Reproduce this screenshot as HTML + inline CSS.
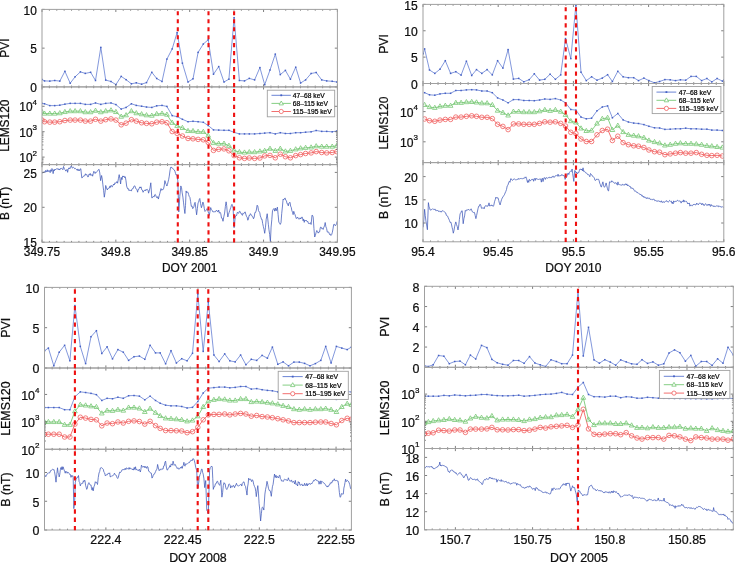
<!DOCTYPE html>
<html><head><meta charset="utf-8"><title>PVI LEMS B</title>
<style>
html,body{margin:0;padding:0;background:#fff;}
body{width:735px;height:562px;overflow:hidden;}
text{stroke:#000;stroke-width:0.22px;}
svg{display:block;will-change:transform;font-family:"Liberation Sans", sans-serif;}
</style></head>
<body>
<svg width="735" height="562" viewBox="0 0 735 562">
<rect width="735" height="562" fill="#fff"/>
<defs>
<clipPath id="tl0"><rect x="42" y="9.4" width="295.4" height="77.5"/></clipPath>
<clipPath id="tl1"><rect x="42" y="86.9" width="295.4" height="77.7"/></clipPath>
<clipPath id="tl2"><rect x="42" y="164.6" width="295.4" height="77.6"/></clipPath>
</defs>
<g clip-path="url(#tl0)">
<polyline points="42,79.5 44.5,80.9 49.8,81.1 54.7,80.5 59.8,81.1 64.9,71.3 70.2,83.2 75.1,76.8 80.4,71.9 85.3,73.4 90.6,72.3 95.5,80.5 100.8,47.4 105.7,80.1 111,81.5 115.9,84.6 121.2,76.4 126.1,79.7 131.4,83.8 136.3,82.8 141.6,84.2 146.5,82.6 151.8,72.3 156.7,78.5 162,81.5 166.9,59.1 172.2,48.9 177.1,32.6 182.4,63.2 188,82 193,78.8 198.1,52.4 203.3,44 208.2,39.8 213.5,74.2 218.7,66.6 224,82 228.9,79.2 234.1,17.7 239.4,80.5 244.5,80.9 249.3,78.4 254.6,79.9 259.9,67.6 264.7,84.7 270,70 275.3,54.1 280.3,74.6 285.4,70.4 290.4,79.2 295.7,67.2 300.6,83 305.6,79.9 311.1,73.5 316.2,72.5 321.7,79.9 326.7,80.9 332.2,81.3 336.8,82" fill="none" stroke="#5a76d0" stroke-width="0.75"/>
<rect x="41.25" y="78.75" width="1.5" height="1.5" fill="#4560c4"/>
<rect x="43.75" y="80.15" width="1.5" height="1.5" fill="#4560c4"/>
<rect x="49.05" y="80.35" width="1.5" height="1.5" fill="#4560c4"/>
<rect x="53.95" y="79.75" width="1.5" height="1.5" fill="#4560c4"/>
<rect x="59.05" y="80.35" width="1.5" height="1.5" fill="#4560c4"/>
<rect x="64.15" y="70.55" width="1.5" height="1.5" fill="#4560c4"/>
<rect x="69.45" y="82.45" width="1.5" height="1.5" fill="#4560c4"/>
<rect x="74.35" y="76.05" width="1.5" height="1.5" fill="#4560c4"/>
<rect x="79.65" y="71.15" width="1.5" height="1.5" fill="#4560c4"/>
<rect x="84.55" y="72.65" width="1.5" height="1.5" fill="#4560c4"/>
<rect x="89.85" y="71.55" width="1.5" height="1.5" fill="#4560c4"/>
<rect x="94.75" y="79.75" width="1.5" height="1.5" fill="#4560c4"/>
<rect x="100.05" y="46.65" width="1.5" height="1.5" fill="#4560c4"/>
<rect x="104.95" y="79.35" width="1.5" height="1.5" fill="#4560c4"/>
<rect x="110.25" y="80.75" width="1.5" height="1.5" fill="#4560c4"/>
<rect x="115.15" y="83.85" width="1.5" height="1.5" fill="#4560c4"/>
<rect x="120.45" y="75.65" width="1.5" height="1.5" fill="#4560c4"/>
<rect x="125.35" y="78.95" width="1.5" height="1.5" fill="#4560c4"/>
<rect x="130.65" y="83.05" width="1.5" height="1.5" fill="#4560c4"/>
<rect x="135.55" y="82.05" width="1.5" height="1.5" fill="#4560c4"/>
<rect x="140.85" y="83.45" width="1.5" height="1.5" fill="#4560c4"/>
<rect x="145.75" y="81.85" width="1.5" height="1.5" fill="#4560c4"/>
<rect x="151.05" y="71.55" width="1.5" height="1.5" fill="#4560c4"/>
<rect x="155.95" y="77.75" width="1.5" height="1.5" fill="#4560c4"/>
<rect x="161.25" y="80.75" width="1.5" height="1.5" fill="#4560c4"/>
<rect x="166.15" y="58.35" width="1.5" height="1.5" fill="#4560c4"/>
<rect x="171.45" y="48.15" width="1.5" height="1.5" fill="#4560c4"/>
<rect x="176.35" y="31.85" width="1.5" height="1.5" fill="#4560c4"/>
<rect x="181.65" y="62.45" width="1.5" height="1.5" fill="#4560c4"/>
<rect x="187.25" y="81.25" width="1.5" height="1.5" fill="#4560c4"/>
<rect x="192.25" y="78.05" width="1.5" height="1.5" fill="#4560c4"/>
<rect x="197.35" y="51.65" width="1.5" height="1.5" fill="#4560c4"/>
<rect x="202.55" y="43.25" width="1.5" height="1.5" fill="#4560c4"/>
<rect x="207.45" y="39.05" width="1.5" height="1.5" fill="#4560c4"/>
<rect x="212.75" y="73.45" width="1.5" height="1.5" fill="#4560c4"/>
<rect x="217.95" y="65.85" width="1.5" height="1.5" fill="#4560c4"/>
<rect x="223.25" y="81.25" width="1.5" height="1.5" fill="#4560c4"/>
<rect x="228.15" y="78.45" width="1.5" height="1.5" fill="#4560c4"/>
<rect x="233.35" y="16.95" width="1.5" height="1.5" fill="#4560c4"/>
<rect x="238.65" y="79.75" width="1.5" height="1.5" fill="#4560c4"/>
<rect x="243.75" y="80.15" width="1.5" height="1.5" fill="#4560c4"/>
<rect x="248.55" y="77.65" width="1.5" height="1.5" fill="#4560c4"/>
<rect x="253.85" y="79.15" width="1.5" height="1.5" fill="#4560c4"/>
<rect x="259.15" y="66.85" width="1.5" height="1.5" fill="#4560c4"/>
<rect x="263.95" y="83.95" width="1.5" height="1.5" fill="#4560c4"/>
<rect x="269.25" y="69.25" width="1.5" height="1.5" fill="#4560c4"/>
<rect x="274.55" y="53.35" width="1.5" height="1.5" fill="#4560c4"/>
<rect x="279.55" y="73.85" width="1.5" height="1.5" fill="#4560c4"/>
<rect x="284.65" y="69.65" width="1.5" height="1.5" fill="#4560c4"/>
<rect x="289.65" y="78.45" width="1.5" height="1.5" fill="#4560c4"/>
<rect x="294.95" y="66.45" width="1.5" height="1.5" fill="#4560c4"/>
<rect x="299.85" y="82.25" width="1.5" height="1.5" fill="#4560c4"/>
<rect x="304.85" y="79.15" width="1.5" height="1.5" fill="#4560c4"/>
<rect x="310.35" y="72.75" width="1.5" height="1.5" fill="#4560c4"/>
<rect x="315.45" y="71.75" width="1.5" height="1.5" fill="#4560c4"/>
<rect x="320.95" y="79.15" width="1.5" height="1.5" fill="#4560c4"/>
<rect x="325.95" y="80.15" width="1.5" height="1.5" fill="#4560c4"/>
<rect x="331.45" y="80.55" width="1.5" height="1.5" fill="#4560c4"/>
<rect x="336.05" y="81.25" width="1.5" height="1.5" fill="#4560c4"/>
</g>
<g clip-path="url(#tl1)">
<polyline points="42,120.1 44.5,121.73 49.8,122.14 54.7,122.14 59.8,121.73 64.9,120.51 70.2,120.1 75.1,120.1 80.4,120.1 85.3,121.12 90.6,121.12 95.5,119.29 100.8,121.12 105.7,119.69 111,118.88 115.9,120.1 121.2,124.8 126.1,123.16 131.4,119.69 136.3,121.12 141.6,122.76 146.5,123.37 151.8,123.78 156.7,122.14 162,121.73 166.9,122.76 172.2,131.53 177.1,133.37 182.4,136.02 188,138.47 193,138.8 198.1,139.4 203.3,139.8 208.2,142.4 213.5,150.4 218.7,149.3 224,148.9 228.9,150.8 234.1,155.6 239.4,157.8 244.5,158.4 249.3,158 254.6,158.4 259.9,158 264.7,155.9 270,155.4 275.3,157.8 280.3,154.2 285.4,156.7 290.4,157.8 295.7,155.6 300.6,154.6 305.6,153.5 311.1,152.9 316.2,151.6 321.7,152.5 326.7,152.9 332.2,152.5 336.8,151.6" fill="none" stroke="#f06060" stroke-width="0.9"/>
<circle cx="42" cy="120.1" r="2.3" fill="none" stroke="#f06060" stroke-width="0.8"/>
<circle cx="44.5" cy="121.73" r="2.3" fill="none" stroke="#f06060" stroke-width="0.8"/>
<circle cx="49.8" cy="122.14" r="2.3" fill="none" stroke="#f06060" stroke-width="0.8"/>
<circle cx="54.7" cy="122.14" r="2.3" fill="none" stroke="#f06060" stroke-width="0.8"/>
<circle cx="59.8" cy="121.73" r="2.3" fill="none" stroke="#f06060" stroke-width="0.8"/>
<circle cx="64.9" cy="120.51" r="2.3" fill="none" stroke="#f06060" stroke-width="0.8"/>
<circle cx="70.2" cy="120.1" r="2.3" fill="none" stroke="#f06060" stroke-width="0.8"/>
<circle cx="75.1" cy="120.1" r="2.3" fill="none" stroke="#f06060" stroke-width="0.8"/>
<circle cx="80.4" cy="120.1" r="2.3" fill="none" stroke="#f06060" stroke-width="0.8"/>
<circle cx="85.3" cy="121.12" r="2.3" fill="none" stroke="#f06060" stroke-width="0.8"/>
<circle cx="90.6" cy="121.12" r="2.3" fill="none" stroke="#f06060" stroke-width="0.8"/>
<circle cx="95.5" cy="119.29" r="2.3" fill="none" stroke="#f06060" stroke-width="0.8"/>
<circle cx="100.8" cy="121.12" r="2.3" fill="none" stroke="#f06060" stroke-width="0.8"/>
<circle cx="105.7" cy="119.69" r="2.3" fill="none" stroke="#f06060" stroke-width="0.8"/>
<circle cx="111" cy="118.88" r="2.3" fill="none" stroke="#f06060" stroke-width="0.8"/>
<circle cx="115.9" cy="120.1" r="2.3" fill="none" stroke="#f06060" stroke-width="0.8"/>
<circle cx="121.2" cy="124.8" r="2.3" fill="none" stroke="#f06060" stroke-width="0.8"/>
<circle cx="126.1" cy="123.16" r="2.3" fill="none" stroke="#f06060" stroke-width="0.8"/>
<circle cx="131.4" cy="119.69" r="2.3" fill="none" stroke="#f06060" stroke-width="0.8"/>
<circle cx="136.3" cy="121.12" r="2.3" fill="none" stroke="#f06060" stroke-width="0.8"/>
<circle cx="141.6" cy="122.76" r="2.3" fill="none" stroke="#f06060" stroke-width="0.8"/>
<circle cx="146.5" cy="123.37" r="2.3" fill="none" stroke="#f06060" stroke-width="0.8"/>
<circle cx="151.8" cy="123.78" r="2.3" fill="none" stroke="#f06060" stroke-width="0.8"/>
<circle cx="156.7" cy="122.14" r="2.3" fill="none" stroke="#f06060" stroke-width="0.8"/>
<circle cx="162" cy="121.73" r="2.3" fill="none" stroke="#f06060" stroke-width="0.8"/>
<circle cx="166.9" cy="122.76" r="2.3" fill="none" stroke="#f06060" stroke-width="0.8"/>
<circle cx="172.2" cy="131.53" r="2.3" fill="none" stroke="#f06060" stroke-width="0.8"/>
<circle cx="177.1" cy="133.37" r="2.3" fill="none" stroke="#f06060" stroke-width="0.8"/>
<circle cx="182.4" cy="136.02" r="2.3" fill="none" stroke="#f06060" stroke-width="0.8"/>
<circle cx="188" cy="138.47" r="2.3" fill="none" stroke="#f06060" stroke-width="0.8"/>
<circle cx="193" cy="138.8" r="2.3" fill="none" stroke="#f06060" stroke-width="0.8"/>
<circle cx="198.1" cy="139.4" r="2.3" fill="none" stroke="#f06060" stroke-width="0.8"/>
<circle cx="203.3" cy="139.8" r="2.3" fill="none" stroke="#f06060" stroke-width="0.8"/>
<circle cx="208.2" cy="142.4" r="2.3" fill="none" stroke="#f06060" stroke-width="0.8"/>
<circle cx="213.5" cy="150.4" r="2.3" fill="none" stroke="#f06060" stroke-width="0.8"/>
<circle cx="218.7" cy="149.3" r="2.3" fill="none" stroke="#f06060" stroke-width="0.8"/>
<circle cx="224" cy="148.9" r="2.3" fill="none" stroke="#f06060" stroke-width="0.8"/>
<circle cx="228.9" cy="150.8" r="2.3" fill="none" stroke="#f06060" stroke-width="0.8"/>
<circle cx="234.1" cy="155.6" r="2.3" fill="none" stroke="#f06060" stroke-width="0.8"/>
<circle cx="239.4" cy="157.8" r="2.3" fill="none" stroke="#f06060" stroke-width="0.8"/>
<circle cx="244.5" cy="158.4" r="2.3" fill="none" stroke="#f06060" stroke-width="0.8"/>
<circle cx="249.3" cy="158" r="2.3" fill="none" stroke="#f06060" stroke-width="0.8"/>
<circle cx="254.6" cy="158.4" r="2.3" fill="none" stroke="#f06060" stroke-width="0.8"/>
<circle cx="259.9" cy="158" r="2.3" fill="none" stroke="#f06060" stroke-width="0.8"/>
<circle cx="264.7" cy="155.9" r="2.3" fill="none" stroke="#f06060" stroke-width="0.8"/>
<circle cx="270" cy="155.4" r="2.3" fill="none" stroke="#f06060" stroke-width="0.8"/>
<circle cx="275.3" cy="157.8" r="2.3" fill="none" stroke="#f06060" stroke-width="0.8"/>
<circle cx="280.3" cy="154.2" r="2.3" fill="none" stroke="#f06060" stroke-width="0.8"/>
<circle cx="285.4" cy="156.7" r="2.3" fill="none" stroke="#f06060" stroke-width="0.8"/>
<circle cx="290.4" cy="157.8" r="2.3" fill="none" stroke="#f06060" stroke-width="0.8"/>
<circle cx="295.7" cy="155.6" r="2.3" fill="none" stroke="#f06060" stroke-width="0.8"/>
<circle cx="300.6" cy="154.6" r="2.3" fill="none" stroke="#f06060" stroke-width="0.8"/>
<circle cx="305.6" cy="153.5" r="2.3" fill="none" stroke="#f06060" stroke-width="0.8"/>
<circle cx="311.1" cy="152.9" r="2.3" fill="none" stroke="#f06060" stroke-width="0.8"/>
<circle cx="316.2" cy="151.6" r="2.3" fill="none" stroke="#f06060" stroke-width="0.8"/>
<circle cx="321.7" cy="152.5" r="2.3" fill="none" stroke="#f06060" stroke-width="0.8"/>
<circle cx="326.7" cy="152.9" r="2.3" fill="none" stroke="#f06060" stroke-width="0.8"/>
<circle cx="332.2" cy="152.5" r="2.3" fill="none" stroke="#f06060" stroke-width="0.8"/>
<circle cx="336.8" cy="151.6" r="2.3" fill="none" stroke="#f06060" stroke-width="0.8"/>
<polyline points="42,111.94 44.5,113.57 49.8,113.57 54.7,113.57 59.8,113.16 64.9,111.94 70.2,111.12 75.1,111.12 80.4,111.12 85.3,112.14 90.6,112.14 95.5,110.71 100.8,112.14 105.7,111.12 111,110.31 115.9,111.94 121.2,116.63 126.1,115.2 131.4,111.12 136.3,113.16 141.6,114.18 146.5,115.2 151.8,115.61 156.7,113.98 162,113.57 166.9,114.59 172.2,122.76 177.1,125.82 182.4,127.86 188,130.92 193,131 198.1,131.8 203.3,131.8 208.2,135.6 213.5,143 218.7,143.6 224,143.6 228.9,145.7 234.1,150.4 239.4,152.1 244.5,152.5 249.3,152.1 254.6,152.1 259.9,151.4 264.7,150.8 270,148.7 275.3,150.8 280.3,148.7 285.4,151.4 290.4,150.8 295.7,149.3 300.6,148.3 305.6,147.8 311.1,147.4 316.2,146.2 321.7,146.6 326.7,146.6 332.2,146.6 336.8,145.7" fill="none" stroke="#78c876" stroke-width="0.9"/>
<path d="M42,109.34 L44.35,113.54 L39.65,113.54 Z" fill="none" stroke="#78c876" stroke-width="0.8"/>
<path d="M44.5,110.97 L46.85,115.17 L42.15,115.17 Z" fill="none" stroke="#78c876" stroke-width="0.8"/>
<path d="M49.8,110.97 L52.15,115.17 L47.45,115.17 Z" fill="none" stroke="#78c876" stroke-width="0.8"/>
<path d="M54.7,110.97 L57.05,115.17 L52.35,115.17 Z" fill="none" stroke="#78c876" stroke-width="0.8"/>
<path d="M59.8,110.56 L62.15,114.76 L57.45,114.76 Z" fill="none" stroke="#78c876" stroke-width="0.8"/>
<path d="M64.9,109.34 L67.25,113.54 L62.55,113.54 Z" fill="none" stroke="#78c876" stroke-width="0.8"/>
<path d="M70.2,108.52 L72.55,112.72 L67.85,112.72 Z" fill="none" stroke="#78c876" stroke-width="0.8"/>
<path d="M75.1,108.52 L77.45,112.72 L72.75,112.72 Z" fill="none" stroke="#78c876" stroke-width="0.8"/>
<path d="M80.4,108.52 L82.75,112.72 L78.05,112.72 Z" fill="none" stroke="#78c876" stroke-width="0.8"/>
<path d="M85.3,109.54 L87.65,113.74 L82.95,113.74 Z" fill="none" stroke="#78c876" stroke-width="0.8"/>
<path d="M90.6,109.54 L92.95,113.74 L88.25,113.74 Z" fill="none" stroke="#78c876" stroke-width="0.8"/>
<path d="M95.5,108.11 L97.85,112.31 L93.15,112.31 Z" fill="none" stroke="#78c876" stroke-width="0.8"/>
<path d="M100.8,109.54 L103.15,113.74 L98.45,113.74 Z" fill="none" stroke="#78c876" stroke-width="0.8"/>
<path d="M105.7,108.52 L108.05,112.72 L103.35,112.72 Z" fill="none" stroke="#78c876" stroke-width="0.8"/>
<path d="M111,107.71 L113.35,111.91 L108.65,111.91 Z" fill="none" stroke="#78c876" stroke-width="0.8"/>
<path d="M115.9,109.34 L118.25,113.54 L113.55,113.54 Z" fill="none" stroke="#78c876" stroke-width="0.8"/>
<path d="M121.2,114.03 L123.55,118.23 L118.85,118.23 Z" fill="none" stroke="#78c876" stroke-width="0.8"/>
<path d="M126.1,112.6 L128.45,116.8 L123.75,116.8 Z" fill="none" stroke="#78c876" stroke-width="0.8"/>
<path d="M131.4,108.52 L133.75,112.72 L129.05,112.72 Z" fill="none" stroke="#78c876" stroke-width="0.8"/>
<path d="M136.3,110.56 L138.65,114.76 L133.95,114.76 Z" fill="none" stroke="#78c876" stroke-width="0.8"/>
<path d="M141.6,111.58 L143.95,115.78 L139.25,115.78 Z" fill="none" stroke="#78c876" stroke-width="0.8"/>
<path d="M146.5,112.6 L148.85,116.8 L144.15,116.8 Z" fill="none" stroke="#78c876" stroke-width="0.8"/>
<path d="M151.8,113.01 L154.15,117.21 L149.45,117.21 Z" fill="none" stroke="#78c876" stroke-width="0.8"/>
<path d="M156.7,111.38 L159.05,115.58 L154.35,115.58 Z" fill="none" stroke="#78c876" stroke-width="0.8"/>
<path d="M162,110.97 L164.35,115.17 L159.65,115.17 Z" fill="none" stroke="#78c876" stroke-width="0.8"/>
<path d="M166.9,111.99 L169.25,116.19 L164.55,116.19 Z" fill="none" stroke="#78c876" stroke-width="0.8"/>
<path d="M172.2,120.16 L174.55,124.36 L169.85,124.36 Z" fill="none" stroke="#78c876" stroke-width="0.8"/>
<path d="M177.1,123.22 L179.45,127.42 L174.75,127.42 Z" fill="none" stroke="#78c876" stroke-width="0.8"/>
<path d="M182.4,125.26 L184.75,129.46 L180.05,129.46 Z" fill="none" stroke="#78c876" stroke-width="0.8"/>
<path d="M188,128.32 L190.35,132.52 L185.65,132.52 Z" fill="none" stroke="#78c876" stroke-width="0.8"/>
<path d="M193,128.4 L195.35,132.6 L190.65,132.6 Z" fill="none" stroke="#78c876" stroke-width="0.8"/>
<path d="M198.1,129.2 L200.45,133.4 L195.75,133.4 Z" fill="none" stroke="#78c876" stroke-width="0.8"/>
<path d="M203.3,129.2 L205.65,133.4 L200.95,133.4 Z" fill="none" stroke="#78c876" stroke-width="0.8"/>
<path d="M208.2,133 L210.55,137.2 L205.85,137.2 Z" fill="none" stroke="#78c876" stroke-width="0.8"/>
<path d="M213.5,140.4 L215.85,144.6 L211.15,144.6 Z" fill="none" stroke="#78c876" stroke-width="0.8"/>
<path d="M218.7,141 L221.05,145.2 L216.35,145.2 Z" fill="none" stroke="#78c876" stroke-width="0.8"/>
<path d="M224,141 L226.35,145.2 L221.65,145.2 Z" fill="none" stroke="#78c876" stroke-width="0.8"/>
<path d="M228.9,143.1 L231.25,147.3 L226.55,147.3 Z" fill="none" stroke="#78c876" stroke-width="0.8"/>
<path d="M234.1,147.8 L236.45,152 L231.75,152 Z" fill="none" stroke="#78c876" stroke-width="0.8"/>
<path d="M239.4,149.5 L241.75,153.7 L237.05,153.7 Z" fill="none" stroke="#78c876" stroke-width="0.8"/>
<path d="M244.5,149.9 L246.85,154.1 L242.15,154.1 Z" fill="none" stroke="#78c876" stroke-width="0.8"/>
<path d="M249.3,149.5 L251.65,153.7 L246.95,153.7 Z" fill="none" stroke="#78c876" stroke-width="0.8"/>
<path d="M254.6,149.5 L256.95,153.7 L252.25,153.7 Z" fill="none" stroke="#78c876" stroke-width="0.8"/>
<path d="M259.9,148.8 L262.25,153 L257.55,153 Z" fill="none" stroke="#78c876" stroke-width="0.8"/>
<path d="M264.7,148.2 L267.05,152.4 L262.35,152.4 Z" fill="none" stroke="#78c876" stroke-width="0.8"/>
<path d="M270,146.1 L272.35,150.3 L267.65,150.3 Z" fill="none" stroke="#78c876" stroke-width="0.8"/>
<path d="M275.3,148.2 L277.65,152.4 L272.95,152.4 Z" fill="none" stroke="#78c876" stroke-width="0.8"/>
<path d="M280.3,146.1 L282.65,150.3 L277.95,150.3 Z" fill="none" stroke="#78c876" stroke-width="0.8"/>
<path d="M285.4,148.8 L287.75,153 L283.05,153 Z" fill="none" stroke="#78c876" stroke-width="0.8"/>
<path d="M290.4,148.2 L292.75,152.4 L288.05,152.4 Z" fill="none" stroke="#78c876" stroke-width="0.8"/>
<path d="M295.7,146.7 L298.05,150.9 L293.35,150.9 Z" fill="none" stroke="#78c876" stroke-width="0.8"/>
<path d="M300.6,145.7 L302.95,149.9 L298.25,149.9 Z" fill="none" stroke="#78c876" stroke-width="0.8"/>
<path d="M305.6,145.2 L307.95,149.4 L303.25,149.4 Z" fill="none" stroke="#78c876" stroke-width="0.8"/>
<path d="M311.1,144.8 L313.45,149 L308.75,149 Z" fill="none" stroke="#78c876" stroke-width="0.8"/>
<path d="M316.2,143.6 L318.55,147.8 L313.85,147.8 Z" fill="none" stroke="#78c876" stroke-width="0.8"/>
<path d="M321.7,144 L324.05,148.2 L319.35,148.2 Z" fill="none" stroke="#78c876" stroke-width="0.8"/>
<path d="M326.7,144 L329.05,148.2 L324.35,148.2 Z" fill="none" stroke="#78c876" stroke-width="0.8"/>
<path d="M332.2,144 L334.55,148.2 L329.85,148.2 Z" fill="none" stroke="#78c876" stroke-width="0.8"/>
<path d="M336.8,143.1 L339.15,147.3 L334.45,147.3 Z" fill="none" stroke="#78c876" stroke-width="0.8"/>
<polyline points="42,103.37 44.5,103.78 49.8,105.61 54.7,105.61 59.8,105.2 64.9,104.18 70.2,103.37 75.1,103.37 80.4,103.37 85.3,104.39 90.6,104.39 95.5,102.96 100.8,104.39 105.7,103.37 111,102.96 115.9,104.59 121.2,109.08 126.1,107.45 131.4,103.78 136.3,105.41 141.6,106.22 146.5,107.04 151.8,107.45 156.7,105.82 162,105.41 166.9,106.43 172.2,115.61 177.1,116.63 182.4,119.29 188,121.73 193,121.3 198.1,121.7 203.3,122.3 208.2,125.5 213.5,129.9 218.7,130.1 224,130.3 228.9,130.3 234.1,132.4 239.4,133.9 244.5,133.9 249.3,133.9 254.6,133.9 259.9,133.5 264.7,133.1 270,132.7 275.3,133.9 280.3,132.7 285.4,133.5 290.4,133.5 295.7,132.7 300.6,132.7 305.6,132.2 311.1,131.8 316.2,130.5 321.7,131.4 326.7,131.4 332.2,131.8 336.8,131" fill="none" stroke="#5a76d0" stroke-width="0.75"/>
<rect x="41.25" y="102.62" width="1.5" height="1.5" fill="#4560c4"/>
<rect x="43.75" y="103.03" width="1.5" height="1.5" fill="#4560c4"/>
<rect x="49.05" y="104.86" width="1.5" height="1.5" fill="#4560c4"/>
<rect x="53.95" y="104.86" width="1.5" height="1.5" fill="#4560c4"/>
<rect x="59.05" y="104.45" width="1.5" height="1.5" fill="#4560c4"/>
<rect x="64.15" y="103.43" width="1.5" height="1.5" fill="#4560c4"/>
<rect x="69.45" y="102.62" width="1.5" height="1.5" fill="#4560c4"/>
<rect x="74.35" y="102.62" width="1.5" height="1.5" fill="#4560c4"/>
<rect x="79.65" y="102.62" width="1.5" height="1.5" fill="#4560c4"/>
<rect x="84.55" y="103.64" width="1.5" height="1.5" fill="#4560c4"/>
<rect x="89.85" y="103.64" width="1.5" height="1.5" fill="#4560c4"/>
<rect x="94.75" y="102.21" width="1.5" height="1.5" fill="#4560c4"/>
<rect x="100.05" y="103.64" width="1.5" height="1.5" fill="#4560c4"/>
<rect x="104.95" y="102.62" width="1.5" height="1.5" fill="#4560c4"/>
<rect x="110.25" y="102.21" width="1.5" height="1.5" fill="#4560c4"/>
<rect x="115.15" y="103.84" width="1.5" height="1.5" fill="#4560c4"/>
<rect x="120.45" y="108.33" width="1.5" height="1.5" fill="#4560c4"/>
<rect x="125.35" y="106.7" width="1.5" height="1.5" fill="#4560c4"/>
<rect x="130.65" y="103.03" width="1.5" height="1.5" fill="#4560c4"/>
<rect x="135.55" y="104.66" width="1.5" height="1.5" fill="#4560c4"/>
<rect x="140.85" y="105.47" width="1.5" height="1.5" fill="#4560c4"/>
<rect x="145.75" y="106.29" width="1.5" height="1.5" fill="#4560c4"/>
<rect x="151.05" y="106.7" width="1.5" height="1.5" fill="#4560c4"/>
<rect x="155.95" y="105.07" width="1.5" height="1.5" fill="#4560c4"/>
<rect x="161.25" y="104.66" width="1.5" height="1.5" fill="#4560c4"/>
<rect x="166.15" y="105.68" width="1.5" height="1.5" fill="#4560c4"/>
<rect x="171.45" y="114.86" width="1.5" height="1.5" fill="#4560c4"/>
<rect x="176.35" y="115.88" width="1.5" height="1.5" fill="#4560c4"/>
<rect x="181.65" y="118.54" width="1.5" height="1.5" fill="#4560c4"/>
<rect x="187.25" y="120.98" width="1.5" height="1.5" fill="#4560c4"/>
<rect x="192.25" y="120.55" width="1.5" height="1.5" fill="#4560c4"/>
<rect x="197.35" y="120.95" width="1.5" height="1.5" fill="#4560c4"/>
<rect x="202.55" y="121.55" width="1.5" height="1.5" fill="#4560c4"/>
<rect x="207.45" y="124.75" width="1.5" height="1.5" fill="#4560c4"/>
<rect x="212.75" y="129.15" width="1.5" height="1.5" fill="#4560c4"/>
<rect x="217.95" y="129.35" width="1.5" height="1.5" fill="#4560c4"/>
<rect x="223.25" y="129.55" width="1.5" height="1.5" fill="#4560c4"/>
<rect x="228.15" y="129.55" width="1.5" height="1.5" fill="#4560c4"/>
<rect x="233.35" y="131.65" width="1.5" height="1.5" fill="#4560c4"/>
<rect x="238.65" y="133.15" width="1.5" height="1.5" fill="#4560c4"/>
<rect x="243.75" y="133.15" width="1.5" height="1.5" fill="#4560c4"/>
<rect x="248.55" y="133.15" width="1.5" height="1.5" fill="#4560c4"/>
<rect x="253.85" y="133.15" width="1.5" height="1.5" fill="#4560c4"/>
<rect x="259.15" y="132.75" width="1.5" height="1.5" fill="#4560c4"/>
<rect x="263.95" y="132.35" width="1.5" height="1.5" fill="#4560c4"/>
<rect x="269.25" y="131.95" width="1.5" height="1.5" fill="#4560c4"/>
<rect x="274.55" y="133.15" width="1.5" height="1.5" fill="#4560c4"/>
<rect x="279.55" y="131.95" width="1.5" height="1.5" fill="#4560c4"/>
<rect x="284.65" y="132.75" width="1.5" height="1.5" fill="#4560c4"/>
<rect x="289.65" y="132.75" width="1.5" height="1.5" fill="#4560c4"/>
<rect x="294.95" y="131.95" width="1.5" height="1.5" fill="#4560c4"/>
<rect x="299.85" y="131.95" width="1.5" height="1.5" fill="#4560c4"/>
<rect x="304.85" y="131.45" width="1.5" height="1.5" fill="#4560c4"/>
<rect x="310.35" y="131.05" width="1.5" height="1.5" fill="#4560c4"/>
<rect x="315.45" y="129.75" width="1.5" height="1.5" fill="#4560c4"/>
<rect x="320.95" y="130.65" width="1.5" height="1.5" fill="#4560c4"/>
<rect x="325.95" y="130.65" width="1.5" height="1.5" fill="#4560c4"/>
<rect x="331.45" y="131.05" width="1.5" height="1.5" fill="#4560c4"/>
<rect x="336.05" y="130.25" width="1.5" height="1.5" fill="#4560c4"/>
</g>
<g clip-path="url(#tl2)">
<polyline points="42,173.63 42.59,172.39 43.17,172.32 43.76,172.32 44.34,171.75 44.93,172.53 45.51,170.53 46.1,172.07 46.69,171.12 47.27,169.81 47.86,171.98 48.44,171.18 49.03,170.28 49.61,171.82 50.2,172.65 50.79,169.72 51.37,171.37 51.96,168.52 52.54,169.21 53.13,173.63 53.71,169.82 54.3,170.87 54.9,169.02 55.5,169.87 56.1,169.21 56.7,168.6 57.3,169.29 57.92,168.48 58.54,169.66 59.16,168.96 59.78,170.05 60.4,168.48 61.02,168.73 61.64,168.29 62.26,168.94 62.88,169.79 63.5,166.53 64.1,168.19 64.7,169.4 65.3,169.95 65.9,171.15 66.5,169.98 67.07,169.33 67.63,172.34 68.2,169.43 68.77,167.96 69.33,168.03 69.9,168.91 70.47,166.77 71.03,166.97 71.6,166.2 72.22,168.11 72.84,167.68 73.46,167.33 74.08,167.74 74.7,168.78 75.37,168.38 76.03,169.26 76.7,169.59 77.29,170.45 77.87,168.88 78.46,170.62 79.04,169.76 79.63,170.7 80.21,168.93 80.8,168.73 81.8,177.91 82.42,177.65 83.04,176.4 83.66,176.15 84.28,176.12 84.9,175.17 85.49,173.78 86.07,175.2 86.66,174.5 87.24,175.48 87.83,176.96 88.41,176.7 89,174.29 89.6,175.05 90.2,173.42 90.8,175.35 91.4,175.25 92,174.53 92.62,176.2 93.24,173.5 93.86,171.27 94.48,172.26 95.1,173.52 95.72,172.15 96.34,172.45 96.96,171.67 97.58,170.68 98.2,170.01 99,169.21 99.8,172.96 100.6,180.63 101.6,175.51 102.25,179.09 102.9,184.84 103.6,190.27 104.3,197.19 105,192.62 105.7,185.48 106.5,187.95 107.3,189.98 108,188.37 108.7,188.22 109.4,188 110,185.93 110.6,187.4 111.2,185.37 111.8,186.36 112.4,186.75 113.02,185.37 113.64,184 114.26,184.97 114.88,182.79 115.5,183.14 116.2,182.92 116.9,181.54 117.6,183.2 118.4,178.72 119.2,174.64 119.9,178.7 120.6,183.97 121.3,177.43 122,179.64 122.7,175.92 123.35,176.88 124,175.95 124.65,177.67 125.3,176.78 125.97,180.7 126.63,186.05 127.3,188.14 127.88,189.08 128.47,188.71 129.05,190.72 129.63,190.08 130.22,190.33 130.8,190.53 131.39,191.1 131.97,188.97 132.56,188.64 133.14,188.58 133.73,186.47 134.31,186.08 134.9,185.86 135.57,188.19 136.25,189.1 136.93,189.44 137.6,192.21 138.17,189.5 138.73,189.51 139.3,187.84 139.87,186.86 140.43,188 141,186.86 141.7,189.75 142.4,190.09 143.1,192.29 143.7,191.02 144.3,190.31 144.9,190.18 145.5,190.95 146.1,189.3 146.72,190 147.34,189.42 147.96,190.07 148.58,193.18 149.2,190.99 150,187.89 150.8,182.81 151.8,197.92 152.38,197.75 152.97,196.54 153.55,196.6 154.13,196.9 154.72,194.84 155.3,194.45 155.92,195.85 156.54,197.46 157.16,197.89 157.78,196.6 158.4,199.06 159.07,196.12 159.73,193.86 160.4,191.09 161.02,188.56 161.64,190.27 162.26,189.61 162.88,189.8 163.5,188.9 164.2,185.99 164.9,180.59 165.57,183.1 166.23,184.33 166.9,186.04 167.47,184.45 168.03,181.94 168.6,179.83 169.27,176.14 169.93,171.06 170.6,167.35 171.22,167.1 171.84,168.02 172.46,168.23 173.08,168.55 173.7,169.64 174.3,170.01 174.9,171.13 175.5,173.31 176.1,175.11 176.7,174.59 177.25,177.21 177.8,180.47 178.8,211.89 179.8,196.44 180.8,185.93 181.5,187.48 182.2,192.92 182.9,197.08 183.57,202.87 184.23,208.46 184.9,213.54 185.5,205.53 186.1,190.94 186.8,192.75 187.5,191.91 188.07,192.38 188.63,194.55 189.2,196.4 189.9,197.4 190.6,201.49 191.3,206.33 192,205.85 192.7,208.64 193.4,207.75 193.97,206.43 194.53,203.29 195.1,202.33 195.85,208.54 196.6,214.81 197.35,208.71 198.1,202.58 198.67,202.2 199.23,199.59 199.8,198.49 200.6,203.63 201.4,207.72 202.15,205.38 202.9,202.05 203.6,204.19 204.3,208.56 205,211.47 205.7,210.77 206.4,209.81 207.1,208.57 207.65,209.72 208.2,212.01 208.75,213.3 209.3,215.36 210,211.46 210.7,207.58 211.26,209.27 211.82,209.85 212.38,210.86 212.94,211.99 213.5,211.84 214.12,212 214.74,211.64 215.36,211.82 215.98,210.9 216.6,210.04 217.3,211.43 218,211.99 218.7,210.04 219.4,213.23 220.1,212.34 220.8,213.75 221.53,218.13 222.27,218.27 223,221.27 223.8,216.79 224.6,213.14 225.35,206.63 226.1,201.82 226.67,205.59 227.23,211.99 227.8,216.99 228.43,214.61 229.07,212.5 229.7,210.79 230.27,208.93 230.83,207.42 231.4,205.41 231.97,204.34 232.53,206.44 233.1,208.18 234.1,227.69 235.2,217.27 235.9,215.42 236.6,215.51 237.3,212.38 237.93,212.75 238.55,213.38 239.18,211.57 239.8,211.11 240.45,213.03 241.1,213.07 241.75,214.62 242.4,215.37 243.07,212.92 243.75,213.63 244.43,213.02 245.1,211.84 245.78,214.13 246.45,216.3 247.12,217.08 247.8,220.24 248.45,218.96 249.1,215.36 249.75,215.55 250.4,213.65 251.02,214.79 251.64,215.23 252.26,216.57 252.88,216.85 253.5,218.8 254.2,217.12 254.9,212.51 255.6,212.45 256.35,210 257.1,205.19 257.8,205.92 258.5,210.57 259.2,211.94 259.76,212.32 260.32,215.94 260.88,217.21 261.44,219.27 262,219.2 262.68,223.58 263.35,226.55 264.02,229.31 264.7,233.3 265.45,227.72 266.2,219.27 267.2,213.73 267.77,218.88 268.33,224.25 268.9,229.23 269.65,234.51 270.4,241.57 271.1,227.14 271.8,219.72 272.5,210.7 273.2,209.36 273.9,208.53 274.6,211.15 275.35,208.11 276.1,210.93 276.75,208.79 277.4,207.17 278.1,214.5 278.8,222.09 279.53,223.03 280.27,224.4 281,222.69 281.7,213.7 282.4,207 283.1,199.13 283.78,199.92 284.45,198.51 285.12,197.95 285.8,200.33 286.43,200.69 287.05,203.77 287.68,203.87 288.3,205.86 288.87,203.12 289.43,202.69 290,202.18 290.62,206.13 291.25,207.38 291.88,210.76 292.5,212.17 293.14,214.65 293.78,211.3 294.42,213.27 295.06,214.69 295.7,216.84 296.34,218.6 296.98,217.85 297.62,216.99 298.26,218.75 298.9,218.95 299.52,219.05 300.14,217.75 300.76,219.03 301.38,217.82 302,216.9 302.56,217.99 303.12,220.8 303.68,219.14 304.24,222.35 304.8,220.2 305.4,221.02 306,220.2 306.6,220.62 307.2,221.76 307.8,221.34 308.4,223.39 309.07,223.77 309.75,223.35 310.43,222.73 311.1,224.48 312,215.11 312.6,215.49 313.2,217.17 313.95,228.49 314.7,237.03 315.4,235.25 316.1,232.49 316.8,230.51 317.5,231.72 318.2,233.13 318.9,231.89 319.6,231.97 320.3,227.51 321,226.93 321.7,228.67 322.4,228.38 323.1,229.46 323.8,227.28 324.5,225.97 325.2,222.52 325.9,226.76 326.6,228.48 327.3,232.1 328.03,231.92 328.77,232.14 329.5,234.44 330.2,234.06 330.9,235.5 331.6,234.66 332.3,232.55 333,228.82 333.7,224.48 334.4,224.25 335.1,225.65 335.8,225.35 336.5,223.7 337.2,221.21" fill="none" stroke="#3f58b8" stroke-width="0.75" stroke-linejoin="round"/>
</g>
<rect x="267.3" y="90.2" width="67.4" height="26.6" fill="#fff" stroke="#a0a0a0" stroke-width="0.9"/>
<line x1="271.48" y1="95.3" x2="290.89" y2="95.3" stroke="#5a76d0" stroke-width="0.9"/>
<rect x="280.35" y="94.4" width="1.8" height="1.8" fill="#4560c4"/>
<text x="292.84" y="97.7" font-size="6.7" fill="#000">47–68 keV</text>
<line x1="271.48" y1="103.4" x2="290.89" y2="103.4" stroke="#78c876" stroke-width="0.9"/>
<path d="M281.25,101 L283.45,104.9 L279.05,104.9 Z" fill="#fff" stroke="#78c876" stroke-width="0.8"/>
<text x="292.84" y="105.8" font-size="6.7" fill="#000">68–115 keV</text>
<line x1="271.48" y1="111.5" x2="290.89" y2="111.5" stroke="#f06060" stroke-width="0.9"/>
<circle cx="281.25" cy="111.5" r="2.1" fill="#fff" stroke="#f06060" stroke-width="0.8"/>
<text x="292.84" y="113.9" font-size="6.7" fill="#000">115–195 keV</text>
<line x1="42" y1="9.4" x2="42" y2="12" stroke="#5e5e5e" stroke-width="0.8"/>
<line x1="42" y1="86.9" x2="42" y2="84.3" stroke="#5e5e5e" stroke-width="0.8"/>
<line x1="42" y1="86.9" x2="42" y2="89.5" stroke="#5e5e5e" stroke-width="0.8"/>
<line x1="42" y1="164.6" x2="42" y2="162" stroke="#5e5e5e" stroke-width="0.8"/>
<line x1="42" y1="164.6" x2="42" y2="167.2" stroke="#5e5e5e" stroke-width="0.8"/>
<line x1="42" y1="242.2" x2="42" y2="239.6" stroke="#5e5e5e" stroke-width="0.8"/>
<line x1="49.38" y1="9.4" x2="49.38" y2="10.7" stroke="#5e5e5e" stroke-width="0.8"/>
<line x1="49.38" y1="86.9" x2="49.38" y2="85.6" stroke="#5e5e5e" stroke-width="0.8"/>
<line x1="49.38" y1="86.9" x2="49.38" y2="88.2" stroke="#5e5e5e" stroke-width="0.8"/>
<line x1="49.38" y1="164.6" x2="49.38" y2="163.3" stroke="#5e5e5e" stroke-width="0.8"/>
<line x1="49.38" y1="164.6" x2="49.38" y2="165.9" stroke="#5e5e5e" stroke-width="0.8"/>
<line x1="49.38" y1="242.2" x2="49.38" y2="240.9" stroke="#5e5e5e" stroke-width="0.8"/>
<line x1="56.77" y1="9.4" x2="56.77" y2="10.7" stroke="#5e5e5e" stroke-width="0.8"/>
<line x1="56.77" y1="86.9" x2="56.77" y2="85.6" stroke="#5e5e5e" stroke-width="0.8"/>
<line x1="56.77" y1="86.9" x2="56.77" y2="88.2" stroke="#5e5e5e" stroke-width="0.8"/>
<line x1="56.77" y1="164.6" x2="56.77" y2="163.3" stroke="#5e5e5e" stroke-width="0.8"/>
<line x1="56.77" y1="164.6" x2="56.77" y2="165.9" stroke="#5e5e5e" stroke-width="0.8"/>
<line x1="56.77" y1="242.2" x2="56.77" y2="240.9" stroke="#5e5e5e" stroke-width="0.8"/>
<line x1="64.15" y1="9.4" x2="64.15" y2="10.7" stroke="#5e5e5e" stroke-width="0.8"/>
<line x1="64.15" y1="86.9" x2="64.15" y2="85.6" stroke="#5e5e5e" stroke-width="0.8"/>
<line x1="64.15" y1="86.9" x2="64.15" y2="88.2" stroke="#5e5e5e" stroke-width="0.8"/>
<line x1="64.15" y1="164.6" x2="64.15" y2="163.3" stroke="#5e5e5e" stroke-width="0.8"/>
<line x1="64.15" y1="164.6" x2="64.15" y2="165.9" stroke="#5e5e5e" stroke-width="0.8"/>
<line x1="64.15" y1="242.2" x2="64.15" y2="240.9" stroke="#5e5e5e" stroke-width="0.8"/>
<line x1="71.54" y1="9.4" x2="71.54" y2="10.7" stroke="#5e5e5e" stroke-width="0.8"/>
<line x1="71.54" y1="86.9" x2="71.54" y2="85.6" stroke="#5e5e5e" stroke-width="0.8"/>
<line x1="71.54" y1="86.9" x2="71.54" y2="88.2" stroke="#5e5e5e" stroke-width="0.8"/>
<line x1="71.54" y1="164.6" x2="71.54" y2="163.3" stroke="#5e5e5e" stroke-width="0.8"/>
<line x1="71.54" y1="164.6" x2="71.54" y2="165.9" stroke="#5e5e5e" stroke-width="0.8"/>
<line x1="71.54" y1="242.2" x2="71.54" y2="240.9" stroke="#5e5e5e" stroke-width="0.8"/>
<line x1="78.92" y1="9.4" x2="78.92" y2="10.7" stroke="#5e5e5e" stroke-width="0.8"/>
<line x1="78.92" y1="86.9" x2="78.92" y2="85.6" stroke="#5e5e5e" stroke-width="0.8"/>
<line x1="78.92" y1="86.9" x2="78.92" y2="88.2" stroke="#5e5e5e" stroke-width="0.8"/>
<line x1="78.92" y1="164.6" x2="78.92" y2="163.3" stroke="#5e5e5e" stroke-width="0.8"/>
<line x1="78.92" y1="164.6" x2="78.92" y2="165.9" stroke="#5e5e5e" stroke-width="0.8"/>
<line x1="78.92" y1="242.2" x2="78.92" y2="240.9" stroke="#5e5e5e" stroke-width="0.8"/>
<line x1="86.31" y1="9.4" x2="86.31" y2="10.7" stroke="#5e5e5e" stroke-width="0.8"/>
<line x1="86.31" y1="86.9" x2="86.31" y2="85.6" stroke="#5e5e5e" stroke-width="0.8"/>
<line x1="86.31" y1="86.9" x2="86.31" y2="88.2" stroke="#5e5e5e" stroke-width="0.8"/>
<line x1="86.31" y1="164.6" x2="86.31" y2="163.3" stroke="#5e5e5e" stroke-width="0.8"/>
<line x1="86.31" y1="164.6" x2="86.31" y2="165.9" stroke="#5e5e5e" stroke-width="0.8"/>
<line x1="86.31" y1="242.2" x2="86.31" y2="240.9" stroke="#5e5e5e" stroke-width="0.8"/>
<line x1="93.7" y1="9.4" x2="93.7" y2="10.7" stroke="#5e5e5e" stroke-width="0.8"/>
<line x1="93.7" y1="86.9" x2="93.7" y2="85.6" stroke="#5e5e5e" stroke-width="0.8"/>
<line x1="93.7" y1="86.9" x2="93.7" y2="88.2" stroke="#5e5e5e" stroke-width="0.8"/>
<line x1="93.7" y1="164.6" x2="93.7" y2="163.3" stroke="#5e5e5e" stroke-width="0.8"/>
<line x1="93.7" y1="164.6" x2="93.7" y2="165.9" stroke="#5e5e5e" stroke-width="0.8"/>
<line x1="93.7" y1="242.2" x2="93.7" y2="240.9" stroke="#5e5e5e" stroke-width="0.8"/>
<line x1="101.08" y1="9.4" x2="101.08" y2="10.7" stroke="#5e5e5e" stroke-width="0.8"/>
<line x1="101.08" y1="86.9" x2="101.08" y2="85.6" stroke="#5e5e5e" stroke-width="0.8"/>
<line x1="101.08" y1="86.9" x2="101.08" y2="88.2" stroke="#5e5e5e" stroke-width="0.8"/>
<line x1="101.08" y1="164.6" x2="101.08" y2="163.3" stroke="#5e5e5e" stroke-width="0.8"/>
<line x1="101.08" y1="164.6" x2="101.08" y2="165.9" stroke="#5e5e5e" stroke-width="0.8"/>
<line x1="101.08" y1="242.2" x2="101.08" y2="240.9" stroke="#5e5e5e" stroke-width="0.8"/>
<line x1="108.47" y1="9.4" x2="108.47" y2="10.7" stroke="#5e5e5e" stroke-width="0.8"/>
<line x1="108.47" y1="86.9" x2="108.47" y2="85.6" stroke="#5e5e5e" stroke-width="0.8"/>
<line x1="108.47" y1="86.9" x2="108.47" y2="88.2" stroke="#5e5e5e" stroke-width="0.8"/>
<line x1="108.47" y1="164.6" x2="108.47" y2="163.3" stroke="#5e5e5e" stroke-width="0.8"/>
<line x1="108.47" y1="164.6" x2="108.47" y2="165.9" stroke="#5e5e5e" stroke-width="0.8"/>
<line x1="108.47" y1="242.2" x2="108.47" y2="240.9" stroke="#5e5e5e" stroke-width="0.8"/>
<line x1="115.85" y1="9.4" x2="115.85" y2="12" stroke="#5e5e5e" stroke-width="0.8"/>
<line x1="115.85" y1="86.9" x2="115.85" y2="84.3" stroke="#5e5e5e" stroke-width="0.8"/>
<line x1="115.85" y1="86.9" x2="115.85" y2="89.5" stroke="#5e5e5e" stroke-width="0.8"/>
<line x1="115.85" y1="164.6" x2="115.85" y2="162" stroke="#5e5e5e" stroke-width="0.8"/>
<line x1="115.85" y1="164.6" x2="115.85" y2="167.2" stroke="#5e5e5e" stroke-width="0.8"/>
<line x1="115.85" y1="242.2" x2="115.85" y2="239.6" stroke="#5e5e5e" stroke-width="0.8"/>
<line x1="123.24" y1="9.4" x2="123.24" y2="10.7" stroke="#5e5e5e" stroke-width="0.8"/>
<line x1="123.24" y1="86.9" x2="123.24" y2="85.6" stroke="#5e5e5e" stroke-width="0.8"/>
<line x1="123.24" y1="86.9" x2="123.24" y2="88.2" stroke="#5e5e5e" stroke-width="0.8"/>
<line x1="123.24" y1="164.6" x2="123.24" y2="163.3" stroke="#5e5e5e" stroke-width="0.8"/>
<line x1="123.24" y1="164.6" x2="123.24" y2="165.9" stroke="#5e5e5e" stroke-width="0.8"/>
<line x1="123.24" y1="242.2" x2="123.24" y2="240.9" stroke="#5e5e5e" stroke-width="0.8"/>
<line x1="130.62" y1="9.4" x2="130.62" y2="10.7" stroke="#5e5e5e" stroke-width="0.8"/>
<line x1="130.62" y1="86.9" x2="130.62" y2="85.6" stroke="#5e5e5e" stroke-width="0.8"/>
<line x1="130.62" y1="86.9" x2="130.62" y2="88.2" stroke="#5e5e5e" stroke-width="0.8"/>
<line x1="130.62" y1="164.6" x2="130.62" y2="163.3" stroke="#5e5e5e" stroke-width="0.8"/>
<line x1="130.62" y1="164.6" x2="130.62" y2="165.9" stroke="#5e5e5e" stroke-width="0.8"/>
<line x1="130.62" y1="242.2" x2="130.62" y2="240.9" stroke="#5e5e5e" stroke-width="0.8"/>
<line x1="138.01" y1="9.4" x2="138.01" y2="10.7" stroke="#5e5e5e" stroke-width="0.8"/>
<line x1="138.01" y1="86.9" x2="138.01" y2="85.6" stroke="#5e5e5e" stroke-width="0.8"/>
<line x1="138.01" y1="86.9" x2="138.01" y2="88.2" stroke="#5e5e5e" stroke-width="0.8"/>
<line x1="138.01" y1="164.6" x2="138.01" y2="163.3" stroke="#5e5e5e" stroke-width="0.8"/>
<line x1="138.01" y1="164.6" x2="138.01" y2="165.9" stroke="#5e5e5e" stroke-width="0.8"/>
<line x1="138.01" y1="242.2" x2="138.01" y2="240.9" stroke="#5e5e5e" stroke-width="0.8"/>
<line x1="145.39" y1="9.4" x2="145.39" y2="10.7" stroke="#5e5e5e" stroke-width="0.8"/>
<line x1="145.39" y1="86.9" x2="145.39" y2="85.6" stroke="#5e5e5e" stroke-width="0.8"/>
<line x1="145.39" y1="86.9" x2="145.39" y2="88.2" stroke="#5e5e5e" stroke-width="0.8"/>
<line x1="145.39" y1="164.6" x2="145.39" y2="163.3" stroke="#5e5e5e" stroke-width="0.8"/>
<line x1="145.39" y1="164.6" x2="145.39" y2="165.9" stroke="#5e5e5e" stroke-width="0.8"/>
<line x1="145.39" y1="242.2" x2="145.39" y2="240.9" stroke="#5e5e5e" stroke-width="0.8"/>
<line x1="152.77" y1="9.4" x2="152.77" y2="10.7" stroke="#5e5e5e" stroke-width="0.8"/>
<line x1="152.77" y1="86.9" x2="152.77" y2="85.6" stroke="#5e5e5e" stroke-width="0.8"/>
<line x1="152.77" y1="86.9" x2="152.77" y2="88.2" stroke="#5e5e5e" stroke-width="0.8"/>
<line x1="152.77" y1="164.6" x2="152.77" y2="163.3" stroke="#5e5e5e" stroke-width="0.8"/>
<line x1="152.77" y1="164.6" x2="152.77" y2="165.9" stroke="#5e5e5e" stroke-width="0.8"/>
<line x1="152.77" y1="242.2" x2="152.77" y2="240.9" stroke="#5e5e5e" stroke-width="0.8"/>
<line x1="160.16" y1="9.4" x2="160.16" y2="10.7" stroke="#5e5e5e" stroke-width="0.8"/>
<line x1="160.16" y1="86.9" x2="160.16" y2="85.6" stroke="#5e5e5e" stroke-width="0.8"/>
<line x1="160.16" y1="86.9" x2="160.16" y2="88.2" stroke="#5e5e5e" stroke-width="0.8"/>
<line x1="160.16" y1="164.6" x2="160.16" y2="163.3" stroke="#5e5e5e" stroke-width="0.8"/>
<line x1="160.16" y1="164.6" x2="160.16" y2="165.9" stroke="#5e5e5e" stroke-width="0.8"/>
<line x1="160.16" y1="242.2" x2="160.16" y2="240.9" stroke="#5e5e5e" stroke-width="0.8"/>
<line x1="167.54" y1="9.4" x2="167.54" y2="10.7" stroke="#5e5e5e" stroke-width="0.8"/>
<line x1="167.54" y1="86.9" x2="167.54" y2="85.6" stroke="#5e5e5e" stroke-width="0.8"/>
<line x1="167.54" y1="86.9" x2="167.54" y2="88.2" stroke="#5e5e5e" stroke-width="0.8"/>
<line x1="167.54" y1="164.6" x2="167.54" y2="163.3" stroke="#5e5e5e" stroke-width="0.8"/>
<line x1="167.54" y1="164.6" x2="167.54" y2="165.9" stroke="#5e5e5e" stroke-width="0.8"/>
<line x1="167.54" y1="242.2" x2="167.54" y2="240.9" stroke="#5e5e5e" stroke-width="0.8"/>
<line x1="174.93" y1="9.4" x2="174.93" y2="10.7" stroke="#5e5e5e" stroke-width="0.8"/>
<line x1="174.93" y1="86.9" x2="174.93" y2="85.6" stroke="#5e5e5e" stroke-width="0.8"/>
<line x1="174.93" y1="86.9" x2="174.93" y2="88.2" stroke="#5e5e5e" stroke-width="0.8"/>
<line x1="174.93" y1="164.6" x2="174.93" y2="163.3" stroke="#5e5e5e" stroke-width="0.8"/>
<line x1="174.93" y1="164.6" x2="174.93" y2="165.9" stroke="#5e5e5e" stroke-width="0.8"/>
<line x1="174.93" y1="242.2" x2="174.93" y2="240.9" stroke="#5e5e5e" stroke-width="0.8"/>
<line x1="182.32" y1="9.4" x2="182.32" y2="10.7" stroke="#5e5e5e" stroke-width="0.8"/>
<line x1="182.32" y1="86.9" x2="182.32" y2="85.6" stroke="#5e5e5e" stroke-width="0.8"/>
<line x1="182.32" y1="86.9" x2="182.32" y2="88.2" stroke="#5e5e5e" stroke-width="0.8"/>
<line x1="182.32" y1="164.6" x2="182.32" y2="163.3" stroke="#5e5e5e" stroke-width="0.8"/>
<line x1="182.32" y1="164.6" x2="182.32" y2="165.9" stroke="#5e5e5e" stroke-width="0.8"/>
<line x1="182.32" y1="242.2" x2="182.32" y2="240.9" stroke="#5e5e5e" stroke-width="0.8"/>
<line x1="189.7" y1="9.4" x2="189.7" y2="12" stroke="#5e5e5e" stroke-width="0.8"/>
<line x1="189.7" y1="86.9" x2="189.7" y2="84.3" stroke="#5e5e5e" stroke-width="0.8"/>
<line x1="189.7" y1="86.9" x2="189.7" y2="89.5" stroke="#5e5e5e" stroke-width="0.8"/>
<line x1="189.7" y1="164.6" x2="189.7" y2="162" stroke="#5e5e5e" stroke-width="0.8"/>
<line x1="189.7" y1="164.6" x2="189.7" y2="167.2" stroke="#5e5e5e" stroke-width="0.8"/>
<line x1="189.7" y1="242.2" x2="189.7" y2="239.6" stroke="#5e5e5e" stroke-width="0.8"/>
<line x1="197.09" y1="9.4" x2="197.09" y2="10.7" stroke="#5e5e5e" stroke-width="0.8"/>
<line x1="197.09" y1="86.9" x2="197.09" y2="85.6" stroke="#5e5e5e" stroke-width="0.8"/>
<line x1="197.09" y1="86.9" x2="197.09" y2="88.2" stroke="#5e5e5e" stroke-width="0.8"/>
<line x1="197.09" y1="164.6" x2="197.09" y2="163.3" stroke="#5e5e5e" stroke-width="0.8"/>
<line x1="197.09" y1="164.6" x2="197.09" y2="165.9" stroke="#5e5e5e" stroke-width="0.8"/>
<line x1="197.09" y1="242.2" x2="197.09" y2="240.9" stroke="#5e5e5e" stroke-width="0.8"/>
<line x1="204.47" y1="9.4" x2="204.47" y2="10.7" stroke="#5e5e5e" stroke-width="0.8"/>
<line x1="204.47" y1="86.9" x2="204.47" y2="85.6" stroke="#5e5e5e" stroke-width="0.8"/>
<line x1="204.47" y1="86.9" x2="204.47" y2="88.2" stroke="#5e5e5e" stroke-width="0.8"/>
<line x1="204.47" y1="164.6" x2="204.47" y2="163.3" stroke="#5e5e5e" stroke-width="0.8"/>
<line x1="204.47" y1="164.6" x2="204.47" y2="165.9" stroke="#5e5e5e" stroke-width="0.8"/>
<line x1="204.47" y1="242.2" x2="204.47" y2="240.9" stroke="#5e5e5e" stroke-width="0.8"/>
<line x1="211.86" y1="9.4" x2="211.86" y2="10.7" stroke="#5e5e5e" stroke-width="0.8"/>
<line x1="211.86" y1="86.9" x2="211.86" y2="85.6" stroke="#5e5e5e" stroke-width="0.8"/>
<line x1="211.86" y1="86.9" x2="211.86" y2="88.2" stroke="#5e5e5e" stroke-width="0.8"/>
<line x1="211.86" y1="164.6" x2="211.86" y2="163.3" stroke="#5e5e5e" stroke-width="0.8"/>
<line x1="211.86" y1="164.6" x2="211.86" y2="165.9" stroke="#5e5e5e" stroke-width="0.8"/>
<line x1="211.86" y1="242.2" x2="211.86" y2="240.9" stroke="#5e5e5e" stroke-width="0.8"/>
<line x1="219.24" y1="9.4" x2="219.24" y2="10.7" stroke="#5e5e5e" stroke-width="0.8"/>
<line x1="219.24" y1="86.9" x2="219.24" y2="85.6" stroke="#5e5e5e" stroke-width="0.8"/>
<line x1="219.24" y1="86.9" x2="219.24" y2="88.2" stroke="#5e5e5e" stroke-width="0.8"/>
<line x1="219.24" y1="164.6" x2="219.24" y2="163.3" stroke="#5e5e5e" stroke-width="0.8"/>
<line x1="219.24" y1="164.6" x2="219.24" y2="165.9" stroke="#5e5e5e" stroke-width="0.8"/>
<line x1="219.24" y1="242.2" x2="219.24" y2="240.9" stroke="#5e5e5e" stroke-width="0.8"/>
<line x1="226.63" y1="9.4" x2="226.63" y2="10.7" stroke="#5e5e5e" stroke-width="0.8"/>
<line x1="226.63" y1="86.9" x2="226.63" y2="85.6" stroke="#5e5e5e" stroke-width="0.8"/>
<line x1="226.63" y1="86.9" x2="226.63" y2="88.2" stroke="#5e5e5e" stroke-width="0.8"/>
<line x1="226.63" y1="164.6" x2="226.63" y2="163.3" stroke="#5e5e5e" stroke-width="0.8"/>
<line x1="226.63" y1="164.6" x2="226.63" y2="165.9" stroke="#5e5e5e" stroke-width="0.8"/>
<line x1="226.63" y1="242.2" x2="226.63" y2="240.9" stroke="#5e5e5e" stroke-width="0.8"/>
<line x1="234.01" y1="9.4" x2="234.01" y2="10.7" stroke="#5e5e5e" stroke-width="0.8"/>
<line x1="234.01" y1="86.9" x2="234.01" y2="85.6" stroke="#5e5e5e" stroke-width="0.8"/>
<line x1="234.01" y1="86.9" x2="234.01" y2="88.2" stroke="#5e5e5e" stroke-width="0.8"/>
<line x1="234.01" y1="164.6" x2="234.01" y2="163.3" stroke="#5e5e5e" stroke-width="0.8"/>
<line x1="234.01" y1="164.6" x2="234.01" y2="165.9" stroke="#5e5e5e" stroke-width="0.8"/>
<line x1="234.01" y1="242.2" x2="234.01" y2="240.9" stroke="#5e5e5e" stroke-width="0.8"/>
<line x1="241.39" y1="9.4" x2="241.39" y2="10.7" stroke="#5e5e5e" stroke-width="0.8"/>
<line x1="241.39" y1="86.9" x2="241.39" y2="85.6" stroke="#5e5e5e" stroke-width="0.8"/>
<line x1="241.39" y1="86.9" x2="241.39" y2="88.2" stroke="#5e5e5e" stroke-width="0.8"/>
<line x1="241.39" y1="164.6" x2="241.39" y2="163.3" stroke="#5e5e5e" stroke-width="0.8"/>
<line x1="241.39" y1="164.6" x2="241.39" y2="165.9" stroke="#5e5e5e" stroke-width="0.8"/>
<line x1="241.39" y1="242.2" x2="241.39" y2="240.9" stroke="#5e5e5e" stroke-width="0.8"/>
<line x1="248.78" y1="9.4" x2="248.78" y2="10.7" stroke="#5e5e5e" stroke-width="0.8"/>
<line x1="248.78" y1="86.9" x2="248.78" y2="85.6" stroke="#5e5e5e" stroke-width="0.8"/>
<line x1="248.78" y1="86.9" x2="248.78" y2="88.2" stroke="#5e5e5e" stroke-width="0.8"/>
<line x1="248.78" y1="164.6" x2="248.78" y2="163.3" stroke="#5e5e5e" stroke-width="0.8"/>
<line x1="248.78" y1="164.6" x2="248.78" y2="165.9" stroke="#5e5e5e" stroke-width="0.8"/>
<line x1="248.78" y1="242.2" x2="248.78" y2="240.9" stroke="#5e5e5e" stroke-width="0.8"/>
<line x1="256.16" y1="9.4" x2="256.16" y2="10.7" stroke="#5e5e5e" stroke-width="0.8"/>
<line x1="256.16" y1="86.9" x2="256.16" y2="85.6" stroke="#5e5e5e" stroke-width="0.8"/>
<line x1="256.16" y1="86.9" x2="256.16" y2="88.2" stroke="#5e5e5e" stroke-width="0.8"/>
<line x1="256.16" y1="164.6" x2="256.16" y2="163.3" stroke="#5e5e5e" stroke-width="0.8"/>
<line x1="256.16" y1="164.6" x2="256.16" y2="165.9" stroke="#5e5e5e" stroke-width="0.8"/>
<line x1="256.16" y1="242.2" x2="256.16" y2="240.9" stroke="#5e5e5e" stroke-width="0.8"/>
<line x1="263.55" y1="9.4" x2="263.55" y2="12" stroke="#5e5e5e" stroke-width="0.8"/>
<line x1="263.55" y1="86.9" x2="263.55" y2="84.3" stroke="#5e5e5e" stroke-width="0.8"/>
<line x1="263.55" y1="86.9" x2="263.55" y2="89.5" stroke="#5e5e5e" stroke-width="0.8"/>
<line x1="263.55" y1="164.6" x2="263.55" y2="162" stroke="#5e5e5e" stroke-width="0.8"/>
<line x1="263.55" y1="164.6" x2="263.55" y2="167.2" stroke="#5e5e5e" stroke-width="0.8"/>
<line x1="263.55" y1="242.2" x2="263.55" y2="239.6" stroke="#5e5e5e" stroke-width="0.8"/>
<line x1="270.93" y1="9.4" x2="270.93" y2="10.7" stroke="#5e5e5e" stroke-width="0.8"/>
<line x1="270.93" y1="86.9" x2="270.93" y2="85.6" stroke="#5e5e5e" stroke-width="0.8"/>
<line x1="270.93" y1="86.9" x2="270.93" y2="88.2" stroke="#5e5e5e" stroke-width="0.8"/>
<line x1="270.93" y1="164.6" x2="270.93" y2="163.3" stroke="#5e5e5e" stroke-width="0.8"/>
<line x1="270.93" y1="164.6" x2="270.93" y2="165.9" stroke="#5e5e5e" stroke-width="0.8"/>
<line x1="270.93" y1="242.2" x2="270.93" y2="240.9" stroke="#5e5e5e" stroke-width="0.8"/>
<line x1="278.32" y1="9.4" x2="278.32" y2="10.7" stroke="#5e5e5e" stroke-width="0.8"/>
<line x1="278.32" y1="86.9" x2="278.32" y2="85.6" stroke="#5e5e5e" stroke-width="0.8"/>
<line x1="278.32" y1="86.9" x2="278.32" y2="88.2" stroke="#5e5e5e" stroke-width="0.8"/>
<line x1="278.32" y1="164.6" x2="278.32" y2="163.3" stroke="#5e5e5e" stroke-width="0.8"/>
<line x1="278.32" y1="164.6" x2="278.32" y2="165.9" stroke="#5e5e5e" stroke-width="0.8"/>
<line x1="278.32" y1="242.2" x2="278.32" y2="240.9" stroke="#5e5e5e" stroke-width="0.8"/>
<line x1="285.71" y1="9.4" x2="285.71" y2="10.7" stroke="#5e5e5e" stroke-width="0.8"/>
<line x1="285.71" y1="86.9" x2="285.71" y2="85.6" stroke="#5e5e5e" stroke-width="0.8"/>
<line x1="285.71" y1="86.9" x2="285.71" y2="88.2" stroke="#5e5e5e" stroke-width="0.8"/>
<line x1="285.71" y1="164.6" x2="285.71" y2="163.3" stroke="#5e5e5e" stroke-width="0.8"/>
<line x1="285.71" y1="164.6" x2="285.71" y2="165.9" stroke="#5e5e5e" stroke-width="0.8"/>
<line x1="285.71" y1="242.2" x2="285.71" y2="240.9" stroke="#5e5e5e" stroke-width="0.8"/>
<line x1="293.09" y1="9.4" x2="293.09" y2="10.7" stroke="#5e5e5e" stroke-width="0.8"/>
<line x1="293.09" y1="86.9" x2="293.09" y2="85.6" stroke="#5e5e5e" stroke-width="0.8"/>
<line x1="293.09" y1="86.9" x2="293.09" y2="88.2" stroke="#5e5e5e" stroke-width="0.8"/>
<line x1="293.09" y1="164.6" x2="293.09" y2="163.3" stroke="#5e5e5e" stroke-width="0.8"/>
<line x1="293.09" y1="164.6" x2="293.09" y2="165.9" stroke="#5e5e5e" stroke-width="0.8"/>
<line x1="293.09" y1="242.2" x2="293.09" y2="240.9" stroke="#5e5e5e" stroke-width="0.8"/>
<line x1="300.48" y1="9.4" x2="300.48" y2="10.7" stroke="#5e5e5e" stroke-width="0.8"/>
<line x1="300.48" y1="86.9" x2="300.48" y2="85.6" stroke="#5e5e5e" stroke-width="0.8"/>
<line x1="300.48" y1="86.9" x2="300.48" y2="88.2" stroke="#5e5e5e" stroke-width="0.8"/>
<line x1="300.48" y1="164.6" x2="300.48" y2="163.3" stroke="#5e5e5e" stroke-width="0.8"/>
<line x1="300.48" y1="164.6" x2="300.48" y2="165.9" stroke="#5e5e5e" stroke-width="0.8"/>
<line x1="300.48" y1="242.2" x2="300.48" y2="240.9" stroke="#5e5e5e" stroke-width="0.8"/>
<line x1="307.86" y1="9.4" x2="307.86" y2="10.7" stroke="#5e5e5e" stroke-width="0.8"/>
<line x1="307.86" y1="86.9" x2="307.86" y2="85.6" stroke="#5e5e5e" stroke-width="0.8"/>
<line x1="307.86" y1="86.9" x2="307.86" y2="88.2" stroke="#5e5e5e" stroke-width="0.8"/>
<line x1="307.86" y1="164.6" x2="307.86" y2="163.3" stroke="#5e5e5e" stroke-width="0.8"/>
<line x1="307.86" y1="164.6" x2="307.86" y2="165.9" stroke="#5e5e5e" stroke-width="0.8"/>
<line x1="307.86" y1="242.2" x2="307.86" y2="240.9" stroke="#5e5e5e" stroke-width="0.8"/>
<line x1="315.25" y1="9.4" x2="315.25" y2="10.7" stroke="#5e5e5e" stroke-width="0.8"/>
<line x1="315.25" y1="86.9" x2="315.25" y2="85.6" stroke="#5e5e5e" stroke-width="0.8"/>
<line x1="315.25" y1="86.9" x2="315.25" y2="88.2" stroke="#5e5e5e" stroke-width="0.8"/>
<line x1="315.25" y1="164.6" x2="315.25" y2="163.3" stroke="#5e5e5e" stroke-width="0.8"/>
<line x1="315.25" y1="164.6" x2="315.25" y2="165.9" stroke="#5e5e5e" stroke-width="0.8"/>
<line x1="315.25" y1="242.2" x2="315.25" y2="240.9" stroke="#5e5e5e" stroke-width="0.8"/>
<line x1="322.63" y1="9.4" x2="322.63" y2="10.7" stroke="#5e5e5e" stroke-width="0.8"/>
<line x1="322.63" y1="86.9" x2="322.63" y2="85.6" stroke="#5e5e5e" stroke-width="0.8"/>
<line x1="322.63" y1="86.9" x2="322.63" y2="88.2" stroke="#5e5e5e" stroke-width="0.8"/>
<line x1="322.63" y1="164.6" x2="322.63" y2="163.3" stroke="#5e5e5e" stroke-width="0.8"/>
<line x1="322.63" y1="164.6" x2="322.63" y2="165.9" stroke="#5e5e5e" stroke-width="0.8"/>
<line x1="322.63" y1="242.2" x2="322.63" y2="240.9" stroke="#5e5e5e" stroke-width="0.8"/>
<line x1="330.02" y1="9.4" x2="330.02" y2="10.7" stroke="#5e5e5e" stroke-width="0.8"/>
<line x1="330.02" y1="86.9" x2="330.02" y2="85.6" stroke="#5e5e5e" stroke-width="0.8"/>
<line x1="330.02" y1="86.9" x2="330.02" y2="88.2" stroke="#5e5e5e" stroke-width="0.8"/>
<line x1="330.02" y1="164.6" x2="330.02" y2="163.3" stroke="#5e5e5e" stroke-width="0.8"/>
<line x1="330.02" y1="164.6" x2="330.02" y2="165.9" stroke="#5e5e5e" stroke-width="0.8"/>
<line x1="330.02" y1="242.2" x2="330.02" y2="240.9" stroke="#5e5e5e" stroke-width="0.8"/>
<line x1="337.4" y1="9.4" x2="337.4" y2="12" stroke="#5e5e5e" stroke-width="0.8"/>
<line x1="337.4" y1="86.9" x2="337.4" y2="84.3" stroke="#5e5e5e" stroke-width="0.8"/>
<line x1="337.4" y1="86.9" x2="337.4" y2="89.5" stroke="#5e5e5e" stroke-width="0.8"/>
<line x1="337.4" y1="164.6" x2="337.4" y2="162" stroke="#5e5e5e" stroke-width="0.8"/>
<line x1="337.4" y1="164.6" x2="337.4" y2="167.2" stroke="#5e5e5e" stroke-width="0.8"/>
<line x1="337.4" y1="242.2" x2="337.4" y2="239.6" stroke="#5e5e5e" stroke-width="0.8"/>
<line x1="42" y1="86.9" x2="44.6" y2="86.9" stroke="#5e5e5e" stroke-width="0.8"/>
<line x1="337.4" y1="86.9" x2="334.8" y2="86.9" stroke="#5e5e5e" stroke-width="0.8"/>
<line x1="42" y1="48.15" x2="44.6" y2="48.15" stroke="#5e5e5e" stroke-width="0.8"/>
<line x1="337.4" y1="48.15" x2="334.8" y2="48.15" stroke="#5e5e5e" stroke-width="0.8"/>
<line x1="42" y1="9.4" x2="44.6" y2="9.4" stroke="#5e5e5e" stroke-width="0.8"/>
<line x1="337.4" y1="9.4" x2="334.8" y2="9.4" stroke="#5e5e5e" stroke-width="0.8"/>
<line x1="42" y1="242.2" x2="44.6" y2="242.2" stroke="#5e5e5e" stroke-width="0.8"/>
<line x1="337.4" y1="242.2" x2="334.8" y2="242.2" stroke="#5e5e5e" stroke-width="0.8"/>
<line x1="42" y1="207.3" x2="44.6" y2="207.3" stroke="#5e5e5e" stroke-width="0.8"/>
<line x1="337.4" y1="207.3" x2="334.8" y2="207.3" stroke="#5e5e5e" stroke-width="0.8"/>
<line x1="42" y1="172.4" x2="44.6" y2="172.4" stroke="#5e5e5e" stroke-width="0.8"/>
<line x1="337.4" y1="172.4" x2="334.8" y2="172.4" stroke="#5e5e5e" stroke-width="0.8"/>
<line x1="42" y1="162.73" x2="43.4" y2="162.73" stroke="#5e5e5e" stroke-width="0.8"/>
<line x1="337.4" y1="162.73" x2="336" y2="162.73" stroke="#5e5e5e" stroke-width="0.8"/>
<line x1="42" y1="161.03" x2="43.4" y2="161.03" stroke="#5e5e5e" stroke-width="0.8"/>
<line x1="337.4" y1="161.03" x2="336" y2="161.03" stroke="#5e5e5e" stroke-width="0.8"/>
<line x1="42" y1="159.56" x2="43.4" y2="159.56" stroke="#5e5e5e" stroke-width="0.8"/>
<line x1="337.4" y1="159.56" x2="336" y2="159.56" stroke="#5e5e5e" stroke-width="0.8"/>
<line x1="42" y1="158.26" x2="43.4" y2="158.26" stroke="#5e5e5e" stroke-width="0.8"/>
<line x1="337.4" y1="158.26" x2="336" y2="158.26" stroke="#5e5e5e" stroke-width="0.8"/>
<line x1="42" y1="157.1" x2="44.6" y2="157.1" stroke="#5e5e5e" stroke-width="0.8"/>
<line x1="337.4" y1="157.1" x2="334.8" y2="157.1" stroke="#5e5e5e" stroke-width="0.8"/>
<line x1="42" y1="149.45" x2="43.4" y2="149.45" stroke="#5e5e5e" stroke-width="0.8"/>
<line x1="337.4" y1="149.45" x2="336" y2="149.45" stroke="#5e5e5e" stroke-width="0.8"/>
<line x1="42" y1="144.98" x2="43.4" y2="144.98" stroke="#5e5e5e" stroke-width="0.8"/>
<line x1="337.4" y1="144.98" x2="336" y2="144.98" stroke="#5e5e5e" stroke-width="0.8"/>
<line x1="42" y1="141.81" x2="43.4" y2="141.81" stroke="#5e5e5e" stroke-width="0.8"/>
<line x1="337.4" y1="141.81" x2="336" y2="141.81" stroke="#5e5e5e" stroke-width="0.8"/>
<line x1="42" y1="139.35" x2="43.4" y2="139.35" stroke="#5e5e5e" stroke-width="0.8"/>
<line x1="337.4" y1="139.35" x2="336" y2="139.35" stroke="#5e5e5e" stroke-width="0.8"/>
<line x1="42" y1="137.33" x2="43.4" y2="137.33" stroke="#5e5e5e" stroke-width="0.8"/>
<line x1="337.4" y1="137.33" x2="336" y2="137.33" stroke="#5e5e5e" stroke-width="0.8"/>
<line x1="42" y1="135.63" x2="43.4" y2="135.63" stroke="#5e5e5e" stroke-width="0.8"/>
<line x1="337.4" y1="135.63" x2="336" y2="135.63" stroke="#5e5e5e" stroke-width="0.8"/>
<line x1="42" y1="134.16" x2="43.4" y2="134.16" stroke="#5e5e5e" stroke-width="0.8"/>
<line x1="337.4" y1="134.16" x2="336" y2="134.16" stroke="#5e5e5e" stroke-width="0.8"/>
<line x1="42" y1="132.86" x2="43.4" y2="132.86" stroke="#5e5e5e" stroke-width="0.8"/>
<line x1="337.4" y1="132.86" x2="336" y2="132.86" stroke="#5e5e5e" stroke-width="0.8"/>
<line x1="42" y1="131.7" x2="44.6" y2="131.7" stroke="#5e5e5e" stroke-width="0.8"/>
<line x1="337.4" y1="131.7" x2="334.8" y2="131.7" stroke="#5e5e5e" stroke-width="0.8"/>
<line x1="42" y1="106.3" x2="44.6" y2="106.3" stroke="#5e5e5e" stroke-width="0.8"/>
<line x1="337.4" y1="106.3" x2="334.8" y2="106.3" stroke="#5e5e5e" stroke-width="0.8"/>
<rect x="42" y="9.4" width="295.4" height="77.5" fill="none" stroke="#a0a0a0" stroke-width="1"/>
<rect x="42" y="86.9" width="295.4" height="77.7" fill="none" stroke="#a0a0a0" stroke-width="1"/>
<rect x="42" y="164.6" width="295.4" height="77.6" fill="none" stroke="#a0a0a0" stroke-width="1"/>
<line x1="177.8" y1="87.1" x2="177.8" y2="9.9" stroke="#ee1111" stroke-width="2.1" stroke-dasharray="4.14 3.83"/>
<line x1="177.8" y1="164.8" x2="177.8" y2="87.4" stroke="#ee1111" stroke-width="2.1" stroke-dasharray="4.14 3.83"/>
<line x1="177.8" y1="242.4" x2="177.8" y2="165.1" stroke="#ee1111" stroke-width="2.1" stroke-dasharray="4.14 3.83"/>
<line x1="208.5" y1="87.1" x2="208.5" y2="9.9" stroke="#ee1111" stroke-width="2.1" stroke-dasharray="4.14 3.83"/>
<line x1="208.5" y1="164.8" x2="208.5" y2="87.4" stroke="#ee1111" stroke-width="2.1" stroke-dasharray="4.14 3.83"/>
<line x1="208.5" y1="242.4" x2="208.5" y2="165.1" stroke="#ee1111" stroke-width="2.1" stroke-dasharray="4.14 3.83"/>
<line x1="234.1" y1="87.1" x2="234.1" y2="9.9" stroke="#ee1111" stroke-width="2.1" stroke-dasharray="4.14 3.83"/>
<line x1="234.1" y1="164.8" x2="234.1" y2="87.4" stroke="#ee1111" stroke-width="2.1" stroke-dasharray="4.14 3.83"/>
<line x1="234.1" y1="242.4" x2="234.1" y2="165.1" stroke="#ee1111" stroke-width="2.1" stroke-dasharray="4.14 3.83"/>
<text x="36.8" y="92.03" font-size="11.9" text-anchor="end" fill="#111111">0</text>
<text x="36.8" y="53.28" font-size="11.9" text-anchor="end" fill="#111111">5</text>
<text x="36.8" y="14.53" font-size="11.9" text-anchor="end" fill="#111111">10</text>
<text x="36.8" y="247.33" font-size="11.9" text-anchor="end" fill="#111111">15</text>
<text x="36.8" y="212.43" font-size="11.9" text-anchor="end" fill="#111111">20</text>
<text x="36.8" y="177.53" font-size="11.9" text-anchor="end" fill="#111111">25</text>
<text x="32.5" y="162.23" font-size="11.9" text-anchor="end" fill="#111111">10</text>
<text x="32.5" y="155.5" font-size="8" fill="#111111">2</text>
<text x="32.5" y="136.83" font-size="11.9" text-anchor="end" fill="#111111">10</text>
<text x="32.5" y="130.1" font-size="8" fill="#111111">3</text>
<text x="32.5" y="111.43" font-size="11.9" text-anchor="end" fill="#111111">10</text>
<text x="32.5" y="104.7" font-size="8" fill="#111111">4</text>
<text x="42" y="255.8" font-size="11.9" text-anchor="middle" fill="#111111">349.75</text>
<text x="115.85" y="255.8" font-size="11.9" text-anchor="middle" fill="#111111">349.8</text>
<text x="189.7" y="255.8" font-size="11.9" text-anchor="middle" fill="#111111">349.85</text>
<text x="263.55" y="255.8" font-size="11.9" text-anchor="middle" fill="#111111">349.9</text>
<text x="337.4" y="255.8" font-size="11.9" text-anchor="middle" fill="#111111">349.95</text>
<text x="189.7" y="272" font-size="11.9" text-anchor="middle" fill="#111111">DOY 2001</text>
<text transform="translate(8.8,48.15) rotate(-90)" font-size="11.9" text-anchor="middle" fill="#111111">PVI</text>
<text transform="translate(8.8,125.75) rotate(-90)" font-size="11.9" text-anchor="middle" fill="#111111">LEMS120</text>
<text transform="translate(8.8,203.4) rotate(-90)" font-size="11.9" text-anchor="middle" fill="#111111">B (nT)</text>
<defs>
<clipPath id="tr0"><rect x="423" y="4.4" width="300.8" height="79.1"/></clipPath>
<clipPath id="tr1"><rect x="423" y="83.5" width="300.8" height="79.1"/></clipPath>
<clipPath id="tr2"><rect x="423" y="162.6" width="300.8" height="79.2"/></clipPath>
</defs>
<g clip-path="url(#tr0)">
<polyline points="423.2,53.8 424.6,48.9 429.5,70 434.8,73.4 440,69.2 445.3,60.7 450.6,73.4 455.8,71.7 461.1,75.1 466.4,61.2 471.7,75.5 476.5,69.6 481.8,73.4 487.1,69.6 492.3,74.9 497.6,60.7 502.9,68.1 508.1,49.6 513.4,79.1 518.7,78.4 523.8,81.8 529.2,79.7 534.3,73.8 539.6,80.1 544.8,79.3 550.1,74.2 555.4,79.3 560.7,74.9 565.5,38.6 570.8,58.6 575.9,5 581,72.2 586.3,80.6 591.6,76.8 597,80.2 602.3,78.1 607.6,74.7 612.4,81.5 617.8,71.3 623.1,76.8 628.4,77.7 633.7,77.7 638.5,80.6 643.9,78.1 648.9,80.6 654.5,82.8 659.6,81.5 664.9,79.6 670.2,79.8 675.5,80.6 680.4,79.8 685.7,80.2 691,76.4 696.3,76.4 701.6,80.6 706.9,78.5 711.8,81.9 717.1,78.5 722.4,81.1 723.8,80" fill="none" stroke="#5a76d0" stroke-width="0.75"/>
<rect x="422.45" y="53.05" width="1.5" height="1.5" fill="#4560c4"/>
<rect x="423.85" y="48.15" width="1.5" height="1.5" fill="#4560c4"/>
<rect x="428.75" y="69.25" width="1.5" height="1.5" fill="#4560c4"/>
<rect x="434.05" y="72.65" width="1.5" height="1.5" fill="#4560c4"/>
<rect x="439.25" y="68.45" width="1.5" height="1.5" fill="#4560c4"/>
<rect x="444.55" y="59.95" width="1.5" height="1.5" fill="#4560c4"/>
<rect x="449.85" y="72.65" width="1.5" height="1.5" fill="#4560c4"/>
<rect x="455.05" y="70.95" width="1.5" height="1.5" fill="#4560c4"/>
<rect x="460.35" y="74.35" width="1.5" height="1.5" fill="#4560c4"/>
<rect x="465.65" y="60.45" width="1.5" height="1.5" fill="#4560c4"/>
<rect x="470.95" y="74.75" width="1.5" height="1.5" fill="#4560c4"/>
<rect x="475.75" y="68.85" width="1.5" height="1.5" fill="#4560c4"/>
<rect x="481.05" y="72.65" width="1.5" height="1.5" fill="#4560c4"/>
<rect x="486.35" y="68.85" width="1.5" height="1.5" fill="#4560c4"/>
<rect x="491.55" y="74.15" width="1.5" height="1.5" fill="#4560c4"/>
<rect x="496.85" y="59.95" width="1.5" height="1.5" fill="#4560c4"/>
<rect x="502.15" y="67.35" width="1.5" height="1.5" fill="#4560c4"/>
<rect x="507.35" y="48.85" width="1.5" height="1.5" fill="#4560c4"/>
<rect x="512.65" y="78.35" width="1.5" height="1.5" fill="#4560c4"/>
<rect x="517.95" y="77.65" width="1.5" height="1.5" fill="#4560c4"/>
<rect x="523.05" y="81.05" width="1.5" height="1.5" fill="#4560c4"/>
<rect x="528.45" y="78.95" width="1.5" height="1.5" fill="#4560c4"/>
<rect x="533.55" y="73.05" width="1.5" height="1.5" fill="#4560c4"/>
<rect x="538.85" y="79.35" width="1.5" height="1.5" fill="#4560c4"/>
<rect x="544.05" y="78.55" width="1.5" height="1.5" fill="#4560c4"/>
<rect x="549.35" y="73.45" width="1.5" height="1.5" fill="#4560c4"/>
<rect x="554.65" y="78.55" width="1.5" height="1.5" fill="#4560c4"/>
<rect x="559.95" y="74.15" width="1.5" height="1.5" fill="#4560c4"/>
<rect x="564.75" y="37.85" width="1.5" height="1.5" fill="#4560c4"/>
<rect x="570.05" y="57.85" width="1.5" height="1.5" fill="#4560c4"/>
<rect x="575.15" y="4.25" width="1.5" height="1.5" fill="#4560c4"/>
<rect x="580.25" y="71.45" width="1.5" height="1.5" fill="#4560c4"/>
<rect x="585.55" y="79.85" width="1.5" height="1.5" fill="#4560c4"/>
<rect x="590.85" y="76.05" width="1.5" height="1.5" fill="#4560c4"/>
<rect x="596.25" y="79.45" width="1.5" height="1.5" fill="#4560c4"/>
<rect x="601.55" y="77.35" width="1.5" height="1.5" fill="#4560c4"/>
<rect x="606.85" y="73.95" width="1.5" height="1.5" fill="#4560c4"/>
<rect x="611.65" y="80.75" width="1.5" height="1.5" fill="#4560c4"/>
<rect x="617.05" y="70.55" width="1.5" height="1.5" fill="#4560c4"/>
<rect x="622.35" y="76.05" width="1.5" height="1.5" fill="#4560c4"/>
<rect x="627.65" y="76.95" width="1.5" height="1.5" fill="#4560c4"/>
<rect x="632.95" y="76.95" width="1.5" height="1.5" fill="#4560c4"/>
<rect x="637.75" y="79.85" width="1.5" height="1.5" fill="#4560c4"/>
<rect x="643.15" y="77.35" width="1.5" height="1.5" fill="#4560c4"/>
<rect x="648.15" y="79.85" width="1.5" height="1.5" fill="#4560c4"/>
<rect x="653.75" y="82.05" width="1.5" height="1.5" fill="#4560c4"/>
<rect x="658.85" y="80.75" width="1.5" height="1.5" fill="#4560c4"/>
<rect x="664.15" y="78.85" width="1.5" height="1.5" fill="#4560c4"/>
<rect x="669.45" y="79.05" width="1.5" height="1.5" fill="#4560c4"/>
<rect x="674.75" y="79.85" width="1.5" height="1.5" fill="#4560c4"/>
<rect x="679.65" y="79.05" width="1.5" height="1.5" fill="#4560c4"/>
<rect x="684.95" y="79.45" width="1.5" height="1.5" fill="#4560c4"/>
<rect x="690.25" y="75.65" width="1.5" height="1.5" fill="#4560c4"/>
<rect x="695.55" y="75.65" width="1.5" height="1.5" fill="#4560c4"/>
<rect x="700.85" y="79.85" width="1.5" height="1.5" fill="#4560c4"/>
<rect x="706.15" y="77.75" width="1.5" height="1.5" fill="#4560c4"/>
<rect x="711.05" y="81.15" width="1.5" height="1.5" fill="#4560c4"/>
<rect x="716.35" y="77.75" width="1.5" height="1.5" fill="#4560c4"/>
<rect x="721.65" y="80.35" width="1.5" height="1.5" fill="#4560c4"/>
<rect x="723.05" y="79.25" width="1.5" height="1.5" fill="#4560c4"/>
</g>
<g clip-path="url(#tr1)">
<polyline points="424.6,119 429.5,120.7 434.8,121.3 440,120.1 445.3,119.4 450.6,119.4 455.8,117.1 461.1,117.1 466.4,116.3 471.7,115.8 476.5,116.3 481.8,117.3 487.1,117.3 492.3,118.6 497.6,124.3 502.9,126.4 508.1,129.6 513.4,123.9 518.7,123.9 523.8,124.3 529.2,124.3 534.3,124.3 539.6,123.4 544.8,121.8 550.1,122.2 555.4,121.8 560.7,123.4 565.5,126 570.8,132.3 575.9,133.5 581,139 586.3,141.5 591.6,141.5 597,134.8 602.3,130.5 607.6,129.2 612.4,140.5 617.8,136.2 623.1,142.6 628.4,144.7 633.7,145.8 638.5,146.2 643.9,147.5 648.9,150 654.5,151.7 659.6,152.2 664.9,154.7 670.2,153.9 675.5,153.2 680.4,152.6 685.7,153.2 691,153.2 696.3,152.6 701.6,154.3 706.9,155.3 711.8,155.6 717.1,155.3 722.4,156" fill="none" stroke="#f06060" stroke-width="0.9"/>
<circle cx="424.6" cy="119" r="2.3" fill="none" stroke="#f06060" stroke-width="0.8"/>
<circle cx="429.5" cy="120.7" r="2.3" fill="none" stroke="#f06060" stroke-width="0.8"/>
<circle cx="434.8" cy="121.3" r="2.3" fill="none" stroke="#f06060" stroke-width="0.8"/>
<circle cx="440" cy="120.1" r="2.3" fill="none" stroke="#f06060" stroke-width="0.8"/>
<circle cx="445.3" cy="119.4" r="2.3" fill="none" stroke="#f06060" stroke-width="0.8"/>
<circle cx="450.6" cy="119.4" r="2.3" fill="none" stroke="#f06060" stroke-width="0.8"/>
<circle cx="455.8" cy="117.1" r="2.3" fill="none" stroke="#f06060" stroke-width="0.8"/>
<circle cx="461.1" cy="117.1" r="2.3" fill="none" stroke="#f06060" stroke-width="0.8"/>
<circle cx="466.4" cy="116.3" r="2.3" fill="none" stroke="#f06060" stroke-width="0.8"/>
<circle cx="471.7" cy="115.8" r="2.3" fill="none" stroke="#f06060" stroke-width="0.8"/>
<circle cx="476.5" cy="116.3" r="2.3" fill="none" stroke="#f06060" stroke-width="0.8"/>
<circle cx="481.8" cy="117.3" r="2.3" fill="none" stroke="#f06060" stroke-width="0.8"/>
<circle cx="487.1" cy="117.3" r="2.3" fill="none" stroke="#f06060" stroke-width="0.8"/>
<circle cx="492.3" cy="118.6" r="2.3" fill="none" stroke="#f06060" stroke-width="0.8"/>
<circle cx="497.6" cy="124.3" r="2.3" fill="none" stroke="#f06060" stroke-width="0.8"/>
<circle cx="502.9" cy="126.4" r="2.3" fill="none" stroke="#f06060" stroke-width="0.8"/>
<circle cx="508.1" cy="129.6" r="2.3" fill="none" stroke="#f06060" stroke-width="0.8"/>
<circle cx="513.4" cy="123.9" r="2.3" fill="none" stroke="#f06060" stroke-width="0.8"/>
<circle cx="518.7" cy="123.9" r="2.3" fill="none" stroke="#f06060" stroke-width="0.8"/>
<circle cx="523.8" cy="124.3" r="2.3" fill="none" stroke="#f06060" stroke-width="0.8"/>
<circle cx="529.2" cy="124.3" r="2.3" fill="none" stroke="#f06060" stroke-width="0.8"/>
<circle cx="534.3" cy="124.3" r="2.3" fill="none" stroke="#f06060" stroke-width="0.8"/>
<circle cx="539.6" cy="123.4" r="2.3" fill="none" stroke="#f06060" stroke-width="0.8"/>
<circle cx="544.8" cy="121.8" r="2.3" fill="none" stroke="#f06060" stroke-width="0.8"/>
<circle cx="550.1" cy="122.2" r="2.3" fill="none" stroke="#f06060" stroke-width="0.8"/>
<circle cx="555.4" cy="121.8" r="2.3" fill="none" stroke="#f06060" stroke-width="0.8"/>
<circle cx="560.7" cy="123.4" r="2.3" fill="none" stroke="#f06060" stroke-width="0.8"/>
<circle cx="565.5" cy="126" r="2.3" fill="none" stroke="#f06060" stroke-width="0.8"/>
<circle cx="570.8" cy="132.3" r="2.3" fill="none" stroke="#f06060" stroke-width="0.8"/>
<circle cx="575.9" cy="133.5" r="2.3" fill="none" stroke="#f06060" stroke-width="0.8"/>
<circle cx="581" cy="139" r="2.3" fill="none" stroke="#f06060" stroke-width="0.8"/>
<circle cx="586.3" cy="141.5" r="2.3" fill="none" stroke="#f06060" stroke-width="0.8"/>
<circle cx="591.6" cy="141.5" r="2.3" fill="none" stroke="#f06060" stroke-width="0.8"/>
<circle cx="597" cy="134.8" r="2.3" fill="none" stroke="#f06060" stroke-width="0.8"/>
<circle cx="602.3" cy="130.5" r="2.3" fill="none" stroke="#f06060" stroke-width="0.8"/>
<circle cx="607.6" cy="129.2" r="2.3" fill="none" stroke="#f06060" stroke-width="0.8"/>
<circle cx="612.4" cy="140.5" r="2.3" fill="none" stroke="#f06060" stroke-width="0.8"/>
<circle cx="617.8" cy="136.2" r="2.3" fill="none" stroke="#f06060" stroke-width="0.8"/>
<circle cx="623.1" cy="142.6" r="2.3" fill="none" stroke="#f06060" stroke-width="0.8"/>
<circle cx="628.4" cy="144.7" r="2.3" fill="none" stroke="#f06060" stroke-width="0.8"/>
<circle cx="633.7" cy="145.8" r="2.3" fill="none" stroke="#f06060" stroke-width="0.8"/>
<circle cx="638.5" cy="146.2" r="2.3" fill="none" stroke="#f06060" stroke-width="0.8"/>
<circle cx="643.9" cy="147.5" r="2.3" fill="none" stroke="#f06060" stroke-width="0.8"/>
<circle cx="648.9" cy="150" r="2.3" fill="none" stroke="#f06060" stroke-width="0.8"/>
<circle cx="654.5" cy="151.7" r="2.3" fill="none" stroke="#f06060" stroke-width="0.8"/>
<circle cx="659.6" cy="152.2" r="2.3" fill="none" stroke="#f06060" stroke-width="0.8"/>
<circle cx="664.9" cy="154.7" r="2.3" fill="none" stroke="#f06060" stroke-width="0.8"/>
<circle cx="670.2" cy="153.9" r="2.3" fill="none" stroke="#f06060" stroke-width="0.8"/>
<circle cx="675.5" cy="153.2" r="2.3" fill="none" stroke="#f06060" stroke-width="0.8"/>
<circle cx="680.4" cy="152.6" r="2.3" fill="none" stroke="#f06060" stroke-width="0.8"/>
<circle cx="685.7" cy="153.2" r="2.3" fill="none" stroke="#f06060" stroke-width="0.8"/>
<circle cx="691" cy="153.2" r="2.3" fill="none" stroke="#f06060" stroke-width="0.8"/>
<circle cx="696.3" cy="152.6" r="2.3" fill="none" stroke="#f06060" stroke-width="0.8"/>
<circle cx="701.6" cy="154.3" r="2.3" fill="none" stroke="#f06060" stroke-width="0.8"/>
<circle cx="706.9" cy="155.3" r="2.3" fill="none" stroke="#f06060" stroke-width="0.8"/>
<circle cx="711.8" cy="155.6" r="2.3" fill="none" stroke="#f06060" stroke-width="0.8"/>
<circle cx="717.1" cy="155.3" r="2.3" fill="none" stroke="#f06060" stroke-width="0.8"/>
<circle cx="722.4" cy="156" r="2.3" fill="none" stroke="#f06060" stroke-width="0.8"/>
<polyline points="424.6,104.9 429.5,107 434.8,107.8 440,106.4 445.3,105.7 450.6,105.7 455.8,102.8 461.1,102.8 466.4,102.1 471.7,101.9 476.5,102.4 481.8,103.2 487.1,103.2 492.3,104.9 497.6,110.6 502.9,112.7 508.1,115.4 513.4,111.6 518.7,111.6 523.8,112.1 529.2,112.1 534.3,112.1 539.6,111.2 544.8,109.9 550.1,110.8 555.4,109.9 560.7,111.6 565.5,114.8 570.8,121.1 575.9,122.4 581,128.4 586.3,130.9 591.6,130.5 597,123.5 602.3,118.8 607.6,117.8 612.4,129.9 617.8,125.6 623.1,132 628.4,134.8 633.7,135.6 638.5,136.2 643.9,137.7 648.9,140.5 654.5,142 659.6,143.2 664.9,145.4 670.2,144.7 675.5,143.7 680.4,143.2 685.7,143.7 691,143.7 696.3,144.1 701.6,144.7 706.9,145.8 711.8,146.2 717.1,146.9 722.4,147.5" fill="none" stroke="#78c876" stroke-width="0.9"/>
<path d="M424.6,102.3 L426.95,106.5 L422.25,106.5 Z" fill="none" stroke="#78c876" stroke-width="0.8"/>
<path d="M429.5,104.4 L431.85,108.6 L427.15,108.6 Z" fill="none" stroke="#78c876" stroke-width="0.8"/>
<path d="M434.8,105.2 L437.15,109.4 L432.45,109.4 Z" fill="none" stroke="#78c876" stroke-width="0.8"/>
<path d="M440,103.8 L442.35,108 L437.65,108 Z" fill="none" stroke="#78c876" stroke-width="0.8"/>
<path d="M445.3,103.1 L447.65,107.3 L442.95,107.3 Z" fill="none" stroke="#78c876" stroke-width="0.8"/>
<path d="M450.6,103.1 L452.95,107.3 L448.25,107.3 Z" fill="none" stroke="#78c876" stroke-width="0.8"/>
<path d="M455.8,100.2 L458.15,104.4 L453.45,104.4 Z" fill="none" stroke="#78c876" stroke-width="0.8"/>
<path d="M461.1,100.2 L463.45,104.4 L458.75,104.4 Z" fill="none" stroke="#78c876" stroke-width="0.8"/>
<path d="M466.4,99.5 L468.75,103.7 L464.05,103.7 Z" fill="none" stroke="#78c876" stroke-width="0.8"/>
<path d="M471.7,99.3 L474.05,103.5 L469.35,103.5 Z" fill="none" stroke="#78c876" stroke-width="0.8"/>
<path d="M476.5,99.8 L478.85,104 L474.15,104 Z" fill="none" stroke="#78c876" stroke-width="0.8"/>
<path d="M481.8,100.6 L484.15,104.8 L479.45,104.8 Z" fill="none" stroke="#78c876" stroke-width="0.8"/>
<path d="M487.1,100.6 L489.45,104.8 L484.75,104.8 Z" fill="none" stroke="#78c876" stroke-width="0.8"/>
<path d="M492.3,102.3 L494.65,106.5 L489.95,106.5 Z" fill="none" stroke="#78c876" stroke-width="0.8"/>
<path d="M497.6,108 L499.95,112.2 L495.25,112.2 Z" fill="none" stroke="#78c876" stroke-width="0.8"/>
<path d="M502.9,110.1 L505.25,114.3 L500.55,114.3 Z" fill="none" stroke="#78c876" stroke-width="0.8"/>
<path d="M508.1,112.8 L510.45,117 L505.75,117 Z" fill="none" stroke="#78c876" stroke-width="0.8"/>
<path d="M513.4,109 L515.75,113.2 L511.05,113.2 Z" fill="none" stroke="#78c876" stroke-width="0.8"/>
<path d="M518.7,109 L521.05,113.2 L516.35,113.2 Z" fill="none" stroke="#78c876" stroke-width="0.8"/>
<path d="M523.8,109.5 L526.15,113.7 L521.45,113.7 Z" fill="none" stroke="#78c876" stroke-width="0.8"/>
<path d="M529.2,109.5 L531.55,113.7 L526.85,113.7 Z" fill="none" stroke="#78c876" stroke-width="0.8"/>
<path d="M534.3,109.5 L536.65,113.7 L531.95,113.7 Z" fill="none" stroke="#78c876" stroke-width="0.8"/>
<path d="M539.6,108.6 L541.95,112.8 L537.25,112.8 Z" fill="none" stroke="#78c876" stroke-width="0.8"/>
<path d="M544.8,107.3 L547.15,111.5 L542.45,111.5 Z" fill="none" stroke="#78c876" stroke-width="0.8"/>
<path d="M550.1,108.2 L552.45,112.4 L547.75,112.4 Z" fill="none" stroke="#78c876" stroke-width="0.8"/>
<path d="M555.4,107.3 L557.75,111.5 L553.05,111.5 Z" fill="none" stroke="#78c876" stroke-width="0.8"/>
<path d="M560.7,109 L563.05,113.2 L558.35,113.2 Z" fill="none" stroke="#78c876" stroke-width="0.8"/>
<path d="M565.5,112.2 L567.85,116.4 L563.15,116.4 Z" fill="none" stroke="#78c876" stroke-width="0.8"/>
<path d="M570.8,118.5 L573.15,122.7 L568.45,122.7 Z" fill="none" stroke="#78c876" stroke-width="0.8"/>
<path d="M575.9,119.8 L578.25,124 L573.55,124 Z" fill="none" stroke="#78c876" stroke-width="0.8"/>
<path d="M581,125.8 L583.35,130 L578.65,130 Z" fill="none" stroke="#78c876" stroke-width="0.8"/>
<path d="M586.3,128.3 L588.65,132.5 L583.95,132.5 Z" fill="none" stroke="#78c876" stroke-width="0.8"/>
<path d="M591.6,127.9 L593.95,132.1 L589.25,132.1 Z" fill="none" stroke="#78c876" stroke-width="0.8"/>
<path d="M597,120.9 L599.35,125.1 L594.65,125.1 Z" fill="none" stroke="#78c876" stroke-width="0.8"/>
<path d="M602.3,116.2 L604.65,120.4 L599.95,120.4 Z" fill="none" stroke="#78c876" stroke-width="0.8"/>
<path d="M607.6,115.2 L609.95,119.4 L605.25,119.4 Z" fill="none" stroke="#78c876" stroke-width="0.8"/>
<path d="M612.4,127.3 L614.75,131.5 L610.05,131.5 Z" fill="none" stroke="#78c876" stroke-width="0.8"/>
<path d="M617.8,123 L620.15,127.2 L615.45,127.2 Z" fill="none" stroke="#78c876" stroke-width="0.8"/>
<path d="M623.1,129.4 L625.45,133.6 L620.75,133.6 Z" fill="none" stroke="#78c876" stroke-width="0.8"/>
<path d="M628.4,132.2 L630.75,136.4 L626.05,136.4 Z" fill="none" stroke="#78c876" stroke-width="0.8"/>
<path d="M633.7,133 L636.05,137.2 L631.35,137.2 Z" fill="none" stroke="#78c876" stroke-width="0.8"/>
<path d="M638.5,133.6 L640.85,137.8 L636.15,137.8 Z" fill="none" stroke="#78c876" stroke-width="0.8"/>
<path d="M643.9,135.1 L646.25,139.3 L641.55,139.3 Z" fill="none" stroke="#78c876" stroke-width="0.8"/>
<path d="M648.9,137.9 L651.25,142.1 L646.55,142.1 Z" fill="none" stroke="#78c876" stroke-width="0.8"/>
<path d="M654.5,139.4 L656.85,143.6 L652.15,143.6 Z" fill="none" stroke="#78c876" stroke-width="0.8"/>
<path d="M659.6,140.6 L661.95,144.8 L657.25,144.8 Z" fill="none" stroke="#78c876" stroke-width="0.8"/>
<path d="M664.9,142.8 L667.25,147 L662.55,147 Z" fill="none" stroke="#78c876" stroke-width="0.8"/>
<path d="M670.2,142.1 L672.55,146.3 L667.85,146.3 Z" fill="none" stroke="#78c876" stroke-width="0.8"/>
<path d="M675.5,141.1 L677.85,145.3 L673.15,145.3 Z" fill="none" stroke="#78c876" stroke-width="0.8"/>
<path d="M680.4,140.6 L682.75,144.8 L678.05,144.8 Z" fill="none" stroke="#78c876" stroke-width="0.8"/>
<path d="M685.7,141.1 L688.05,145.3 L683.35,145.3 Z" fill="none" stroke="#78c876" stroke-width="0.8"/>
<path d="M691,141.1 L693.35,145.3 L688.65,145.3 Z" fill="none" stroke="#78c876" stroke-width="0.8"/>
<path d="M696.3,141.5 L698.65,145.7 L693.95,145.7 Z" fill="none" stroke="#78c876" stroke-width="0.8"/>
<path d="M701.6,142.1 L703.95,146.3 L699.25,146.3 Z" fill="none" stroke="#78c876" stroke-width="0.8"/>
<path d="M706.9,143.2 L709.25,147.4 L704.55,147.4 Z" fill="none" stroke="#78c876" stroke-width="0.8"/>
<path d="M711.8,143.6 L714.15,147.8 L709.45,147.8 Z" fill="none" stroke="#78c876" stroke-width="0.8"/>
<path d="M717.1,144.3 L719.45,148.5 L714.75,148.5 Z" fill="none" stroke="#78c876" stroke-width="0.8"/>
<path d="M722.4,144.9 L724.75,149.1 L720.05,149.1 Z" fill="none" stroke="#78c876" stroke-width="0.8"/>
<polyline points="424.6,92.7 429.5,94.8 434.8,95.2 440,93.9 445.3,93.3 450.6,93.3 455.8,90.5 461.1,90.5 466.4,89.9 471.7,89.7 476.5,89.9 481.8,91 487.1,91 492.3,92.7 497.6,97.9 502.9,100 508.1,102.8 513.4,99.6 518.7,99.6 523.8,100.5 529.2,100.5 534.3,100.7 539.6,100 544.8,99 550.1,99.4 555.4,98.6 560.7,100 565.5,102.8 570.8,109.5 575.9,110.1 581,117.1 586.3,118.8 591.6,118.2 597,110.8 602.3,107 607.6,105.9 612.4,117.8 617.8,113.5 623.1,119.9 628.4,122 633.7,123.1 638.5,123.5 643.9,124.6 648.9,126.3 654.5,127.8 659.6,128 664.9,129.4 670.2,129.2 675.5,128.8 680.4,128.8 685.7,128.2 691,128.8 696.3,128.8 701.6,129.2 706.9,129.2 711.8,130.1 717.1,130.1 722.4,130.5" fill="none" stroke="#5a76d0" stroke-width="0.75"/>
<rect x="423.85" y="91.95" width="1.5" height="1.5" fill="#4560c4"/>
<rect x="428.75" y="94.05" width="1.5" height="1.5" fill="#4560c4"/>
<rect x="434.05" y="94.45" width="1.5" height="1.5" fill="#4560c4"/>
<rect x="439.25" y="93.15" width="1.5" height="1.5" fill="#4560c4"/>
<rect x="444.55" y="92.55" width="1.5" height="1.5" fill="#4560c4"/>
<rect x="449.85" y="92.55" width="1.5" height="1.5" fill="#4560c4"/>
<rect x="455.05" y="89.75" width="1.5" height="1.5" fill="#4560c4"/>
<rect x="460.35" y="89.75" width="1.5" height="1.5" fill="#4560c4"/>
<rect x="465.65" y="89.15" width="1.5" height="1.5" fill="#4560c4"/>
<rect x="470.95" y="88.95" width="1.5" height="1.5" fill="#4560c4"/>
<rect x="475.75" y="89.15" width="1.5" height="1.5" fill="#4560c4"/>
<rect x="481.05" y="90.25" width="1.5" height="1.5" fill="#4560c4"/>
<rect x="486.35" y="90.25" width="1.5" height="1.5" fill="#4560c4"/>
<rect x="491.55" y="91.95" width="1.5" height="1.5" fill="#4560c4"/>
<rect x="496.85" y="97.15" width="1.5" height="1.5" fill="#4560c4"/>
<rect x="502.15" y="99.25" width="1.5" height="1.5" fill="#4560c4"/>
<rect x="507.35" y="102.05" width="1.5" height="1.5" fill="#4560c4"/>
<rect x="512.65" y="98.85" width="1.5" height="1.5" fill="#4560c4"/>
<rect x="517.95" y="98.85" width="1.5" height="1.5" fill="#4560c4"/>
<rect x="523.05" y="99.75" width="1.5" height="1.5" fill="#4560c4"/>
<rect x="528.45" y="99.75" width="1.5" height="1.5" fill="#4560c4"/>
<rect x="533.55" y="99.95" width="1.5" height="1.5" fill="#4560c4"/>
<rect x="538.85" y="99.25" width="1.5" height="1.5" fill="#4560c4"/>
<rect x="544.05" y="98.25" width="1.5" height="1.5" fill="#4560c4"/>
<rect x="549.35" y="98.65" width="1.5" height="1.5" fill="#4560c4"/>
<rect x="554.65" y="97.85" width="1.5" height="1.5" fill="#4560c4"/>
<rect x="559.95" y="99.25" width="1.5" height="1.5" fill="#4560c4"/>
<rect x="564.75" y="102.05" width="1.5" height="1.5" fill="#4560c4"/>
<rect x="570.05" y="108.75" width="1.5" height="1.5" fill="#4560c4"/>
<rect x="575.15" y="109.35" width="1.5" height="1.5" fill="#4560c4"/>
<rect x="580.25" y="116.35" width="1.5" height="1.5" fill="#4560c4"/>
<rect x="585.55" y="118.05" width="1.5" height="1.5" fill="#4560c4"/>
<rect x="590.85" y="117.45" width="1.5" height="1.5" fill="#4560c4"/>
<rect x="596.25" y="110.05" width="1.5" height="1.5" fill="#4560c4"/>
<rect x="601.55" y="106.25" width="1.5" height="1.5" fill="#4560c4"/>
<rect x="606.85" y="105.15" width="1.5" height="1.5" fill="#4560c4"/>
<rect x="611.65" y="117.05" width="1.5" height="1.5" fill="#4560c4"/>
<rect x="617.05" y="112.75" width="1.5" height="1.5" fill="#4560c4"/>
<rect x="622.35" y="119.15" width="1.5" height="1.5" fill="#4560c4"/>
<rect x="627.65" y="121.25" width="1.5" height="1.5" fill="#4560c4"/>
<rect x="632.95" y="122.35" width="1.5" height="1.5" fill="#4560c4"/>
<rect x="637.75" y="122.75" width="1.5" height="1.5" fill="#4560c4"/>
<rect x="643.15" y="123.85" width="1.5" height="1.5" fill="#4560c4"/>
<rect x="648.15" y="125.55" width="1.5" height="1.5" fill="#4560c4"/>
<rect x="653.75" y="127.05" width="1.5" height="1.5" fill="#4560c4"/>
<rect x="658.85" y="127.25" width="1.5" height="1.5" fill="#4560c4"/>
<rect x="664.15" y="128.65" width="1.5" height="1.5" fill="#4560c4"/>
<rect x="669.45" y="128.45" width="1.5" height="1.5" fill="#4560c4"/>
<rect x="674.75" y="128.05" width="1.5" height="1.5" fill="#4560c4"/>
<rect x="679.65" y="128.05" width="1.5" height="1.5" fill="#4560c4"/>
<rect x="684.95" y="127.45" width="1.5" height="1.5" fill="#4560c4"/>
<rect x="690.25" y="128.05" width="1.5" height="1.5" fill="#4560c4"/>
<rect x="695.55" y="128.05" width="1.5" height="1.5" fill="#4560c4"/>
<rect x="700.85" y="128.45" width="1.5" height="1.5" fill="#4560c4"/>
<rect x="706.15" y="128.45" width="1.5" height="1.5" fill="#4560c4"/>
<rect x="711.05" y="129.35" width="1.5" height="1.5" fill="#4560c4"/>
<rect x="716.35" y="129.35" width="1.5" height="1.5" fill="#4560c4"/>
<rect x="721.65" y="129.75" width="1.5" height="1.5" fill="#4560c4"/>
</g>
<g clip-path="url(#tr2)">
<polyline points="423.2,227.31 423.9,219.18 424.6,209.29 425.25,215.63 425.9,220.9 426.65,224.96 427.4,229.73 428.4,202.62 428.97,206.32 429.53,207.66 430.1,209.98 430.75,210.08 431.4,209.67 432.05,209.46 432.7,208.71 433.3,209.07 433.9,209.73 434.5,209.4 435.1,209.04 435.7,210.61 436.3,210.34 436.9,210.97 437.5,210.53 438.1,210.52 438.7,211.62 439.3,210.87 439.9,211.68 440.5,211.4 441.1,212.23 441.74,211.14 442.38,210.91 443.02,210.63 443.66,211.32 444.3,211.58 445,212.63 445.7,212.96 446.4,215.41 447.02,215.55 447.64,216.12 448.26,217.87 448.88,219.07 449.5,220.68 450.2,222.54 450.9,222.12 451.6,224.95 452.17,227.66 452.73,229.84 453.3,233.2 453.93,230.75 454.55,226.86 455.18,224.14 455.8,221.9 456.53,224.53 457.27,226.66 458,229.96 458.7,226.04 459.4,219.43 460.1,213.79 460.8,213 461.5,210.96 462.2,210.78 463.2,223.73 463.9,218.8 464.6,215.91 465.3,210.53 465.86,211.15 466.42,210 466.98,209.63 467.54,210.13 468.1,209.29 468.7,209.64 469.3,209.79 469.9,210.38 470.5,209.58 471.1,208.8 471.7,210.25 472.38,211.87 473.05,212.36 473.72,212.48 474.4,212.39 475.15,215.27 475.9,218.63 476.6,215.45 477.3,212.07 478,208.73 478.7,206.19 479.4,206.13 480.1,204.2 480.8,205.39 481.5,208.32 482.2,208.3 482.84,207.73 483.48,207.76 484.12,208.84 484.76,206.81 485.4,205.77 486,205.65 486.6,205.83 487.2,206.57 487.8,205.39 488.4,205.57 489,202.85 489.6,205.97 490.2,205.62 490.8,205.91 491.4,204.84 492,206.01 492.6,205.57 493.2,206.38 493.8,205.25 494.5,201.78 495.2,199.78 495.9,197.13 496.6,198.06 497.3,197.9 498,197.72 498.7,200.36 499.4,203.19 500.1,204.95 500.8,202.2 501.5,199.75 502.2,198.1 502.93,196.91 503.67,195.81 504.4,194.78 505.1,192.97 505.8,191.43 506.5,189.54 507.2,185.92 507.9,185.24 508.6,182.91 509.3,181.32 510,182.29 510.7,178.75 511.3,178.81 511.9,179.92 512.5,180.44 513.1,179.85 513.7,178.99 514.3,178.95 514.9,179.29 515.47,179.75 516.05,179.67 516.62,179.71 517.19,179.63 517.76,179.29 518.34,178.39 518.91,179.41 519.48,178.8 520.05,178.95 520.63,178.31 521.2,178.86 521.79,178.44 522.38,178.66 522.97,178.71 523.56,178.31 524.14,178.55 524.73,177.34 525.32,177.81 525.91,176.83 526.5,178.33 527.5,182.47 528.11,180.47 528.73,182.38 529.34,179.34 529.96,180.64 530.57,180.76 531.19,179.77 531.8,179.45 532.4,179.58 533,178.89 533.6,181.28 534.2,179.47 534.8,178.33 535.4,180.39 536,178.24 536.6,178.98 537.2,178.93 537.8,179.42 538.4,179.46 539,179.49 539.6,179.1 540.2,179.09 540.77,178.96 541.35,182.15 541.92,178.79 542.49,178.17 543.06,181.58 543.64,178.62 544.21,177.49 544.78,177.94 545.35,179.43 545.93,177.78 546.5,177.71 547.08,178.08 547.66,178.25 548.25,177.59 548.83,177.62 549.41,177.17 549.99,178.1 550.57,177.48 551.15,177.53 551.74,177.72 552.32,176.21 552.9,176.78 553.47,176.25 554.05,177.49 554.62,176.78 555.19,175.88 555.76,175.68 556.34,175.48 556.91,176.09 557.48,176.12 558.05,174.17 558.63,176.21 559.2,176.12 559.8,175.53 560.4,175.58 561,175.96 561.6,174.58 562.2,174.79 562.8,175.27 563.4,175.99 563.97,175.23 564.53,177.25 565.1,179.4 565.73,177.9 566.35,177 566.98,176.3 567.6,173.69 568.2,173.05 568.8,174.57 569.4,172.36 570,171.8 570.7,171.02 571.4,171.56 572.1,168.98 572.67,173.39 573.23,177.42 573.8,181.43 574.7,170.45 575.38,170.91 576.05,172.98 576.73,172.06 577.4,173.67 578.04,172.73 578.68,172.73 579.32,170.74 579.96,169.07 580.6,169.12 581.21,169.91 581.83,168.99 582.44,170.89 583.06,167.82 583.67,171.41 584.29,171.18 584.9,171.64 585.5,172.75 586.1,172.88 586.7,173.16 587.3,173.93 587.9,174.9 588.5,174.65 589.1,175.3 589.8,176.74 590.5,173.51 591.2,174.41 591.9,175.01 592.6,176.39 593.3,176.65 593.85,177.33 594.4,178.18 594.95,180.26 595.5,180.38 596.12,179.97 596.74,178.98 597.36,179.45 597.98,178.92 598.6,179.34 599.16,180.8 599.72,183.21 600.28,184.38 600.84,186.33 601.4,187.13 602.15,184.37 602.9,181.83 603.65,185.83 604.4,187.3 604.97,186.46 605.53,185.12 606.1,182.93 606.73,185.64 607.35,188.24 607.98,190.56 608.6,190.88 609.5,181.95 610.08,181.51 610.66,182.36 611.24,182.11 611.82,180.72 612.4,181.67 613.04,181.91 613.68,182.28 614.32,183.09 614.96,183.62 615.6,182.57 616.19,182.98 616.78,184.47 617.37,185.06 617.96,181.9 618.54,184.49 619.13,184.35 619.72,184.72 620.31,184.77 620.9,185.17 621.49,185.05 622.08,185.3 622.67,184.27 623.26,184.49 623.84,185.32 624.43,185.12 625.02,184 625.61,183.9 626.2,185.06 626.81,183.87 627.43,185.82 628.04,184.88 628.66,185.6 629.27,186.46 629.89,185.97 630.5,187 631.09,188.44 631.68,187.67 632.27,188.62 632.86,188.47 633.44,188.71 634.03,190.41 634.62,190.97 635.21,190.64 635.8,191.68 636.4,192.12 637,191.83 637.6,192.9 638.2,192.9 638.8,193.51 639.4,193.78 640,194.72 640.59,194.49 641.18,194.57 641.77,195.92 642.36,195.44 642.94,196.92 643.53,196.32 644.12,197.7 644.71,196.74 645.3,197.33 645.89,198.32 646.48,198.5 647.07,197.44 647.66,198.48 648.24,198.67 648.83,197.82 649.42,198.2 650.01,199.33 650.6,199.3 651.2,199.59 651.8,198.92 652.4,199.76 653,199.69 653.6,199.23 654.2,199.29 654.8,200.77 655.4,200.48 656,201.02 656.6,201.04 657.2,200.63 657.8,201.54 658.4,200.65 659,201.36 659.6,201.11 660.2,202 660.79,201.94 661.38,200.79 661.97,202.48 662.56,202.16 663.14,202.33 663.73,201.51 664.32,202.52 664.91,201.71 665.5,201.36 666.08,200.75 666.66,200.77 667.25,201.98 667.83,201.44 668.41,201.95 668.99,201.55 669.57,200.42 670.15,200.84 670.74,201.53 671.32,201.07 671.9,203.28 672.47,202.15 673.05,203.94 673.62,200.85 674.19,201.96 674.76,202.03 675.34,201.19 675.91,201.46 676.48,201.29 677.05,201.01 677.63,200.21 678.2,200.57 678.78,201.35 679.36,200.87 679.95,201.41 680.53,201.35 681.11,203.1 681.69,201.74 682.27,201 682.85,201.7 683.44,199.89 684.02,202.12 684.6,200.66 685.2,200.95 685.8,201.56 686.4,201.39 687,202.11 687.6,203.88 688.2,203.26 688.8,203.72 689.35,202.93 689.9,206.17 690.54,205.01 691.18,205.56 691.82,205.27 692.46,205.73 693.1,204.81 693.68,204.05 694.26,204.96 694.85,204.3 695.43,204.82 696.01,204.85 696.59,203.19 697.17,204.26 697.75,203.65 698.34,204.72 698.92,203.75 699.5,203.28 700.07,203.64 700.65,203.3 701.22,203.46 701.79,204.92 702.36,203.4 702.94,204.48 703.51,204.18 704.08,205.7 704.65,204.6 705.23,204.04 705.8,203.72 706.38,204.85 706.96,205.72 707.55,205.16 708.13,204.16 708.71,205.28 709.29,204.12 709.87,205.44 710.45,206.44 711.04,204.42 711.62,205.69 712.2,205.76 712.78,205.87 713.36,205.8 713.95,206.86 714.53,206.02 715.11,206.49 715.69,206.32 716.27,205.95 716.85,205.92 717.44,206.28 718.02,205.59 718.6,206.81 719.16,206.45 719.71,206.39 720.27,206.78 720.82,206.35 721.38,207.28 721.93,206.77 722.49,206.71 723.04,207.37 723.6,207.23" fill="none" stroke="#3f58b8" stroke-width="0.75" stroke-linejoin="round"/>
</g>
<rect x="652.2" y="86.5" width="68.7" height="27.1" fill="#fff" stroke="#a0a0a0" stroke-width="0.9"/>
<line x1="656.46" y1="92.1" x2="676.25" y2="92.1" stroke="#5a76d0" stroke-width="0.9"/>
<rect x="665.52" y="91.2" width="1.8" height="1.8" fill="#4560c4"/>
<text x="678.72" y="94.5" font-size="6.8" fill="#000">47–68 keV</text>
<line x1="656.46" y1="100.3" x2="676.25" y2="100.3" stroke="#78c876" stroke-width="0.9"/>
<path d="M666.42,97.9 L668.62,101.8 L664.22,101.8 Z" fill="#fff" stroke="#78c876" stroke-width="0.8"/>
<text x="678.72" y="102.7" font-size="6.8" fill="#000">68–115 keV</text>
<line x1="656.46" y1="108.4" x2="676.25" y2="108.4" stroke="#f06060" stroke-width="0.9"/>
<circle cx="666.42" cy="108.4" r="2.1" fill="#fff" stroke="#f06060" stroke-width="0.8"/>
<text x="678.72" y="110.8" font-size="6.8" fill="#000">115–195 keV</text>
<line x1="423" y1="4.4" x2="423" y2="7" stroke="#5e5e5e" stroke-width="0.8"/>
<line x1="423" y1="83.5" x2="423" y2="80.9" stroke="#5e5e5e" stroke-width="0.8"/>
<line x1="423" y1="83.5" x2="423" y2="86.1" stroke="#5e5e5e" stroke-width="0.8"/>
<line x1="423" y1="162.6" x2="423" y2="160" stroke="#5e5e5e" stroke-width="0.8"/>
<line x1="423" y1="162.6" x2="423" y2="165.2" stroke="#5e5e5e" stroke-width="0.8"/>
<line x1="423" y1="241.8" x2="423" y2="239.2" stroke="#5e5e5e" stroke-width="0.8"/>
<line x1="430.52" y1="4.4" x2="430.52" y2="5.7" stroke="#5e5e5e" stroke-width="0.8"/>
<line x1="430.52" y1="83.5" x2="430.52" y2="82.2" stroke="#5e5e5e" stroke-width="0.8"/>
<line x1="430.52" y1="83.5" x2="430.52" y2="84.8" stroke="#5e5e5e" stroke-width="0.8"/>
<line x1="430.52" y1="162.6" x2="430.52" y2="161.3" stroke="#5e5e5e" stroke-width="0.8"/>
<line x1="430.52" y1="162.6" x2="430.52" y2="163.9" stroke="#5e5e5e" stroke-width="0.8"/>
<line x1="430.52" y1="241.8" x2="430.52" y2="240.5" stroke="#5e5e5e" stroke-width="0.8"/>
<line x1="438.04" y1="4.4" x2="438.04" y2="5.7" stroke="#5e5e5e" stroke-width="0.8"/>
<line x1="438.04" y1="83.5" x2="438.04" y2="82.2" stroke="#5e5e5e" stroke-width="0.8"/>
<line x1="438.04" y1="83.5" x2="438.04" y2="84.8" stroke="#5e5e5e" stroke-width="0.8"/>
<line x1="438.04" y1="162.6" x2="438.04" y2="161.3" stroke="#5e5e5e" stroke-width="0.8"/>
<line x1="438.04" y1="162.6" x2="438.04" y2="163.9" stroke="#5e5e5e" stroke-width="0.8"/>
<line x1="438.04" y1="241.8" x2="438.04" y2="240.5" stroke="#5e5e5e" stroke-width="0.8"/>
<line x1="445.56" y1="4.4" x2="445.56" y2="5.7" stroke="#5e5e5e" stroke-width="0.8"/>
<line x1="445.56" y1="83.5" x2="445.56" y2="82.2" stroke="#5e5e5e" stroke-width="0.8"/>
<line x1="445.56" y1="83.5" x2="445.56" y2="84.8" stroke="#5e5e5e" stroke-width="0.8"/>
<line x1="445.56" y1="162.6" x2="445.56" y2="161.3" stroke="#5e5e5e" stroke-width="0.8"/>
<line x1="445.56" y1="162.6" x2="445.56" y2="163.9" stroke="#5e5e5e" stroke-width="0.8"/>
<line x1="445.56" y1="241.8" x2="445.56" y2="240.5" stroke="#5e5e5e" stroke-width="0.8"/>
<line x1="453.08" y1="4.4" x2="453.08" y2="5.7" stroke="#5e5e5e" stroke-width="0.8"/>
<line x1="453.08" y1="83.5" x2="453.08" y2="82.2" stroke="#5e5e5e" stroke-width="0.8"/>
<line x1="453.08" y1="83.5" x2="453.08" y2="84.8" stroke="#5e5e5e" stroke-width="0.8"/>
<line x1="453.08" y1="162.6" x2="453.08" y2="161.3" stroke="#5e5e5e" stroke-width="0.8"/>
<line x1="453.08" y1="162.6" x2="453.08" y2="163.9" stroke="#5e5e5e" stroke-width="0.8"/>
<line x1="453.08" y1="241.8" x2="453.08" y2="240.5" stroke="#5e5e5e" stroke-width="0.8"/>
<line x1="460.6" y1="4.4" x2="460.6" y2="5.7" stroke="#5e5e5e" stroke-width="0.8"/>
<line x1="460.6" y1="83.5" x2="460.6" y2="82.2" stroke="#5e5e5e" stroke-width="0.8"/>
<line x1="460.6" y1="83.5" x2="460.6" y2="84.8" stroke="#5e5e5e" stroke-width="0.8"/>
<line x1="460.6" y1="162.6" x2="460.6" y2="161.3" stroke="#5e5e5e" stroke-width="0.8"/>
<line x1="460.6" y1="162.6" x2="460.6" y2="163.9" stroke="#5e5e5e" stroke-width="0.8"/>
<line x1="460.6" y1="241.8" x2="460.6" y2="240.5" stroke="#5e5e5e" stroke-width="0.8"/>
<line x1="468.12" y1="4.4" x2="468.12" y2="5.7" stroke="#5e5e5e" stroke-width="0.8"/>
<line x1="468.12" y1="83.5" x2="468.12" y2="82.2" stroke="#5e5e5e" stroke-width="0.8"/>
<line x1="468.12" y1="83.5" x2="468.12" y2="84.8" stroke="#5e5e5e" stroke-width="0.8"/>
<line x1="468.12" y1="162.6" x2="468.12" y2="161.3" stroke="#5e5e5e" stroke-width="0.8"/>
<line x1="468.12" y1="162.6" x2="468.12" y2="163.9" stroke="#5e5e5e" stroke-width="0.8"/>
<line x1="468.12" y1="241.8" x2="468.12" y2="240.5" stroke="#5e5e5e" stroke-width="0.8"/>
<line x1="475.64" y1="4.4" x2="475.64" y2="5.7" stroke="#5e5e5e" stroke-width="0.8"/>
<line x1="475.64" y1="83.5" x2="475.64" y2="82.2" stroke="#5e5e5e" stroke-width="0.8"/>
<line x1="475.64" y1="83.5" x2="475.64" y2="84.8" stroke="#5e5e5e" stroke-width="0.8"/>
<line x1="475.64" y1="162.6" x2="475.64" y2="161.3" stroke="#5e5e5e" stroke-width="0.8"/>
<line x1="475.64" y1="162.6" x2="475.64" y2="163.9" stroke="#5e5e5e" stroke-width="0.8"/>
<line x1="475.64" y1="241.8" x2="475.64" y2="240.5" stroke="#5e5e5e" stroke-width="0.8"/>
<line x1="483.16" y1="4.4" x2="483.16" y2="5.7" stroke="#5e5e5e" stroke-width="0.8"/>
<line x1="483.16" y1="83.5" x2="483.16" y2="82.2" stroke="#5e5e5e" stroke-width="0.8"/>
<line x1="483.16" y1="83.5" x2="483.16" y2="84.8" stroke="#5e5e5e" stroke-width="0.8"/>
<line x1="483.16" y1="162.6" x2="483.16" y2="161.3" stroke="#5e5e5e" stroke-width="0.8"/>
<line x1="483.16" y1="162.6" x2="483.16" y2="163.9" stroke="#5e5e5e" stroke-width="0.8"/>
<line x1="483.16" y1="241.8" x2="483.16" y2="240.5" stroke="#5e5e5e" stroke-width="0.8"/>
<line x1="490.68" y1="4.4" x2="490.68" y2="5.7" stroke="#5e5e5e" stroke-width="0.8"/>
<line x1="490.68" y1="83.5" x2="490.68" y2="82.2" stroke="#5e5e5e" stroke-width="0.8"/>
<line x1="490.68" y1="83.5" x2="490.68" y2="84.8" stroke="#5e5e5e" stroke-width="0.8"/>
<line x1="490.68" y1="162.6" x2="490.68" y2="161.3" stroke="#5e5e5e" stroke-width="0.8"/>
<line x1="490.68" y1="162.6" x2="490.68" y2="163.9" stroke="#5e5e5e" stroke-width="0.8"/>
<line x1="490.68" y1="241.8" x2="490.68" y2="240.5" stroke="#5e5e5e" stroke-width="0.8"/>
<line x1="498.2" y1="4.4" x2="498.2" y2="7" stroke="#5e5e5e" stroke-width="0.8"/>
<line x1="498.2" y1="83.5" x2="498.2" y2="80.9" stroke="#5e5e5e" stroke-width="0.8"/>
<line x1="498.2" y1="83.5" x2="498.2" y2="86.1" stroke="#5e5e5e" stroke-width="0.8"/>
<line x1="498.2" y1="162.6" x2="498.2" y2="160" stroke="#5e5e5e" stroke-width="0.8"/>
<line x1="498.2" y1="162.6" x2="498.2" y2="165.2" stroke="#5e5e5e" stroke-width="0.8"/>
<line x1="498.2" y1="241.8" x2="498.2" y2="239.2" stroke="#5e5e5e" stroke-width="0.8"/>
<line x1="505.72" y1="4.4" x2="505.72" y2="5.7" stroke="#5e5e5e" stroke-width="0.8"/>
<line x1="505.72" y1="83.5" x2="505.72" y2="82.2" stroke="#5e5e5e" stroke-width="0.8"/>
<line x1="505.72" y1="83.5" x2="505.72" y2="84.8" stroke="#5e5e5e" stroke-width="0.8"/>
<line x1="505.72" y1="162.6" x2="505.72" y2="161.3" stroke="#5e5e5e" stroke-width="0.8"/>
<line x1="505.72" y1="162.6" x2="505.72" y2="163.9" stroke="#5e5e5e" stroke-width="0.8"/>
<line x1="505.72" y1="241.8" x2="505.72" y2="240.5" stroke="#5e5e5e" stroke-width="0.8"/>
<line x1="513.24" y1="4.4" x2="513.24" y2="5.7" stroke="#5e5e5e" stroke-width="0.8"/>
<line x1="513.24" y1="83.5" x2="513.24" y2="82.2" stroke="#5e5e5e" stroke-width="0.8"/>
<line x1="513.24" y1="83.5" x2="513.24" y2="84.8" stroke="#5e5e5e" stroke-width="0.8"/>
<line x1="513.24" y1="162.6" x2="513.24" y2="161.3" stroke="#5e5e5e" stroke-width="0.8"/>
<line x1="513.24" y1="162.6" x2="513.24" y2="163.9" stroke="#5e5e5e" stroke-width="0.8"/>
<line x1="513.24" y1="241.8" x2="513.24" y2="240.5" stroke="#5e5e5e" stroke-width="0.8"/>
<line x1="520.76" y1="4.4" x2="520.76" y2="5.7" stroke="#5e5e5e" stroke-width="0.8"/>
<line x1="520.76" y1="83.5" x2="520.76" y2="82.2" stroke="#5e5e5e" stroke-width="0.8"/>
<line x1="520.76" y1="83.5" x2="520.76" y2="84.8" stroke="#5e5e5e" stroke-width="0.8"/>
<line x1="520.76" y1="162.6" x2="520.76" y2="161.3" stroke="#5e5e5e" stroke-width="0.8"/>
<line x1="520.76" y1="162.6" x2="520.76" y2="163.9" stroke="#5e5e5e" stroke-width="0.8"/>
<line x1="520.76" y1="241.8" x2="520.76" y2="240.5" stroke="#5e5e5e" stroke-width="0.8"/>
<line x1="528.28" y1="4.4" x2="528.28" y2="5.7" stroke="#5e5e5e" stroke-width="0.8"/>
<line x1="528.28" y1="83.5" x2="528.28" y2="82.2" stroke="#5e5e5e" stroke-width="0.8"/>
<line x1="528.28" y1="83.5" x2="528.28" y2="84.8" stroke="#5e5e5e" stroke-width="0.8"/>
<line x1="528.28" y1="162.6" x2="528.28" y2="161.3" stroke="#5e5e5e" stroke-width="0.8"/>
<line x1="528.28" y1="162.6" x2="528.28" y2="163.9" stroke="#5e5e5e" stroke-width="0.8"/>
<line x1="528.28" y1="241.8" x2="528.28" y2="240.5" stroke="#5e5e5e" stroke-width="0.8"/>
<line x1="535.8" y1="4.4" x2="535.8" y2="5.7" stroke="#5e5e5e" stroke-width="0.8"/>
<line x1="535.8" y1="83.5" x2="535.8" y2="82.2" stroke="#5e5e5e" stroke-width="0.8"/>
<line x1="535.8" y1="83.5" x2="535.8" y2="84.8" stroke="#5e5e5e" stroke-width="0.8"/>
<line x1="535.8" y1="162.6" x2="535.8" y2="161.3" stroke="#5e5e5e" stroke-width="0.8"/>
<line x1="535.8" y1="162.6" x2="535.8" y2="163.9" stroke="#5e5e5e" stroke-width="0.8"/>
<line x1="535.8" y1="241.8" x2="535.8" y2="240.5" stroke="#5e5e5e" stroke-width="0.8"/>
<line x1="543.32" y1="4.4" x2="543.32" y2="5.7" stroke="#5e5e5e" stroke-width="0.8"/>
<line x1="543.32" y1="83.5" x2="543.32" y2="82.2" stroke="#5e5e5e" stroke-width="0.8"/>
<line x1="543.32" y1="83.5" x2="543.32" y2="84.8" stroke="#5e5e5e" stroke-width="0.8"/>
<line x1="543.32" y1="162.6" x2="543.32" y2="161.3" stroke="#5e5e5e" stroke-width="0.8"/>
<line x1="543.32" y1="162.6" x2="543.32" y2="163.9" stroke="#5e5e5e" stroke-width="0.8"/>
<line x1="543.32" y1="241.8" x2="543.32" y2="240.5" stroke="#5e5e5e" stroke-width="0.8"/>
<line x1="550.84" y1="4.4" x2="550.84" y2="5.7" stroke="#5e5e5e" stroke-width="0.8"/>
<line x1="550.84" y1="83.5" x2="550.84" y2="82.2" stroke="#5e5e5e" stroke-width="0.8"/>
<line x1="550.84" y1="83.5" x2="550.84" y2="84.8" stroke="#5e5e5e" stroke-width="0.8"/>
<line x1="550.84" y1="162.6" x2="550.84" y2="161.3" stroke="#5e5e5e" stroke-width="0.8"/>
<line x1="550.84" y1="162.6" x2="550.84" y2="163.9" stroke="#5e5e5e" stroke-width="0.8"/>
<line x1="550.84" y1="241.8" x2="550.84" y2="240.5" stroke="#5e5e5e" stroke-width="0.8"/>
<line x1="558.36" y1="4.4" x2="558.36" y2="5.7" stroke="#5e5e5e" stroke-width="0.8"/>
<line x1="558.36" y1="83.5" x2="558.36" y2="82.2" stroke="#5e5e5e" stroke-width="0.8"/>
<line x1="558.36" y1="83.5" x2="558.36" y2="84.8" stroke="#5e5e5e" stroke-width="0.8"/>
<line x1="558.36" y1="162.6" x2="558.36" y2="161.3" stroke="#5e5e5e" stroke-width="0.8"/>
<line x1="558.36" y1="162.6" x2="558.36" y2="163.9" stroke="#5e5e5e" stroke-width="0.8"/>
<line x1="558.36" y1="241.8" x2="558.36" y2="240.5" stroke="#5e5e5e" stroke-width="0.8"/>
<line x1="565.88" y1="4.4" x2="565.88" y2="5.7" stroke="#5e5e5e" stroke-width="0.8"/>
<line x1="565.88" y1="83.5" x2="565.88" y2="82.2" stroke="#5e5e5e" stroke-width="0.8"/>
<line x1="565.88" y1="83.5" x2="565.88" y2="84.8" stroke="#5e5e5e" stroke-width="0.8"/>
<line x1="565.88" y1="162.6" x2="565.88" y2="161.3" stroke="#5e5e5e" stroke-width="0.8"/>
<line x1="565.88" y1="162.6" x2="565.88" y2="163.9" stroke="#5e5e5e" stroke-width="0.8"/>
<line x1="565.88" y1="241.8" x2="565.88" y2="240.5" stroke="#5e5e5e" stroke-width="0.8"/>
<line x1="573.4" y1="4.4" x2="573.4" y2="7" stroke="#5e5e5e" stroke-width="0.8"/>
<line x1="573.4" y1="83.5" x2="573.4" y2="80.9" stroke="#5e5e5e" stroke-width="0.8"/>
<line x1="573.4" y1="83.5" x2="573.4" y2="86.1" stroke="#5e5e5e" stroke-width="0.8"/>
<line x1="573.4" y1="162.6" x2="573.4" y2="160" stroke="#5e5e5e" stroke-width="0.8"/>
<line x1="573.4" y1="162.6" x2="573.4" y2="165.2" stroke="#5e5e5e" stroke-width="0.8"/>
<line x1="573.4" y1="241.8" x2="573.4" y2="239.2" stroke="#5e5e5e" stroke-width="0.8"/>
<line x1="580.92" y1="4.4" x2="580.92" y2="5.7" stroke="#5e5e5e" stroke-width="0.8"/>
<line x1="580.92" y1="83.5" x2="580.92" y2="82.2" stroke="#5e5e5e" stroke-width="0.8"/>
<line x1="580.92" y1="83.5" x2="580.92" y2="84.8" stroke="#5e5e5e" stroke-width="0.8"/>
<line x1="580.92" y1="162.6" x2="580.92" y2="161.3" stroke="#5e5e5e" stroke-width="0.8"/>
<line x1="580.92" y1="162.6" x2="580.92" y2="163.9" stroke="#5e5e5e" stroke-width="0.8"/>
<line x1="580.92" y1="241.8" x2="580.92" y2="240.5" stroke="#5e5e5e" stroke-width="0.8"/>
<line x1="588.44" y1="4.4" x2="588.44" y2="5.7" stroke="#5e5e5e" stroke-width="0.8"/>
<line x1="588.44" y1="83.5" x2="588.44" y2="82.2" stroke="#5e5e5e" stroke-width="0.8"/>
<line x1="588.44" y1="83.5" x2="588.44" y2="84.8" stroke="#5e5e5e" stroke-width="0.8"/>
<line x1="588.44" y1="162.6" x2="588.44" y2="161.3" stroke="#5e5e5e" stroke-width="0.8"/>
<line x1="588.44" y1="162.6" x2="588.44" y2="163.9" stroke="#5e5e5e" stroke-width="0.8"/>
<line x1="588.44" y1="241.8" x2="588.44" y2="240.5" stroke="#5e5e5e" stroke-width="0.8"/>
<line x1="595.96" y1="4.4" x2="595.96" y2="5.7" stroke="#5e5e5e" stroke-width="0.8"/>
<line x1="595.96" y1="83.5" x2="595.96" y2="82.2" stroke="#5e5e5e" stroke-width="0.8"/>
<line x1="595.96" y1="83.5" x2="595.96" y2="84.8" stroke="#5e5e5e" stroke-width="0.8"/>
<line x1="595.96" y1="162.6" x2="595.96" y2="161.3" stroke="#5e5e5e" stroke-width="0.8"/>
<line x1="595.96" y1="162.6" x2="595.96" y2="163.9" stroke="#5e5e5e" stroke-width="0.8"/>
<line x1="595.96" y1="241.8" x2="595.96" y2="240.5" stroke="#5e5e5e" stroke-width="0.8"/>
<line x1="603.48" y1="4.4" x2="603.48" y2="5.7" stroke="#5e5e5e" stroke-width="0.8"/>
<line x1="603.48" y1="83.5" x2="603.48" y2="82.2" stroke="#5e5e5e" stroke-width="0.8"/>
<line x1="603.48" y1="83.5" x2="603.48" y2="84.8" stroke="#5e5e5e" stroke-width="0.8"/>
<line x1="603.48" y1="162.6" x2="603.48" y2="161.3" stroke="#5e5e5e" stroke-width="0.8"/>
<line x1="603.48" y1="162.6" x2="603.48" y2="163.9" stroke="#5e5e5e" stroke-width="0.8"/>
<line x1="603.48" y1="241.8" x2="603.48" y2="240.5" stroke="#5e5e5e" stroke-width="0.8"/>
<line x1="611" y1="4.4" x2="611" y2="5.7" stroke="#5e5e5e" stroke-width="0.8"/>
<line x1="611" y1="83.5" x2="611" y2="82.2" stroke="#5e5e5e" stroke-width="0.8"/>
<line x1="611" y1="83.5" x2="611" y2="84.8" stroke="#5e5e5e" stroke-width="0.8"/>
<line x1="611" y1="162.6" x2="611" y2="161.3" stroke="#5e5e5e" stroke-width="0.8"/>
<line x1="611" y1="162.6" x2="611" y2="163.9" stroke="#5e5e5e" stroke-width="0.8"/>
<line x1="611" y1="241.8" x2="611" y2="240.5" stroke="#5e5e5e" stroke-width="0.8"/>
<line x1="618.52" y1="4.4" x2="618.52" y2="5.7" stroke="#5e5e5e" stroke-width="0.8"/>
<line x1="618.52" y1="83.5" x2="618.52" y2="82.2" stroke="#5e5e5e" stroke-width="0.8"/>
<line x1="618.52" y1="83.5" x2="618.52" y2="84.8" stroke="#5e5e5e" stroke-width="0.8"/>
<line x1="618.52" y1="162.6" x2="618.52" y2="161.3" stroke="#5e5e5e" stroke-width="0.8"/>
<line x1="618.52" y1="162.6" x2="618.52" y2="163.9" stroke="#5e5e5e" stroke-width="0.8"/>
<line x1="618.52" y1="241.8" x2="618.52" y2="240.5" stroke="#5e5e5e" stroke-width="0.8"/>
<line x1="626.04" y1="4.4" x2="626.04" y2="5.7" stroke="#5e5e5e" stroke-width="0.8"/>
<line x1="626.04" y1="83.5" x2="626.04" y2="82.2" stroke="#5e5e5e" stroke-width="0.8"/>
<line x1="626.04" y1="83.5" x2="626.04" y2="84.8" stroke="#5e5e5e" stroke-width="0.8"/>
<line x1="626.04" y1="162.6" x2="626.04" y2="161.3" stroke="#5e5e5e" stroke-width="0.8"/>
<line x1="626.04" y1="162.6" x2="626.04" y2="163.9" stroke="#5e5e5e" stroke-width="0.8"/>
<line x1="626.04" y1="241.8" x2="626.04" y2="240.5" stroke="#5e5e5e" stroke-width="0.8"/>
<line x1="633.56" y1="4.4" x2="633.56" y2="5.7" stroke="#5e5e5e" stroke-width="0.8"/>
<line x1="633.56" y1="83.5" x2="633.56" y2="82.2" stroke="#5e5e5e" stroke-width="0.8"/>
<line x1="633.56" y1="83.5" x2="633.56" y2="84.8" stroke="#5e5e5e" stroke-width="0.8"/>
<line x1="633.56" y1="162.6" x2="633.56" y2="161.3" stroke="#5e5e5e" stroke-width="0.8"/>
<line x1="633.56" y1="162.6" x2="633.56" y2="163.9" stroke="#5e5e5e" stroke-width="0.8"/>
<line x1="633.56" y1="241.8" x2="633.56" y2="240.5" stroke="#5e5e5e" stroke-width="0.8"/>
<line x1="641.08" y1="4.4" x2="641.08" y2="5.7" stroke="#5e5e5e" stroke-width="0.8"/>
<line x1="641.08" y1="83.5" x2="641.08" y2="82.2" stroke="#5e5e5e" stroke-width="0.8"/>
<line x1="641.08" y1="83.5" x2="641.08" y2="84.8" stroke="#5e5e5e" stroke-width="0.8"/>
<line x1="641.08" y1="162.6" x2="641.08" y2="161.3" stroke="#5e5e5e" stroke-width="0.8"/>
<line x1="641.08" y1="162.6" x2="641.08" y2="163.9" stroke="#5e5e5e" stroke-width="0.8"/>
<line x1="641.08" y1="241.8" x2="641.08" y2="240.5" stroke="#5e5e5e" stroke-width="0.8"/>
<line x1="648.6" y1="4.4" x2="648.6" y2="7" stroke="#5e5e5e" stroke-width="0.8"/>
<line x1="648.6" y1="83.5" x2="648.6" y2="80.9" stroke="#5e5e5e" stroke-width="0.8"/>
<line x1="648.6" y1="83.5" x2="648.6" y2="86.1" stroke="#5e5e5e" stroke-width="0.8"/>
<line x1="648.6" y1="162.6" x2="648.6" y2="160" stroke="#5e5e5e" stroke-width="0.8"/>
<line x1="648.6" y1="162.6" x2="648.6" y2="165.2" stroke="#5e5e5e" stroke-width="0.8"/>
<line x1="648.6" y1="241.8" x2="648.6" y2="239.2" stroke="#5e5e5e" stroke-width="0.8"/>
<line x1="656.12" y1="4.4" x2="656.12" y2="5.7" stroke="#5e5e5e" stroke-width="0.8"/>
<line x1="656.12" y1="83.5" x2="656.12" y2="82.2" stroke="#5e5e5e" stroke-width="0.8"/>
<line x1="656.12" y1="83.5" x2="656.12" y2="84.8" stroke="#5e5e5e" stroke-width="0.8"/>
<line x1="656.12" y1="162.6" x2="656.12" y2="161.3" stroke="#5e5e5e" stroke-width="0.8"/>
<line x1="656.12" y1="162.6" x2="656.12" y2="163.9" stroke="#5e5e5e" stroke-width="0.8"/>
<line x1="656.12" y1="241.8" x2="656.12" y2="240.5" stroke="#5e5e5e" stroke-width="0.8"/>
<line x1="663.64" y1="4.4" x2="663.64" y2="5.7" stroke="#5e5e5e" stroke-width="0.8"/>
<line x1="663.64" y1="83.5" x2="663.64" y2="82.2" stroke="#5e5e5e" stroke-width="0.8"/>
<line x1="663.64" y1="83.5" x2="663.64" y2="84.8" stroke="#5e5e5e" stroke-width="0.8"/>
<line x1="663.64" y1="162.6" x2="663.64" y2="161.3" stroke="#5e5e5e" stroke-width="0.8"/>
<line x1="663.64" y1="162.6" x2="663.64" y2="163.9" stroke="#5e5e5e" stroke-width="0.8"/>
<line x1="663.64" y1="241.8" x2="663.64" y2="240.5" stroke="#5e5e5e" stroke-width="0.8"/>
<line x1="671.16" y1="4.4" x2="671.16" y2="5.7" stroke="#5e5e5e" stroke-width="0.8"/>
<line x1="671.16" y1="83.5" x2="671.16" y2="82.2" stroke="#5e5e5e" stroke-width="0.8"/>
<line x1="671.16" y1="83.5" x2="671.16" y2="84.8" stroke="#5e5e5e" stroke-width="0.8"/>
<line x1="671.16" y1="162.6" x2="671.16" y2="161.3" stroke="#5e5e5e" stroke-width="0.8"/>
<line x1="671.16" y1="162.6" x2="671.16" y2="163.9" stroke="#5e5e5e" stroke-width="0.8"/>
<line x1="671.16" y1="241.8" x2="671.16" y2="240.5" stroke="#5e5e5e" stroke-width="0.8"/>
<line x1="678.68" y1="4.4" x2="678.68" y2="5.7" stroke="#5e5e5e" stroke-width="0.8"/>
<line x1="678.68" y1="83.5" x2="678.68" y2="82.2" stroke="#5e5e5e" stroke-width="0.8"/>
<line x1="678.68" y1="83.5" x2="678.68" y2="84.8" stroke="#5e5e5e" stroke-width="0.8"/>
<line x1="678.68" y1="162.6" x2="678.68" y2="161.3" stroke="#5e5e5e" stroke-width="0.8"/>
<line x1="678.68" y1="162.6" x2="678.68" y2="163.9" stroke="#5e5e5e" stroke-width="0.8"/>
<line x1="678.68" y1="241.8" x2="678.68" y2="240.5" stroke="#5e5e5e" stroke-width="0.8"/>
<line x1="686.2" y1="4.4" x2="686.2" y2="5.7" stroke="#5e5e5e" stroke-width="0.8"/>
<line x1="686.2" y1="83.5" x2="686.2" y2="82.2" stroke="#5e5e5e" stroke-width="0.8"/>
<line x1="686.2" y1="83.5" x2="686.2" y2="84.8" stroke="#5e5e5e" stroke-width="0.8"/>
<line x1="686.2" y1="162.6" x2="686.2" y2="161.3" stroke="#5e5e5e" stroke-width="0.8"/>
<line x1="686.2" y1="162.6" x2="686.2" y2="163.9" stroke="#5e5e5e" stroke-width="0.8"/>
<line x1="686.2" y1="241.8" x2="686.2" y2="240.5" stroke="#5e5e5e" stroke-width="0.8"/>
<line x1="693.72" y1="4.4" x2="693.72" y2="5.7" stroke="#5e5e5e" stroke-width="0.8"/>
<line x1="693.72" y1="83.5" x2="693.72" y2="82.2" stroke="#5e5e5e" stroke-width="0.8"/>
<line x1="693.72" y1="83.5" x2="693.72" y2="84.8" stroke="#5e5e5e" stroke-width="0.8"/>
<line x1="693.72" y1="162.6" x2="693.72" y2="161.3" stroke="#5e5e5e" stroke-width="0.8"/>
<line x1="693.72" y1="162.6" x2="693.72" y2="163.9" stroke="#5e5e5e" stroke-width="0.8"/>
<line x1="693.72" y1="241.8" x2="693.72" y2="240.5" stroke="#5e5e5e" stroke-width="0.8"/>
<line x1="701.24" y1="4.4" x2="701.24" y2="5.7" stroke="#5e5e5e" stroke-width="0.8"/>
<line x1="701.24" y1="83.5" x2="701.24" y2="82.2" stroke="#5e5e5e" stroke-width="0.8"/>
<line x1="701.24" y1="83.5" x2="701.24" y2="84.8" stroke="#5e5e5e" stroke-width="0.8"/>
<line x1="701.24" y1="162.6" x2="701.24" y2="161.3" stroke="#5e5e5e" stroke-width="0.8"/>
<line x1="701.24" y1="162.6" x2="701.24" y2="163.9" stroke="#5e5e5e" stroke-width="0.8"/>
<line x1="701.24" y1="241.8" x2="701.24" y2="240.5" stroke="#5e5e5e" stroke-width="0.8"/>
<line x1="708.76" y1="4.4" x2="708.76" y2="5.7" stroke="#5e5e5e" stroke-width="0.8"/>
<line x1="708.76" y1="83.5" x2="708.76" y2="82.2" stroke="#5e5e5e" stroke-width="0.8"/>
<line x1="708.76" y1="83.5" x2="708.76" y2="84.8" stroke="#5e5e5e" stroke-width="0.8"/>
<line x1="708.76" y1="162.6" x2="708.76" y2="161.3" stroke="#5e5e5e" stroke-width="0.8"/>
<line x1="708.76" y1="162.6" x2="708.76" y2="163.9" stroke="#5e5e5e" stroke-width="0.8"/>
<line x1="708.76" y1="241.8" x2="708.76" y2="240.5" stroke="#5e5e5e" stroke-width="0.8"/>
<line x1="716.28" y1="4.4" x2="716.28" y2="5.7" stroke="#5e5e5e" stroke-width="0.8"/>
<line x1="716.28" y1="83.5" x2="716.28" y2="82.2" stroke="#5e5e5e" stroke-width="0.8"/>
<line x1="716.28" y1="83.5" x2="716.28" y2="84.8" stroke="#5e5e5e" stroke-width="0.8"/>
<line x1="716.28" y1="162.6" x2="716.28" y2="161.3" stroke="#5e5e5e" stroke-width="0.8"/>
<line x1="716.28" y1="162.6" x2="716.28" y2="163.9" stroke="#5e5e5e" stroke-width="0.8"/>
<line x1="716.28" y1="241.8" x2="716.28" y2="240.5" stroke="#5e5e5e" stroke-width="0.8"/>
<line x1="723.8" y1="4.4" x2="723.8" y2="7" stroke="#5e5e5e" stroke-width="0.8"/>
<line x1="723.8" y1="83.5" x2="723.8" y2="80.9" stroke="#5e5e5e" stroke-width="0.8"/>
<line x1="723.8" y1="83.5" x2="723.8" y2="86.1" stroke="#5e5e5e" stroke-width="0.8"/>
<line x1="723.8" y1="162.6" x2="723.8" y2="160" stroke="#5e5e5e" stroke-width="0.8"/>
<line x1="723.8" y1="162.6" x2="723.8" y2="165.2" stroke="#5e5e5e" stroke-width="0.8"/>
<line x1="723.8" y1="241.8" x2="723.8" y2="239.2" stroke="#5e5e5e" stroke-width="0.8"/>
<line x1="423" y1="83.5" x2="425.6" y2="83.5" stroke="#5e5e5e" stroke-width="0.8"/>
<line x1="723.8" y1="83.5" x2="721.2" y2="83.5" stroke="#5e5e5e" stroke-width="0.8"/>
<line x1="423" y1="57.13" x2="425.6" y2="57.13" stroke="#5e5e5e" stroke-width="0.8"/>
<line x1="723.8" y1="57.13" x2="721.2" y2="57.13" stroke="#5e5e5e" stroke-width="0.8"/>
<line x1="423" y1="30.77" x2="425.6" y2="30.77" stroke="#5e5e5e" stroke-width="0.8"/>
<line x1="723.8" y1="30.77" x2="721.2" y2="30.77" stroke="#5e5e5e" stroke-width="0.8"/>
<line x1="423" y1="4.4" x2="425.6" y2="4.4" stroke="#5e5e5e" stroke-width="0.8"/>
<line x1="723.8" y1="4.4" x2="721.2" y2="4.4" stroke="#5e5e5e" stroke-width="0.8"/>
<line x1="423" y1="223" x2="425.6" y2="223" stroke="#5e5e5e" stroke-width="0.8"/>
<line x1="723.8" y1="223" x2="721.2" y2="223" stroke="#5e5e5e" stroke-width="0.8"/>
<line x1="423" y1="199.8" x2="425.6" y2="199.8" stroke="#5e5e5e" stroke-width="0.8"/>
<line x1="723.8" y1="199.8" x2="721.2" y2="199.8" stroke="#5e5e5e" stroke-width="0.8"/>
<line x1="423" y1="176.6" x2="425.6" y2="176.6" stroke="#5e5e5e" stroke-width="0.8"/>
<line x1="723.8" y1="176.6" x2="721.2" y2="176.6" stroke="#5e5e5e" stroke-width="0.8"/>
<line x1="423" y1="141.8" x2="425.6" y2="141.8" stroke="#5e5e5e" stroke-width="0.8"/>
<line x1="723.8" y1="141.8" x2="721.2" y2="141.8" stroke="#5e5e5e" stroke-width="0.8"/>
<line x1="423" y1="111.6" x2="425.6" y2="111.6" stroke="#5e5e5e" stroke-width="0.8"/>
<line x1="723.8" y1="111.6" x2="721.2" y2="111.6" stroke="#5e5e5e" stroke-width="0.8"/>
<rect x="423" y="4.4" width="300.8" height="79.1" fill="none" stroke="#a0a0a0" stroke-width="1"/>
<rect x="423" y="83.5" width="300.8" height="79.1" fill="none" stroke="#a0a0a0" stroke-width="1"/>
<rect x="423" y="162.6" width="300.8" height="79.2" fill="none" stroke="#a0a0a0" stroke-width="1"/>
<line x1="565.7" y1="83.7" x2="565.7" y2="4.9" stroke="#ee1111" stroke-width="2.1" stroke-dasharray="4.18 3.86"/>
<line x1="565.7" y1="162.8" x2="565.7" y2="84" stroke="#ee1111" stroke-width="2.1" stroke-dasharray="4.18 3.86"/>
<line x1="565.7" y1="242" x2="565.7" y2="163.1" stroke="#ee1111" stroke-width="2.1" stroke-dasharray="4.18 3.86"/>
<line x1="576" y1="83.7" x2="576" y2="4.9" stroke="#ee1111" stroke-width="2.1" stroke-dasharray="4.18 3.86"/>
<line x1="576" y1="162.8" x2="576" y2="84" stroke="#ee1111" stroke-width="2.1" stroke-dasharray="4.18 3.86"/>
<line x1="576" y1="242" x2="576" y2="163.1" stroke="#ee1111" stroke-width="2.1" stroke-dasharray="4.18 3.86"/>
<text x="417.8" y="88.71" font-size="12.1" text-anchor="end" fill="#111111">0</text>
<text x="417.8" y="62.34" font-size="12.1" text-anchor="end" fill="#111111">5</text>
<text x="417.8" y="35.98" font-size="12.1" text-anchor="end" fill="#111111">10</text>
<text x="417.8" y="9.61" font-size="12.1" text-anchor="end" fill="#111111">15</text>
<text x="417.8" y="228.21" font-size="12.1" text-anchor="end" fill="#111111">10</text>
<text x="417.8" y="205.01" font-size="12.1" text-anchor="end" fill="#111111">15</text>
<text x="417.8" y="181.81" font-size="12.1" text-anchor="end" fill="#111111">20</text>
<text x="413.5" y="147.01" font-size="12.1" text-anchor="end" fill="#111111">10</text>
<text x="413.5" y="140.2" font-size="8" fill="#111111">3</text>
<text x="413.5" y="116.81" font-size="12.1" text-anchor="end" fill="#111111">10</text>
<text x="413.5" y="110" font-size="8" fill="#111111">4</text>
<text x="423" y="255.5" font-size="12.1" text-anchor="middle" fill="#111111">95.4</text>
<text x="498.2" y="255.5" font-size="12.1" text-anchor="middle" fill="#111111">95.45</text>
<text x="573.4" y="255.5" font-size="12.1" text-anchor="middle" fill="#111111">95.5</text>
<text x="648.6" y="255.5" font-size="12.1" text-anchor="middle" fill="#111111">95.55</text>
<text x="723.8" y="255.5" font-size="12.1" text-anchor="middle" fill="#111111">95.6</text>
<text x="573.4" y="271.8" font-size="12.1" text-anchor="middle" fill="#111111">DOY 2010</text>
<text transform="translate(388,43.95) rotate(-90)" font-size="12.1" text-anchor="middle" fill="#111111">PVI</text>
<text transform="translate(388,123.05) rotate(-90)" font-size="12.1" text-anchor="middle" fill="#111111">LEMS120</text>
<text transform="translate(388,202.2) rotate(-90)" font-size="12.1" text-anchor="middle" fill="#111111">B (nT)</text>
<defs>
<clipPath id="bl0"><rect x="44.5" y="287.4" width="306.9" height="80.6"/></clipPath>
<clipPath id="bl1"><rect x="44.5" y="368" width="306.9" height="81.25"/></clipPath>
<clipPath id="bl2"><rect x="44.5" y="449.25" width="306.9" height="80.75"/></clipPath>
</defs>
<g clip-path="url(#bl0)">
<polyline points="44.6,350.7 48.4,348.1 53.8,365.8 59.2,352.2 64.6,345.3 69.9,360.8 74.9,305.6 80.3,346.4 85.6,363.6 91,336.7 96.4,330.7 101.8,353.5 107.1,346.8 112.5,358.9 117.9,349.6 123.3,352.2 128.6,360.4 134,356.7 139.4,356.1 144.8,359.3 150.1,345.3 155.5,352.9 160.2,352.9 165.6,363.8 171,350.7 176.4,363 181.7,358.7 187.1,360.8 192.5,353.3 197.8,293.9 203.2,351.4 208.3,302.1 213.9,355 219.1,361.5 224.7,353.9 229.8,360.8 235.2,361.9 240.6,355 245.9,364.7 251.3,359.3 256.7,360.4 262.1,355.4 267.4,358.2 272.4,347.1 277.8,364.3 283.1,361.9 288.5,365.8 293.9,362.1 299.3,362.1 304.6,363.4 310,365.8 315.4,363.6 320.8,360.4 325.7,346.4 331.1,363 336.4,346.4 341.8,348.1 347.2,349.6 351.4,347.1" fill="none" stroke="#5a76d0" stroke-width="0.75"/>
<rect x="43.85" y="349.95" width="1.5" height="1.5" fill="#4560c4"/>
<rect x="47.65" y="347.35" width="1.5" height="1.5" fill="#4560c4"/>
<rect x="53.05" y="365.05" width="1.5" height="1.5" fill="#4560c4"/>
<rect x="58.45" y="351.45" width="1.5" height="1.5" fill="#4560c4"/>
<rect x="63.85" y="344.55" width="1.5" height="1.5" fill="#4560c4"/>
<rect x="69.15" y="360.05" width="1.5" height="1.5" fill="#4560c4"/>
<rect x="74.15" y="304.85" width="1.5" height="1.5" fill="#4560c4"/>
<rect x="79.55" y="345.65" width="1.5" height="1.5" fill="#4560c4"/>
<rect x="84.85" y="362.85" width="1.5" height="1.5" fill="#4560c4"/>
<rect x="90.25" y="335.95" width="1.5" height="1.5" fill="#4560c4"/>
<rect x="95.65" y="329.95" width="1.5" height="1.5" fill="#4560c4"/>
<rect x="101.05" y="352.75" width="1.5" height="1.5" fill="#4560c4"/>
<rect x="106.35" y="346.05" width="1.5" height="1.5" fill="#4560c4"/>
<rect x="111.75" y="358.15" width="1.5" height="1.5" fill="#4560c4"/>
<rect x="117.15" y="348.85" width="1.5" height="1.5" fill="#4560c4"/>
<rect x="122.55" y="351.45" width="1.5" height="1.5" fill="#4560c4"/>
<rect x="127.85" y="359.65" width="1.5" height="1.5" fill="#4560c4"/>
<rect x="133.25" y="355.95" width="1.5" height="1.5" fill="#4560c4"/>
<rect x="138.65" y="355.35" width="1.5" height="1.5" fill="#4560c4"/>
<rect x="144.05" y="358.55" width="1.5" height="1.5" fill="#4560c4"/>
<rect x="149.35" y="344.55" width="1.5" height="1.5" fill="#4560c4"/>
<rect x="154.75" y="352.15" width="1.5" height="1.5" fill="#4560c4"/>
<rect x="159.45" y="352.15" width="1.5" height="1.5" fill="#4560c4"/>
<rect x="164.85" y="363.05" width="1.5" height="1.5" fill="#4560c4"/>
<rect x="170.25" y="349.95" width="1.5" height="1.5" fill="#4560c4"/>
<rect x="175.65" y="362.25" width="1.5" height="1.5" fill="#4560c4"/>
<rect x="180.95" y="357.95" width="1.5" height="1.5" fill="#4560c4"/>
<rect x="186.35" y="360.05" width="1.5" height="1.5" fill="#4560c4"/>
<rect x="191.75" y="352.55" width="1.5" height="1.5" fill="#4560c4"/>
<rect x="197.05" y="293.15" width="1.5" height="1.5" fill="#4560c4"/>
<rect x="202.45" y="350.65" width="1.5" height="1.5" fill="#4560c4"/>
<rect x="207.55" y="301.35" width="1.5" height="1.5" fill="#4560c4"/>
<rect x="213.15" y="354.25" width="1.5" height="1.5" fill="#4560c4"/>
<rect x="218.35" y="360.75" width="1.5" height="1.5" fill="#4560c4"/>
<rect x="223.95" y="353.15" width="1.5" height="1.5" fill="#4560c4"/>
<rect x="229.05" y="360.05" width="1.5" height="1.5" fill="#4560c4"/>
<rect x="234.45" y="361.15" width="1.5" height="1.5" fill="#4560c4"/>
<rect x="239.85" y="354.25" width="1.5" height="1.5" fill="#4560c4"/>
<rect x="245.15" y="363.95" width="1.5" height="1.5" fill="#4560c4"/>
<rect x="250.55" y="358.55" width="1.5" height="1.5" fill="#4560c4"/>
<rect x="255.95" y="359.65" width="1.5" height="1.5" fill="#4560c4"/>
<rect x="261.35" y="354.65" width="1.5" height="1.5" fill="#4560c4"/>
<rect x="266.65" y="357.45" width="1.5" height="1.5" fill="#4560c4"/>
<rect x="271.65" y="346.35" width="1.5" height="1.5" fill="#4560c4"/>
<rect x="277.05" y="363.55" width="1.5" height="1.5" fill="#4560c4"/>
<rect x="282.35" y="361.15" width="1.5" height="1.5" fill="#4560c4"/>
<rect x="287.75" y="365.05" width="1.5" height="1.5" fill="#4560c4"/>
<rect x="293.15" y="361.35" width="1.5" height="1.5" fill="#4560c4"/>
<rect x="298.55" y="361.35" width="1.5" height="1.5" fill="#4560c4"/>
<rect x="303.85" y="362.65" width="1.5" height="1.5" fill="#4560c4"/>
<rect x="309.25" y="365.05" width="1.5" height="1.5" fill="#4560c4"/>
<rect x="314.65" y="362.85" width="1.5" height="1.5" fill="#4560c4"/>
<rect x="320.05" y="359.65" width="1.5" height="1.5" fill="#4560c4"/>
<rect x="324.95" y="345.65" width="1.5" height="1.5" fill="#4560c4"/>
<rect x="330.35" y="362.25" width="1.5" height="1.5" fill="#4560c4"/>
<rect x="335.65" y="345.65" width="1.5" height="1.5" fill="#4560c4"/>
<rect x="341.05" y="347.35" width="1.5" height="1.5" fill="#4560c4"/>
<rect x="346.45" y="348.85" width="1.5" height="1.5" fill="#4560c4"/>
<rect x="350.65" y="346.35" width="1.5" height="1.5" fill="#4560c4"/>
</g>
<g clip-path="url(#bl1)">
<polyline points="44.6,434.22 48.4,434.22 53.8,434.22 59.2,434.22 64.6,437.01 69.9,437.01 74.9,424.11 80.3,417.24 85.6,418.1 91,419.39 96.4,419.82 101.8,425.83 107.1,423.04 112.5,423.68 117.9,421.96 123.3,423.04 128.6,421.32 134,420.89 139.4,421.53 144.8,424.11 150.1,421.32 155.5,425.62 160.2,428.41 165.6,430.56 171,430.56 176.4,430.78 181.7,430.99 187.1,432.71 192.5,431.64 197.8,427.3 203.2,419.8 208.3,414.9 213.9,414.4 219.1,414.4 224.7,414 229.8,414.9 235.2,414 240.6,413.4 245.9,414 251.3,416.2 256.7,415.5 262.1,416.6 267.4,417 272.4,417.7 277.8,418.7 283.1,419.8 288.5,420.9 293.9,422.6 299.3,422.6 304.6,422.6 310,422.6 315.4,422.2 320.8,422 325.7,422 331.1,423.5 336.4,424.8 341.8,420.5 347.2,418.3 351.4,419.2" fill="none" stroke="#f06060" stroke-width="0.9"/>
<circle cx="44.6" cy="434.22" r="2.3" fill="none" stroke="#f06060" stroke-width="0.8"/>
<circle cx="48.4" cy="434.22" r="2.3" fill="none" stroke="#f06060" stroke-width="0.8"/>
<circle cx="53.8" cy="434.22" r="2.3" fill="none" stroke="#f06060" stroke-width="0.8"/>
<circle cx="59.2" cy="434.22" r="2.3" fill="none" stroke="#f06060" stroke-width="0.8"/>
<circle cx="64.6" cy="437.01" r="2.3" fill="none" stroke="#f06060" stroke-width="0.8"/>
<circle cx="69.9" cy="437.01" r="2.3" fill="none" stroke="#f06060" stroke-width="0.8"/>
<circle cx="74.9" cy="424.11" r="2.3" fill="none" stroke="#f06060" stroke-width="0.8"/>
<circle cx="80.3" cy="417.24" r="2.3" fill="none" stroke="#f06060" stroke-width="0.8"/>
<circle cx="85.6" cy="418.1" r="2.3" fill="none" stroke="#f06060" stroke-width="0.8"/>
<circle cx="91" cy="419.39" r="2.3" fill="none" stroke="#f06060" stroke-width="0.8"/>
<circle cx="96.4" cy="419.82" r="2.3" fill="none" stroke="#f06060" stroke-width="0.8"/>
<circle cx="101.8" cy="425.83" r="2.3" fill="none" stroke="#f06060" stroke-width="0.8"/>
<circle cx="107.1" cy="423.04" r="2.3" fill="none" stroke="#f06060" stroke-width="0.8"/>
<circle cx="112.5" cy="423.68" r="2.3" fill="none" stroke="#f06060" stroke-width="0.8"/>
<circle cx="117.9" cy="421.96" r="2.3" fill="none" stroke="#f06060" stroke-width="0.8"/>
<circle cx="123.3" cy="423.04" r="2.3" fill="none" stroke="#f06060" stroke-width="0.8"/>
<circle cx="128.6" cy="421.32" r="2.3" fill="none" stroke="#f06060" stroke-width="0.8"/>
<circle cx="134" cy="420.89" r="2.3" fill="none" stroke="#f06060" stroke-width="0.8"/>
<circle cx="139.4" cy="421.53" r="2.3" fill="none" stroke="#f06060" stroke-width="0.8"/>
<circle cx="144.8" cy="424.11" r="2.3" fill="none" stroke="#f06060" stroke-width="0.8"/>
<circle cx="150.1" cy="421.32" r="2.3" fill="none" stroke="#f06060" stroke-width="0.8"/>
<circle cx="155.5" cy="425.62" r="2.3" fill="none" stroke="#f06060" stroke-width="0.8"/>
<circle cx="160.2" cy="428.41" r="2.3" fill="none" stroke="#f06060" stroke-width="0.8"/>
<circle cx="165.6" cy="430.56" r="2.3" fill="none" stroke="#f06060" stroke-width="0.8"/>
<circle cx="171" cy="430.56" r="2.3" fill="none" stroke="#f06060" stroke-width="0.8"/>
<circle cx="176.4" cy="430.78" r="2.3" fill="none" stroke="#f06060" stroke-width="0.8"/>
<circle cx="181.7" cy="430.99" r="2.3" fill="none" stroke="#f06060" stroke-width="0.8"/>
<circle cx="187.1" cy="432.71" r="2.3" fill="none" stroke="#f06060" stroke-width="0.8"/>
<circle cx="192.5" cy="431.64" r="2.3" fill="none" stroke="#f06060" stroke-width="0.8"/>
<circle cx="197.8" cy="427.3" r="2.3" fill="none" stroke="#f06060" stroke-width="0.8"/>
<circle cx="203.2" cy="419.8" r="2.3" fill="none" stroke="#f06060" stroke-width="0.8"/>
<circle cx="208.3" cy="414.9" r="2.3" fill="none" stroke="#f06060" stroke-width="0.8"/>
<circle cx="213.9" cy="414.4" r="2.3" fill="none" stroke="#f06060" stroke-width="0.8"/>
<circle cx="219.1" cy="414.4" r="2.3" fill="none" stroke="#f06060" stroke-width="0.8"/>
<circle cx="224.7" cy="414" r="2.3" fill="none" stroke="#f06060" stroke-width="0.8"/>
<circle cx="229.8" cy="414.9" r="2.3" fill="none" stroke="#f06060" stroke-width="0.8"/>
<circle cx="235.2" cy="414" r="2.3" fill="none" stroke="#f06060" stroke-width="0.8"/>
<circle cx="240.6" cy="413.4" r="2.3" fill="none" stroke="#f06060" stroke-width="0.8"/>
<circle cx="245.9" cy="414" r="2.3" fill="none" stroke="#f06060" stroke-width="0.8"/>
<circle cx="251.3" cy="416.2" r="2.3" fill="none" stroke="#f06060" stroke-width="0.8"/>
<circle cx="256.7" cy="415.5" r="2.3" fill="none" stroke="#f06060" stroke-width="0.8"/>
<circle cx="262.1" cy="416.6" r="2.3" fill="none" stroke="#f06060" stroke-width="0.8"/>
<circle cx="267.4" cy="417" r="2.3" fill="none" stroke="#f06060" stroke-width="0.8"/>
<circle cx="272.4" cy="417.7" r="2.3" fill="none" stroke="#f06060" stroke-width="0.8"/>
<circle cx="277.8" cy="418.7" r="2.3" fill="none" stroke="#f06060" stroke-width="0.8"/>
<circle cx="283.1" cy="419.8" r="2.3" fill="none" stroke="#f06060" stroke-width="0.8"/>
<circle cx="288.5" cy="420.9" r="2.3" fill="none" stroke="#f06060" stroke-width="0.8"/>
<circle cx="293.9" cy="422.6" r="2.3" fill="none" stroke="#f06060" stroke-width="0.8"/>
<circle cx="299.3" cy="422.6" r="2.3" fill="none" stroke="#f06060" stroke-width="0.8"/>
<circle cx="304.6" cy="422.6" r="2.3" fill="none" stroke="#f06060" stroke-width="0.8"/>
<circle cx="310" cy="422.6" r="2.3" fill="none" stroke="#f06060" stroke-width="0.8"/>
<circle cx="315.4" cy="422.2" r="2.3" fill="none" stroke="#f06060" stroke-width="0.8"/>
<circle cx="320.8" cy="422" r="2.3" fill="none" stroke="#f06060" stroke-width="0.8"/>
<circle cx="325.7" cy="422" r="2.3" fill="none" stroke="#f06060" stroke-width="0.8"/>
<circle cx="331.1" cy="423.5" r="2.3" fill="none" stroke="#f06060" stroke-width="0.8"/>
<circle cx="336.4" cy="424.8" r="2.3" fill="none" stroke="#f06060" stroke-width="0.8"/>
<circle cx="341.8" cy="420.5" r="2.3" fill="none" stroke="#f06060" stroke-width="0.8"/>
<circle cx="347.2" cy="418.3" r="2.3" fill="none" stroke="#f06060" stroke-width="0.8"/>
<circle cx="351.4" cy="419.2" r="2.3" fill="none" stroke="#f06060" stroke-width="0.8"/>
<polyline points="44.6,421.96 48.4,421.96 53.8,421.96 59.2,421.96 64.6,424.76 69.9,424.76 74.9,411.22 80.3,404.77 85.6,405.41 91,406.27 96.4,406.92 101.8,413.37 107.1,410.57 112.5,410.79 117.9,409.71 123.3,410.57 128.6,407.56 134,407.56 139.4,408.42 144.8,411.86 150.1,408.64 155.5,412.72 160.2,415.95 165.6,418.31 171,418.74 176.4,419.17 181.7,419.82 187.1,421.32 192.5,420.46 197.8,416.2 203.2,406.9 208.3,401.1 213.9,399.8 219.1,399 224.7,399.4 229.8,400.5 235.2,400.5 240.6,399 245.9,399 251.3,402 256.7,401.5 262.1,402 267.4,402.6 272.4,403.3 277.8,404.3 283.1,405.8 288.5,406.9 293.9,409.1 299.3,409.7 304.6,409.1 310,409.7 315.4,409.1 320.8,409.1 325.7,408.6 331.1,409.7 336.4,411.9 341.8,406.9 347.2,403.7 351.4,404.8" fill="none" stroke="#78c876" stroke-width="0.9"/>
<path d="M44.6,419.36 L46.95,423.56 L42.25,423.56 Z" fill="none" stroke="#78c876" stroke-width="0.8"/>
<path d="M48.4,419.36 L50.75,423.56 L46.05,423.56 Z" fill="none" stroke="#78c876" stroke-width="0.8"/>
<path d="M53.8,419.36 L56.15,423.56 L51.45,423.56 Z" fill="none" stroke="#78c876" stroke-width="0.8"/>
<path d="M59.2,419.36 L61.55,423.56 L56.85,423.56 Z" fill="none" stroke="#78c876" stroke-width="0.8"/>
<path d="M64.6,422.16 L66.95,426.36 L62.25,426.36 Z" fill="none" stroke="#78c876" stroke-width="0.8"/>
<path d="M69.9,422.16 L72.25,426.36 L67.55,426.36 Z" fill="none" stroke="#78c876" stroke-width="0.8"/>
<path d="M74.9,408.62 L77.25,412.82 L72.55,412.82 Z" fill="none" stroke="#78c876" stroke-width="0.8"/>
<path d="M80.3,402.17 L82.65,406.37 L77.95,406.37 Z" fill="none" stroke="#78c876" stroke-width="0.8"/>
<path d="M85.6,402.81 L87.95,407.01 L83.25,407.01 Z" fill="none" stroke="#78c876" stroke-width="0.8"/>
<path d="M91,403.67 L93.35,407.87 L88.65,407.87 Z" fill="none" stroke="#78c876" stroke-width="0.8"/>
<path d="M96.4,404.32 L98.75,408.52 L94.05,408.52 Z" fill="none" stroke="#78c876" stroke-width="0.8"/>
<path d="M101.8,410.77 L104.15,414.97 L99.45,414.97 Z" fill="none" stroke="#78c876" stroke-width="0.8"/>
<path d="M107.1,407.97 L109.45,412.17 L104.75,412.17 Z" fill="none" stroke="#78c876" stroke-width="0.8"/>
<path d="M112.5,408.19 L114.85,412.39 L110.15,412.39 Z" fill="none" stroke="#78c876" stroke-width="0.8"/>
<path d="M117.9,407.11 L120.25,411.31 L115.55,411.31 Z" fill="none" stroke="#78c876" stroke-width="0.8"/>
<path d="M123.3,407.97 L125.65,412.17 L120.95,412.17 Z" fill="none" stroke="#78c876" stroke-width="0.8"/>
<path d="M128.6,404.96 L130.95,409.16 L126.25,409.16 Z" fill="none" stroke="#78c876" stroke-width="0.8"/>
<path d="M134,404.96 L136.35,409.16 L131.65,409.16 Z" fill="none" stroke="#78c876" stroke-width="0.8"/>
<path d="M139.4,405.82 L141.75,410.02 L137.05,410.02 Z" fill="none" stroke="#78c876" stroke-width="0.8"/>
<path d="M144.8,409.26 L147.15,413.46 L142.45,413.46 Z" fill="none" stroke="#78c876" stroke-width="0.8"/>
<path d="M150.1,406.04 L152.45,410.24 L147.75,410.24 Z" fill="none" stroke="#78c876" stroke-width="0.8"/>
<path d="M155.5,410.12 L157.85,414.32 L153.15,414.32 Z" fill="none" stroke="#78c876" stroke-width="0.8"/>
<path d="M160.2,413.35 L162.55,417.55 L157.85,417.55 Z" fill="none" stroke="#78c876" stroke-width="0.8"/>
<path d="M165.6,415.71 L167.95,419.91 L163.25,419.91 Z" fill="none" stroke="#78c876" stroke-width="0.8"/>
<path d="M171,416.14 L173.35,420.34 L168.65,420.34 Z" fill="none" stroke="#78c876" stroke-width="0.8"/>
<path d="M176.4,416.57 L178.75,420.77 L174.05,420.77 Z" fill="none" stroke="#78c876" stroke-width="0.8"/>
<path d="M181.7,417.22 L184.05,421.42 L179.35,421.42 Z" fill="none" stroke="#78c876" stroke-width="0.8"/>
<path d="M187.1,418.72 L189.45,422.92 L184.75,422.92 Z" fill="none" stroke="#78c876" stroke-width="0.8"/>
<path d="M192.5,417.86 L194.85,422.06 L190.15,422.06 Z" fill="none" stroke="#78c876" stroke-width="0.8"/>
<path d="M197.8,413.6 L200.15,417.8 L195.45,417.8 Z" fill="none" stroke="#78c876" stroke-width="0.8"/>
<path d="M203.2,404.3 L205.55,408.5 L200.85,408.5 Z" fill="none" stroke="#78c876" stroke-width="0.8"/>
<path d="M208.3,398.5 L210.65,402.7 L205.95,402.7 Z" fill="none" stroke="#78c876" stroke-width="0.8"/>
<path d="M213.9,397.2 L216.25,401.4 L211.55,401.4 Z" fill="none" stroke="#78c876" stroke-width="0.8"/>
<path d="M219.1,396.4 L221.45,400.6 L216.75,400.6 Z" fill="none" stroke="#78c876" stroke-width="0.8"/>
<path d="M224.7,396.8 L227.05,401 L222.35,401 Z" fill="none" stroke="#78c876" stroke-width="0.8"/>
<path d="M229.8,397.9 L232.15,402.1 L227.45,402.1 Z" fill="none" stroke="#78c876" stroke-width="0.8"/>
<path d="M235.2,397.9 L237.55,402.1 L232.85,402.1 Z" fill="none" stroke="#78c876" stroke-width="0.8"/>
<path d="M240.6,396.4 L242.95,400.6 L238.25,400.6 Z" fill="none" stroke="#78c876" stroke-width="0.8"/>
<path d="M245.9,396.4 L248.25,400.6 L243.55,400.6 Z" fill="none" stroke="#78c876" stroke-width="0.8"/>
<path d="M251.3,399.4 L253.65,403.6 L248.95,403.6 Z" fill="none" stroke="#78c876" stroke-width="0.8"/>
<path d="M256.7,398.9 L259.05,403.1 L254.35,403.1 Z" fill="none" stroke="#78c876" stroke-width="0.8"/>
<path d="M262.1,399.4 L264.45,403.6 L259.75,403.6 Z" fill="none" stroke="#78c876" stroke-width="0.8"/>
<path d="M267.4,400 L269.75,404.2 L265.05,404.2 Z" fill="none" stroke="#78c876" stroke-width="0.8"/>
<path d="M272.4,400.7 L274.75,404.9 L270.05,404.9 Z" fill="none" stroke="#78c876" stroke-width="0.8"/>
<path d="M277.8,401.7 L280.15,405.9 L275.45,405.9 Z" fill="none" stroke="#78c876" stroke-width="0.8"/>
<path d="M283.1,403.2 L285.45,407.4 L280.75,407.4 Z" fill="none" stroke="#78c876" stroke-width="0.8"/>
<path d="M288.5,404.3 L290.85,408.5 L286.15,408.5 Z" fill="none" stroke="#78c876" stroke-width="0.8"/>
<path d="M293.9,406.5 L296.25,410.7 L291.55,410.7 Z" fill="none" stroke="#78c876" stroke-width="0.8"/>
<path d="M299.3,407.1 L301.65,411.3 L296.95,411.3 Z" fill="none" stroke="#78c876" stroke-width="0.8"/>
<path d="M304.6,406.5 L306.95,410.7 L302.25,410.7 Z" fill="none" stroke="#78c876" stroke-width="0.8"/>
<path d="M310,407.1 L312.35,411.3 L307.65,411.3 Z" fill="none" stroke="#78c876" stroke-width="0.8"/>
<path d="M315.4,406.5 L317.75,410.7 L313.05,410.7 Z" fill="none" stroke="#78c876" stroke-width="0.8"/>
<path d="M320.8,406.5 L323.15,410.7 L318.45,410.7 Z" fill="none" stroke="#78c876" stroke-width="0.8"/>
<path d="M325.7,406 L328.05,410.2 L323.35,410.2 Z" fill="none" stroke="#78c876" stroke-width="0.8"/>
<path d="M331.1,407.1 L333.45,411.3 L328.75,411.3 Z" fill="none" stroke="#78c876" stroke-width="0.8"/>
<path d="M336.4,409.3 L338.75,413.5 L334.05,413.5 Z" fill="none" stroke="#78c876" stroke-width="0.8"/>
<path d="M341.8,404.3 L344.15,408.5 L339.45,408.5 Z" fill="none" stroke="#78c876" stroke-width="0.8"/>
<path d="M347.2,401.1 L349.55,405.3 L344.85,405.3 Z" fill="none" stroke="#78c876" stroke-width="0.8"/>
<path d="M351.4,402.2 L353.75,406.4 L349.05,406.4 Z" fill="none" stroke="#78c876" stroke-width="0.8"/>
<polyline points="44.6,407.56 48.4,407.56 53.8,407.56 59.2,407.56 64.6,409.71 69.9,409.71 74.9,396.81 80.3,391.87 85.6,392.52 91,393.37 96.4,394.66 101.8,400.47 107.1,398.32 112.5,398.75 117.9,397.24 123.3,398.32 128.6,395.74 134,395.52 139.4,396.17 144.8,399.82 150.1,396.17 155.5,400.47 160.2,403.26 165.6,405.2 171,405.84 176.4,405.84 181.7,406.49 187.1,407.99 192.5,407.35 197.8,401.5 203.2,393 208.3,388.2 213.9,387.6 219.1,387.1 224.7,387.1 229.8,387.8 235.2,387.4 240.6,386.5 245.9,386.5 251.3,389.1 256.7,388.6 262.1,389.7 267.4,390.4 272.4,390.8 277.8,391.9 283.1,392 288.5,392.5 293.9,393.5 299.3,394 304.6,394 310,394 315.4,393.8 320.8,393.5 325.7,393.5 331.1,395.5 336.4,399.4 341.8,393.5 347.2,391.5 351.4,392" fill="none" stroke="#5a76d0" stroke-width="0.75"/>
<rect x="43.85" y="406.81" width="1.5" height="1.5" fill="#4560c4"/>
<rect x="47.65" y="406.81" width="1.5" height="1.5" fill="#4560c4"/>
<rect x="53.05" y="406.81" width="1.5" height="1.5" fill="#4560c4"/>
<rect x="58.45" y="406.81" width="1.5" height="1.5" fill="#4560c4"/>
<rect x="63.85" y="408.96" width="1.5" height="1.5" fill="#4560c4"/>
<rect x="69.15" y="408.96" width="1.5" height="1.5" fill="#4560c4"/>
<rect x="74.15" y="396.06" width="1.5" height="1.5" fill="#4560c4"/>
<rect x="79.55" y="391.12" width="1.5" height="1.5" fill="#4560c4"/>
<rect x="84.85" y="391.77" width="1.5" height="1.5" fill="#4560c4"/>
<rect x="90.25" y="392.62" width="1.5" height="1.5" fill="#4560c4"/>
<rect x="95.65" y="393.91" width="1.5" height="1.5" fill="#4560c4"/>
<rect x="101.05" y="399.72" width="1.5" height="1.5" fill="#4560c4"/>
<rect x="106.35" y="397.57" width="1.5" height="1.5" fill="#4560c4"/>
<rect x="111.75" y="398" width="1.5" height="1.5" fill="#4560c4"/>
<rect x="117.15" y="396.49" width="1.5" height="1.5" fill="#4560c4"/>
<rect x="122.55" y="397.57" width="1.5" height="1.5" fill="#4560c4"/>
<rect x="127.85" y="394.99" width="1.5" height="1.5" fill="#4560c4"/>
<rect x="133.25" y="394.77" width="1.5" height="1.5" fill="#4560c4"/>
<rect x="138.65" y="395.42" width="1.5" height="1.5" fill="#4560c4"/>
<rect x="144.05" y="399.07" width="1.5" height="1.5" fill="#4560c4"/>
<rect x="149.35" y="395.42" width="1.5" height="1.5" fill="#4560c4"/>
<rect x="154.75" y="399.72" width="1.5" height="1.5" fill="#4560c4"/>
<rect x="159.45" y="402.51" width="1.5" height="1.5" fill="#4560c4"/>
<rect x="164.85" y="404.45" width="1.5" height="1.5" fill="#4560c4"/>
<rect x="170.25" y="405.09" width="1.5" height="1.5" fill="#4560c4"/>
<rect x="175.65" y="405.09" width="1.5" height="1.5" fill="#4560c4"/>
<rect x="180.95" y="405.74" width="1.5" height="1.5" fill="#4560c4"/>
<rect x="186.35" y="407.24" width="1.5" height="1.5" fill="#4560c4"/>
<rect x="191.75" y="406.6" width="1.5" height="1.5" fill="#4560c4"/>
<rect x="197.05" y="400.75" width="1.5" height="1.5" fill="#4560c4"/>
<rect x="202.45" y="392.25" width="1.5" height="1.5" fill="#4560c4"/>
<rect x="207.55" y="387.45" width="1.5" height="1.5" fill="#4560c4"/>
<rect x="213.15" y="386.85" width="1.5" height="1.5" fill="#4560c4"/>
<rect x="218.35" y="386.35" width="1.5" height="1.5" fill="#4560c4"/>
<rect x="223.95" y="386.35" width="1.5" height="1.5" fill="#4560c4"/>
<rect x="229.05" y="387.05" width="1.5" height="1.5" fill="#4560c4"/>
<rect x="234.45" y="386.65" width="1.5" height="1.5" fill="#4560c4"/>
<rect x="239.85" y="385.75" width="1.5" height="1.5" fill="#4560c4"/>
<rect x="245.15" y="385.75" width="1.5" height="1.5" fill="#4560c4"/>
<rect x="250.55" y="388.35" width="1.5" height="1.5" fill="#4560c4"/>
<rect x="255.95" y="387.85" width="1.5" height="1.5" fill="#4560c4"/>
<rect x="261.35" y="388.95" width="1.5" height="1.5" fill="#4560c4"/>
<rect x="266.65" y="389.65" width="1.5" height="1.5" fill="#4560c4"/>
<rect x="271.65" y="390.05" width="1.5" height="1.5" fill="#4560c4"/>
<rect x="277.05" y="391.15" width="1.5" height="1.5" fill="#4560c4"/>
<rect x="282.35" y="391.25" width="1.5" height="1.5" fill="#4560c4"/>
<rect x="287.75" y="391.75" width="1.5" height="1.5" fill="#4560c4"/>
<rect x="293.15" y="392.75" width="1.5" height="1.5" fill="#4560c4"/>
<rect x="298.55" y="393.25" width="1.5" height="1.5" fill="#4560c4"/>
<rect x="303.85" y="393.25" width="1.5" height="1.5" fill="#4560c4"/>
<rect x="309.25" y="393.25" width="1.5" height="1.5" fill="#4560c4"/>
<rect x="314.65" y="393.05" width="1.5" height="1.5" fill="#4560c4"/>
<rect x="320.05" y="392.75" width="1.5" height="1.5" fill="#4560c4"/>
<rect x="324.95" y="392.75" width="1.5" height="1.5" fill="#4560c4"/>
<rect x="330.35" y="394.75" width="1.5" height="1.5" fill="#4560c4"/>
<rect x="335.65" y="398.65" width="1.5" height="1.5" fill="#4560c4"/>
<rect x="341.05" y="392.75" width="1.5" height="1.5" fill="#4560c4"/>
<rect x="346.45" y="390.75" width="1.5" height="1.5" fill="#4560c4"/>
<rect x="350.65" y="391.25" width="1.5" height="1.5" fill="#4560c4"/>
</g>
<g clip-path="url(#bl2)">
<polyline points="44.6,474.6 45.17,475.34 45.73,476.73 46.3,475.61 47,474.15 47.7,473.47 48.4,473.19 48.95,472.56 49.5,473.06 50.05,472.18 50.6,470.57 51.3,470.39 52,469.85 52.7,469.27 53.3,469.75 53.9,469.44 54.5,471.58 55.25,476.03 56,482.17 56.75,474.7 57.5,467.77 58.07,472.53 58.63,473.5 59.2,476.92 59.77,474.46 60.33,469.78 60.9,467.55 61.45,469.59 62,466.68 62.55,469.51 63.1,466.83 63.85,469.19 64.6,471.34 65.24,473.19 65.88,471.1 66.52,472.28 67.16,473.27 67.8,472.02 68.44,472.51 69.08,473.34 69.72,474.49 70.36,474.47 71,477.34 71.55,475.51 72.1,476.46 72.65,475.58 73.2,477.34 73.8,508.62 74.7,501 75.3,482.22 76.05,479.43 76.8,478.02 77.37,476.93 77.93,477.4 78.5,475.5 79.1,481.49 79.7,482.32 80.3,485.88 80.92,484.12 81.55,483.53 82.17,483.06 82.8,483.48 83.35,480.8 83.9,481.66 84.45,480 85,480.8 85.57,485.27 86.13,487.17 86.7,489.36 87.25,488.43 87.8,485.2 88.35,483.65 88.9,482.64 89.6,484.22 90.3,485.14 91,484.84 91.55,488.66 92.1,490.12 92.65,487.59 93.2,490.85 93.9,486.86 94.6,485.07 95.3,481.69 95.85,482.69 96.4,482.31 96.95,483.18 97.5,484.49 98.25,477.59 99,473.03 99.7,471.42 100.4,467.98 101.1,467.62 101.65,467.73 102.2,468.06 102.75,468.77 103.3,469.33 104,472.43 104.7,473.03 105.4,476.03 106.04,475.35 106.68,474.53 107.32,474.75 107.96,473.36 108.6,473.4 109.15,473.7 109.7,472.84 110.25,477.03 110.8,476.58 111.35,476 111.9,476.18 112.54,475.76 113.18,475.56 113.82,474.51 114.46,473.21 115.1,474.76 115.75,475.15 116.4,475.47 117.05,477.66 117.7,478.5 118.4,477.16 119.1,474.02 119.8,471.9 120.36,472.6 120.92,472.11 121.48,471.1 122.04,469.67 122.6,469.91 123.24,469.27 123.88,470.04 124.52,469.6 125.16,468.26 125.8,469.73 126.46,467.87 127.12,468.35 127.78,468.78 128.44,469.16 129.1,467.45 129.74,469.19 130.38,468.08 131.02,468.28 131.66,469.04 132.3,469.79 132.94,468.84 133.58,470.12 134.22,467.43 134.86,469.45 135.5,466.77 136.14,470.08 136.78,469.38 137.42,470.21 138.06,470.31 138.7,470.68 139.25,469.18 139.8,470.6 140.35,472.03 140.9,469.48 141.45,465.17 142,466.19 142.59,467.28 143.18,466.5 143.77,466.57 144.36,467.59 144.94,466.06 145.53,467.46 146.12,467.06 146.71,468.38 147.3,466.4 147.96,467.15 148.62,471.1 149.28,471.29 149.94,472.53 150.6,472.9 151.3,473.09 152,478.12 152.7,477.01 153.25,475.22 153.8,474.24 154.35,474.16 154.9,473.09 155.57,471.63 156.25,469.85 156.93,469.32 157.6,464.46 158.4,468.12 159.2,470.71 159.84,469.52 160.48,469.82 161.12,468.77 161.76,469.56 162.4,468.98 163.04,469.13 163.68,465.95 164.32,465.78 164.96,462.13 165.6,461.13 166.35,467.02 167.1,470.18 167.66,469.82 168.22,468.56 168.78,467.59 169.34,467.39 169.9,465.57 170.54,467.06 171.18,463.87 171.82,464.72 172.46,465.08 173.1,461.19 173.65,463.53 174.2,465.34 174.75,464.7 175.3,464.58 175.94,466.11 176.58,467.18 177.22,468.5 177.86,467.73 178.5,469.1 179.14,468.96 179.78,468.76 180.42,467.35 181.06,468.17 181.7,466.57 182.25,468.34 182.8,465.92 183.35,465.31 183.9,462.29 184.45,465.39 185,466.18 185.64,463.8 186.28,463.94 186.92,464.25 187.56,463.61 188.2,463.22 188.84,462.39 189.48,462.56 190.12,461.11 190.76,460.98 191.4,459.93 192.13,460.78 192.87,458.71 193.6,458.86 194.3,460.4 195,463.44 195.7,467.18 196.7,470.51 197.6,488.38 198.17,485.89 198.73,482.05 199.3,477.31 200,474.69 200.7,472.86 201.4,469.42 202,468.91 202.6,472.3 203.2,474.08 203.95,478.81 204.7,487.63 205.7,480.53 206.25,495.74 206.8,510.7 207.55,511.42 208.3,513.9 208.95,492.14 209.6,470.3 210.35,467.48 211.1,466.41 212.2,466.6 212.75,478.31 213.3,489.37 214,486.71 214.7,486.66 215.4,483.82 216.13,483.67 216.87,481.53 217.6,481.28 218.3,483.61 219,484.23 219.7,485.36 220.25,482.78 220.8,480.23 221.9,497.14 222.6,492.71 223.3,485.57 224,482.65 224.56,483.61 225.12,483.68 225.68,487.19 226.24,488.83 226.8,489.55 227.45,488.14 228.1,487.01 228.75,484.23 229.4,484.09 230.04,484.66 230.68,488.07 231.32,486.03 231.96,486.47 232.6,487.06 233.24,485.24 233.88,485.76 234.52,487.69 235.16,486.15 235.8,484.9 236.46,483.3 237.12,485.24 237.78,485.98 238.44,485.94 239.1,485.45 239.8,485.3 240.5,484.56 241.2,484.25 241.76,486.06 242.32,483.51 242.88,482.86 243.44,481.91 244,481.83 244.75,485.29 245.5,486.32 246.25,490.38 247,495.07 247.57,487 248.13,483.87 248.7,478.18 249.25,479.9 249.8,479.36 250.35,478.98 250.9,479.92 251.6,481.6 252.3,479.69 253,480.89 253.73,484.41 254.47,486.46 255.2,487.97 255.75,491.42 256.3,496.64 257.05,490.9 257.8,485.65 258.45,493.07 259.1,503.6 259.85,510.81 260.6,521 261.35,513.74 262.1,507.39 262.67,507.33 263.23,507.84 263.8,510.06 264.9,494.07 265.6,489.28 266.3,486.19 267,481.3 267.73,484.27 268.47,488.22 269.2,490.39 270.2,490.73 270.75,493.34 271.3,496.32 272.4,486.76 273.1,484.34 273.8,478.89 274.5,474.02 275.23,477.49 275.97,475.24 276.7,477.86 277.34,476.49 277.98,476.85 278.62,477.93 279.26,475.51 279.9,475.21 280.45,478.74 281,479.34 281.55,481.06 282.1,480.69 282.74,481.13 283.38,481.43 284.02,479.8 284.66,479.09 285.3,479.58 285.91,479.73 286.53,479.7 287.14,480.83 287.76,480.22 288.37,477.79 288.99,479.79 289.6,480.74 290.21,481.45 290.83,480.55 291.44,479.93 292.06,482.18 292.67,482.16 293.29,481.27 293.9,481.77 294.6,483.95 295.3,480.36 296,484.5 296.55,483.85 297.1,484.79 297.65,486.01 298.2,481.61 298.75,482.71 299.3,482.15 299.94,485.18 300.58,485.06 301.22,484.59 301.86,483.92 302.5,485.9 303.2,484.91 303.9,485.69 304.6,483.28 305.26,485.24 305.92,485.54 306.58,483.45 307.24,486.01 307.9,483.78 308.54,484.49 309.18,483.33 309.82,483.92 310.46,484.41 311.1,483.37 311.71,484 312.33,482.55 312.94,482.04 313.56,480.36 314.17,480.68 314.79,480.47 315.4,479.08 316.01,480.03 316.63,480.25 317.24,480.95 317.86,480.82 318.47,481.13 319.09,484.21 319.7,481.9 320.31,480.84 320.93,484.13 321.54,481.31 322.16,481.36 322.77,481.99 323.39,482.84 324,483.18 324.64,483.56 325.28,484.47 325.92,485.8 326.56,486.04 327.2,487.09 327.84,485.98 328.48,486.41 329.12,484.8 329.76,484.75 330.4,482.72 330.95,483.35 331.5,482.31 332.05,482.67 332.6,480.5 333.15,481.09 333.7,480.39 334.31,478.76 334.93,480.8 335.54,480.59 336.16,480.27 336.77,480.66 337.39,480.9 338,480.92 338.7,485.7 339.4,492.58 340.1,497.31 340.74,496.73 341.38,493.59 342.02,494.13 342.66,494.01 343.3,494.08 343.87,488.12 344.43,485.84 345,482.45 345.6,479.15 346.2,481.64 346.8,480.69 347.4,480.3 348,481.31 348.6,481.52 349.2,482.97 349.8,484.76 350.6,488.62 351.4,489.06" fill="none" stroke="#3f58b8" stroke-width="0.75" stroke-linejoin="round"/>
</g>
<rect x="278.2" y="371.3" width="70.1" height="28.1" fill="#fff" stroke="#a0a0a0" stroke-width="0.9"/>
<line x1="282.55" y1="376.6" x2="302.74" y2="376.6" stroke="#5a76d0" stroke-width="0.9"/>
<rect x="291.81" y="375.7" width="1.8" height="1.8" fill="#4560c4"/>
<text x="305.26" y="379" font-size="6.9" fill="#000">47–68 keV</text>
<line x1="282.55" y1="385.1" x2="302.74" y2="385.1" stroke="#78c876" stroke-width="0.9"/>
<path d="M292.71,382.7 L294.91,386.6 L290.51,386.6 Z" fill="#fff" stroke="#78c876" stroke-width="0.8"/>
<text x="305.26" y="387.5" font-size="6.9" fill="#000">68–115 keV</text>
<line x1="282.55" y1="393.7" x2="302.74" y2="393.7" stroke="#f06060" stroke-width="0.9"/>
<circle cx="292.71" cy="393.7" r="2.1" fill="#fff" stroke="#f06060" stroke-width="0.8"/>
<text x="305.26" y="396.1" font-size="6.9" fill="#000">115–195 keV</text>
<line x1="44.5" y1="287.4" x2="44.5" y2="288.7" stroke="#5e5e5e" stroke-width="0.8"/>
<line x1="44.5" y1="368" x2="44.5" y2="366.7" stroke="#5e5e5e" stroke-width="0.8"/>
<line x1="44.5" y1="368" x2="44.5" y2="369.3" stroke="#5e5e5e" stroke-width="0.8"/>
<line x1="44.5" y1="449.25" x2="44.5" y2="447.95" stroke="#5e5e5e" stroke-width="0.8"/>
<line x1="44.5" y1="449.25" x2="44.5" y2="450.55" stroke="#5e5e5e" stroke-width="0.8"/>
<line x1="44.5" y1="530" x2="44.5" y2="528.7" stroke="#5e5e5e" stroke-width="0.8"/>
<line x1="52.17" y1="287.4" x2="52.17" y2="288.7" stroke="#5e5e5e" stroke-width="0.8"/>
<line x1="52.17" y1="368" x2="52.17" y2="366.7" stroke="#5e5e5e" stroke-width="0.8"/>
<line x1="52.17" y1="368" x2="52.17" y2="369.3" stroke="#5e5e5e" stroke-width="0.8"/>
<line x1="52.17" y1="449.25" x2="52.17" y2="447.95" stroke="#5e5e5e" stroke-width="0.8"/>
<line x1="52.17" y1="449.25" x2="52.17" y2="450.55" stroke="#5e5e5e" stroke-width="0.8"/>
<line x1="52.17" y1="530" x2="52.17" y2="528.7" stroke="#5e5e5e" stroke-width="0.8"/>
<line x1="59.84" y1="287.4" x2="59.84" y2="288.7" stroke="#5e5e5e" stroke-width="0.8"/>
<line x1="59.84" y1="368" x2="59.84" y2="366.7" stroke="#5e5e5e" stroke-width="0.8"/>
<line x1="59.84" y1="368" x2="59.84" y2="369.3" stroke="#5e5e5e" stroke-width="0.8"/>
<line x1="59.84" y1="449.25" x2="59.84" y2="447.95" stroke="#5e5e5e" stroke-width="0.8"/>
<line x1="59.84" y1="449.25" x2="59.84" y2="450.55" stroke="#5e5e5e" stroke-width="0.8"/>
<line x1="59.84" y1="530" x2="59.84" y2="528.7" stroke="#5e5e5e" stroke-width="0.8"/>
<line x1="67.52" y1="287.4" x2="67.52" y2="288.7" stroke="#5e5e5e" stroke-width="0.8"/>
<line x1="67.52" y1="368" x2="67.52" y2="366.7" stroke="#5e5e5e" stroke-width="0.8"/>
<line x1="67.52" y1="368" x2="67.52" y2="369.3" stroke="#5e5e5e" stroke-width="0.8"/>
<line x1="67.52" y1="449.25" x2="67.52" y2="447.95" stroke="#5e5e5e" stroke-width="0.8"/>
<line x1="67.52" y1="449.25" x2="67.52" y2="450.55" stroke="#5e5e5e" stroke-width="0.8"/>
<line x1="67.52" y1="530" x2="67.52" y2="528.7" stroke="#5e5e5e" stroke-width="0.8"/>
<line x1="75.19" y1="287.4" x2="75.19" y2="288.7" stroke="#5e5e5e" stroke-width="0.8"/>
<line x1="75.19" y1="368" x2="75.19" y2="366.7" stroke="#5e5e5e" stroke-width="0.8"/>
<line x1="75.19" y1="368" x2="75.19" y2="369.3" stroke="#5e5e5e" stroke-width="0.8"/>
<line x1="75.19" y1="449.25" x2="75.19" y2="447.95" stroke="#5e5e5e" stroke-width="0.8"/>
<line x1="75.19" y1="449.25" x2="75.19" y2="450.55" stroke="#5e5e5e" stroke-width="0.8"/>
<line x1="75.19" y1="530" x2="75.19" y2="528.7" stroke="#5e5e5e" stroke-width="0.8"/>
<line x1="82.86" y1="287.4" x2="82.86" y2="288.7" stroke="#5e5e5e" stroke-width="0.8"/>
<line x1="82.86" y1="368" x2="82.86" y2="366.7" stroke="#5e5e5e" stroke-width="0.8"/>
<line x1="82.86" y1="368" x2="82.86" y2="369.3" stroke="#5e5e5e" stroke-width="0.8"/>
<line x1="82.86" y1="449.25" x2="82.86" y2="447.95" stroke="#5e5e5e" stroke-width="0.8"/>
<line x1="82.86" y1="449.25" x2="82.86" y2="450.55" stroke="#5e5e5e" stroke-width="0.8"/>
<line x1="82.86" y1="530" x2="82.86" y2="528.7" stroke="#5e5e5e" stroke-width="0.8"/>
<line x1="90.53" y1="287.4" x2="90.53" y2="288.7" stroke="#5e5e5e" stroke-width="0.8"/>
<line x1="90.53" y1="368" x2="90.53" y2="366.7" stroke="#5e5e5e" stroke-width="0.8"/>
<line x1="90.53" y1="368" x2="90.53" y2="369.3" stroke="#5e5e5e" stroke-width="0.8"/>
<line x1="90.53" y1="449.25" x2="90.53" y2="447.95" stroke="#5e5e5e" stroke-width="0.8"/>
<line x1="90.53" y1="449.25" x2="90.53" y2="450.55" stroke="#5e5e5e" stroke-width="0.8"/>
<line x1="90.53" y1="530" x2="90.53" y2="528.7" stroke="#5e5e5e" stroke-width="0.8"/>
<line x1="98.21" y1="287.4" x2="98.21" y2="288.7" stroke="#5e5e5e" stroke-width="0.8"/>
<line x1="98.21" y1="368" x2="98.21" y2="366.7" stroke="#5e5e5e" stroke-width="0.8"/>
<line x1="98.21" y1="368" x2="98.21" y2="369.3" stroke="#5e5e5e" stroke-width="0.8"/>
<line x1="98.21" y1="449.25" x2="98.21" y2="447.95" stroke="#5e5e5e" stroke-width="0.8"/>
<line x1="98.21" y1="449.25" x2="98.21" y2="450.55" stroke="#5e5e5e" stroke-width="0.8"/>
<line x1="98.21" y1="530" x2="98.21" y2="528.7" stroke="#5e5e5e" stroke-width="0.8"/>
<line x1="105.88" y1="287.4" x2="105.88" y2="290" stroke="#5e5e5e" stroke-width="0.8"/>
<line x1="105.88" y1="368" x2="105.88" y2="365.4" stroke="#5e5e5e" stroke-width="0.8"/>
<line x1="105.88" y1="368" x2="105.88" y2="370.6" stroke="#5e5e5e" stroke-width="0.8"/>
<line x1="105.88" y1="449.25" x2="105.88" y2="446.65" stroke="#5e5e5e" stroke-width="0.8"/>
<line x1="105.88" y1="449.25" x2="105.88" y2="451.85" stroke="#5e5e5e" stroke-width="0.8"/>
<line x1="105.88" y1="530" x2="105.88" y2="527.4" stroke="#5e5e5e" stroke-width="0.8"/>
<line x1="113.55" y1="287.4" x2="113.55" y2="288.7" stroke="#5e5e5e" stroke-width="0.8"/>
<line x1="113.55" y1="368" x2="113.55" y2="366.7" stroke="#5e5e5e" stroke-width="0.8"/>
<line x1="113.55" y1="368" x2="113.55" y2="369.3" stroke="#5e5e5e" stroke-width="0.8"/>
<line x1="113.55" y1="449.25" x2="113.55" y2="447.95" stroke="#5e5e5e" stroke-width="0.8"/>
<line x1="113.55" y1="449.25" x2="113.55" y2="450.55" stroke="#5e5e5e" stroke-width="0.8"/>
<line x1="113.55" y1="530" x2="113.55" y2="528.7" stroke="#5e5e5e" stroke-width="0.8"/>
<line x1="121.22" y1="287.4" x2="121.22" y2="288.7" stroke="#5e5e5e" stroke-width="0.8"/>
<line x1="121.22" y1="368" x2="121.22" y2="366.7" stroke="#5e5e5e" stroke-width="0.8"/>
<line x1="121.22" y1="368" x2="121.22" y2="369.3" stroke="#5e5e5e" stroke-width="0.8"/>
<line x1="121.22" y1="449.25" x2="121.22" y2="447.95" stroke="#5e5e5e" stroke-width="0.8"/>
<line x1="121.22" y1="449.25" x2="121.22" y2="450.55" stroke="#5e5e5e" stroke-width="0.8"/>
<line x1="121.22" y1="530" x2="121.22" y2="528.7" stroke="#5e5e5e" stroke-width="0.8"/>
<line x1="128.9" y1="287.4" x2="128.9" y2="288.7" stroke="#5e5e5e" stroke-width="0.8"/>
<line x1="128.9" y1="368" x2="128.9" y2="366.7" stroke="#5e5e5e" stroke-width="0.8"/>
<line x1="128.9" y1="368" x2="128.9" y2="369.3" stroke="#5e5e5e" stroke-width="0.8"/>
<line x1="128.9" y1="449.25" x2="128.9" y2="447.95" stroke="#5e5e5e" stroke-width="0.8"/>
<line x1="128.9" y1="449.25" x2="128.9" y2="450.55" stroke="#5e5e5e" stroke-width="0.8"/>
<line x1="128.9" y1="530" x2="128.9" y2="528.7" stroke="#5e5e5e" stroke-width="0.8"/>
<line x1="136.57" y1="287.4" x2="136.57" y2="288.7" stroke="#5e5e5e" stroke-width="0.8"/>
<line x1="136.57" y1="368" x2="136.57" y2="366.7" stroke="#5e5e5e" stroke-width="0.8"/>
<line x1="136.57" y1="368" x2="136.57" y2="369.3" stroke="#5e5e5e" stroke-width="0.8"/>
<line x1="136.57" y1="449.25" x2="136.57" y2="447.95" stroke="#5e5e5e" stroke-width="0.8"/>
<line x1="136.57" y1="449.25" x2="136.57" y2="450.55" stroke="#5e5e5e" stroke-width="0.8"/>
<line x1="136.57" y1="530" x2="136.57" y2="528.7" stroke="#5e5e5e" stroke-width="0.8"/>
<line x1="144.24" y1="287.4" x2="144.24" y2="288.7" stroke="#5e5e5e" stroke-width="0.8"/>
<line x1="144.24" y1="368" x2="144.24" y2="366.7" stroke="#5e5e5e" stroke-width="0.8"/>
<line x1="144.24" y1="368" x2="144.24" y2="369.3" stroke="#5e5e5e" stroke-width="0.8"/>
<line x1="144.24" y1="449.25" x2="144.24" y2="447.95" stroke="#5e5e5e" stroke-width="0.8"/>
<line x1="144.24" y1="449.25" x2="144.24" y2="450.55" stroke="#5e5e5e" stroke-width="0.8"/>
<line x1="144.24" y1="530" x2="144.24" y2="528.7" stroke="#5e5e5e" stroke-width="0.8"/>
<line x1="151.91" y1="287.4" x2="151.91" y2="288.7" stroke="#5e5e5e" stroke-width="0.8"/>
<line x1="151.91" y1="368" x2="151.91" y2="366.7" stroke="#5e5e5e" stroke-width="0.8"/>
<line x1="151.91" y1="368" x2="151.91" y2="369.3" stroke="#5e5e5e" stroke-width="0.8"/>
<line x1="151.91" y1="449.25" x2="151.91" y2="447.95" stroke="#5e5e5e" stroke-width="0.8"/>
<line x1="151.91" y1="449.25" x2="151.91" y2="450.55" stroke="#5e5e5e" stroke-width="0.8"/>
<line x1="151.91" y1="530" x2="151.91" y2="528.7" stroke="#5e5e5e" stroke-width="0.8"/>
<line x1="159.59" y1="287.4" x2="159.59" y2="288.7" stroke="#5e5e5e" stroke-width="0.8"/>
<line x1="159.59" y1="368" x2="159.59" y2="366.7" stroke="#5e5e5e" stroke-width="0.8"/>
<line x1="159.59" y1="368" x2="159.59" y2="369.3" stroke="#5e5e5e" stroke-width="0.8"/>
<line x1="159.59" y1="449.25" x2="159.59" y2="447.95" stroke="#5e5e5e" stroke-width="0.8"/>
<line x1="159.59" y1="449.25" x2="159.59" y2="450.55" stroke="#5e5e5e" stroke-width="0.8"/>
<line x1="159.59" y1="530" x2="159.59" y2="528.7" stroke="#5e5e5e" stroke-width="0.8"/>
<line x1="167.26" y1="287.4" x2="167.26" y2="288.7" stroke="#5e5e5e" stroke-width="0.8"/>
<line x1="167.26" y1="368" x2="167.26" y2="366.7" stroke="#5e5e5e" stroke-width="0.8"/>
<line x1="167.26" y1="368" x2="167.26" y2="369.3" stroke="#5e5e5e" stroke-width="0.8"/>
<line x1="167.26" y1="449.25" x2="167.26" y2="447.95" stroke="#5e5e5e" stroke-width="0.8"/>
<line x1="167.26" y1="449.25" x2="167.26" y2="450.55" stroke="#5e5e5e" stroke-width="0.8"/>
<line x1="167.26" y1="530" x2="167.26" y2="528.7" stroke="#5e5e5e" stroke-width="0.8"/>
<line x1="174.93" y1="287.4" x2="174.93" y2="288.7" stroke="#5e5e5e" stroke-width="0.8"/>
<line x1="174.93" y1="368" x2="174.93" y2="366.7" stroke="#5e5e5e" stroke-width="0.8"/>
<line x1="174.93" y1="368" x2="174.93" y2="369.3" stroke="#5e5e5e" stroke-width="0.8"/>
<line x1="174.93" y1="449.25" x2="174.93" y2="447.95" stroke="#5e5e5e" stroke-width="0.8"/>
<line x1="174.93" y1="449.25" x2="174.93" y2="450.55" stroke="#5e5e5e" stroke-width="0.8"/>
<line x1="174.93" y1="530" x2="174.93" y2="528.7" stroke="#5e5e5e" stroke-width="0.8"/>
<line x1="182.6" y1="287.4" x2="182.6" y2="290" stroke="#5e5e5e" stroke-width="0.8"/>
<line x1="182.6" y1="368" x2="182.6" y2="365.4" stroke="#5e5e5e" stroke-width="0.8"/>
<line x1="182.6" y1="368" x2="182.6" y2="370.6" stroke="#5e5e5e" stroke-width="0.8"/>
<line x1="182.6" y1="449.25" x2="182.6" y2="446.65" stroke="#5e5e5e" stroke-width="0.8"/>
<line x1="182.6" y1="449.25" x2="182.6" y2="451.85" stroke="#5e5e5e" stroke-width="0.8"/>
<line x1="182.6" y1="530" x2="182.6" y2="527.4" stroke="#5e5e5e" stroke-width="0.8"/>
<line x1="190.28" y1="287.4" x2="190.28" y2="288.7" stroke="#5e5e5e" stroke-width="0.8"/>
<line x1="190.28" y1="368" x2="190.28" y2="366.7" stroke="#5e5e5e" stroke-width="0.8"/>
<line x1="190.28" y1="368" x2="190.28" y2="369.3" stroke="#5e5e5e" stroke-width="0.8"/>
<line x1="190.28" y1="449.25" x2="190.28" y2="447.95" stroke="#5e5e5e" stroke-width="0.8"/>
<line x1="190.28" y1="449.25" x2="190.28" y2="450.55" stroke="#5e5e5e" stroke-width="0.8"/>
<line x1="190.28" y1="530" x2="190.28" y2="528.7" stroke="#5e5e5e" stroke-width="0.8"/>
<line x1="197.95" y1="287.4" x2="197.95" y2="288.7" stroke="#5e5e5e" stroke-width="0.8"/>
<line x1="197.95" y1="368" x2="197.95" y2="366.7" stroke="#5e5e5e" stroke-width="0.8"/>
<line x1="197.95" y1="368" x2="197.95" y2="369.3" stroke="#5e5e5e" stroke-width="0.8"/>
<line x1="197.95" y1="449.25" x2="197.95" y2="447.95" stroke="#5e5e5e" stroke-width="0.8"/>
<line x1="197.95" y1="449.25" x2="197.95" y2="450.55" stroke="#5e5e5e" stroke-width="0.8"/>
<line x1="197.95" y1="530" x2="197.95" y2="528.7" stroke="#5e5e5e" stroke-width="0.8"/>
<line x1="205.62" y1="287.4" x2="205.62" y2="288.7" stroke="#5e5e5e" stroke-width="0.8"/>
<line x1="205.62" y1="368" x2="205.62" y2="366.7" stroke="#5e5e5e" stroke-width="0.8"/>
<line x1="205.62" y1="368" x2="205.62" y2="369.3" stroke="#5e5e5e" stroke-width="0.8"/>
<line x1="205.62" y1="449.25" x2="205.62" y2="447.95" stroke="#5e5e5e" stroke-width="0.8"/>
<line x1="205.62" y1="449.25" x2="205.62" y2="450.55" stroke="#5e5e5e" stroke-width="0.8"/>
<line x1="205.62" y1="530" x2="205.62" y2="528.7" stroke="#5e5e5e" stroke-width="0.8"/>
<line x1="213.29" y1="287.4" x2="213.29" y2="288.7" stroke="#5e5e5e" stroke-width="0.8"/>
<line x1="213.29" y1="368" x2="213.29" y2="366.7" stroke="#5e5e5e" stroke-width="0.8"/>
<line x1="213.29" y1="368" x2="213.29" y2="369.3" stroke="#5e5e5e" stroke-width="0.8"/>
<line x1="213.29" y1="449.25" x2="213.29" y2="447.95" stroke="#5e5e5e" stroke-width="0.8"/>
<line x1="213.29" y1="449.25" x2="213.29" y2="450.55" stroke="#5e5e5e" stroke-width="0.8"/>
<line x1="213.29" y1="530" x2="213.29" y2="528.7" stroke="#5e5e5e" stroke-width="0.8"/>
<line x1="220.97" y1="287.4" x2="220.97" y2="288.7" stroke="#5e5e5e" stroke-width="0.8"/>
<line x1="220.97" y1="368" x2="220.97" y2="366.7" stroke="#5e5e5e" stroke-width="0.8"/>
<line x1="220.97" y1="368" x2="220.97" y2="369.3" stroke="#5e5e5e" stroke-width="0.8"/>
<line x1="220.97" y1="449.25" x2="220.97" y2="447.95" stroke="#5e5e5e" stroke-width="0.8"/>
<line x1="220.97" y1="449.25" x2="220.97" y2="450.55" stroke="#5e5e5e" stroke-width="0.8"/>
<line x1="220.97" y1="530" x2="220.97" y2="528.7" stroke="#5e5e5e" stroke-width="0.8"/>
<line x1="228.64" y1="287.4" x2="228.64" y2="288.7" stroke="#5e5e5e" stroke-width="0.8"/>
<line x1="228.64" y1="368" x2="228.64" y2="366.7" stroke="#5e5e5e" stroke-width="0.8"/>
<line x1="228.64" y1="368" x2="228.64" y2="369.3" stroke="#5e5e5e" stroke-width="0.8"/>
<line x1="228.64" y1="449.25" x2="228.64" y2="447.95" stroke="#5e5e5e" stroke-width="0.8"/>
<line x1="228.64" y1="449.25" x2="228.64" y2="450.55" stroke="#5e5e5e" stroke-width="0.8"/>
<line x1="228.64" y1="530" x2="228.64" y2="528.7" stroke="#5e5e5e" stroke-width="0.8"/>
<line x1="236.31" y1="287.4" x2="236.31" y2="288.7" stroke="#5e5e5e" stroke-width="0.8"/>
<line x1="236.31" y1="368" x2="236.31" y2="366.7" stroke="#5e5e5e" stroke-width="0.8"/>
<line x1="236.31" y1="368" x2="236.31" y2="369.3" stroke="#5e5e5e" stroke-width="0.8"/>
<line x1="236.31" y1="449.25" x2="236.31" y2="447.95" stroke="#5e5e5e" stroke-width="0.8"/>
<line x1="236.31" y1="449.25" x2="236.31" y2="450.55" stroke="#5e5e5e" stroke-width="0.8"/>
<line x1="236.31" y1="530" x2="236.31" y2="528.7" stroke="#5e5e5e" stroke-width="0.8"/>
<line x1="243.99" y1="287.4" x2="243.99" y2="288.7" stroke="#5e5e5e" stroke-width="0.8"/>
<line x1="243.99" y1="368" x2="243.99" y2="366.7" stroke="#5e5e5e" stroke-width="0.8"/>
<line x1="243.99" y1="368" x2="243.99" y2="369.3" stroke="#5e5e5e" stroke-width="0.8"/>
<line x1="243.99" y1="449.25" x2="243.99" y2="447.95" stroke="#5e5e5e" stroke-width="0.8"/>
<line x1="243.99" y1="449.25" x2="243.99" y2="450.55" stroke="#5e5e5e" stroke-width="0.8"/>
<line x1="243.99" y1="530" x2="243.99" y2="528.7" stroke="#5e5e5e" stroke-width="0.8"/>
<line x1="251.66" y1="287.4" x2="251.66" y2="288.7" stroke="#5e5e5e" stroke-width="0.8"/>
<line x1="251.66" y1="368" x2="251.66" y2="366.7" stroke="#5e5e5e" stroke-width="0.8"/>
<line x1="251.66" y1="368" x2="251.66" y2="369.3" stroke="#5e5e5e" stroke-width="0.8"/>
<line x1="251.66" y1="449.25" x2="251.66" y2="447.95" stroke="#5e5e5e" stroke-width="0.8"/>
<line x1="251.66" y1="449.25" x2="251.66" y2="450.55" stroke="#5e5e5e" stroke-width="0.8"/>
<line x1="251.66" y1="530" x2="251.66" y2="528.7" stroke="#5e5e5e" stroke-width="0.8"/>
<line x1="259.33" y1="287.4" x2="259.33" y2="290" stroke="#5e5e5e" stroke-width="0.8"/>
<line x1="259.33" y1="368" x2="259.33" y2="365.4" stroke="#5e5e5e" stroke-width="0.8"/>
<line x1="259.33" y1="368" x2="259.33" y2="370.6" stroke="#5e5e5e" stroke-width="0.8"/>
<line x1="259.33" y1="449.25" x2="259.33" y2="446.65" stroke="#5e5e5e" stroke-width="0.8"/>
<line x1="259.33" y1="449.25" x2="259.33" y2="451.85" stroke="#5e5e5e" stroke-width="0.8"/>
<line x1="259.33" y1="530" x2="259.33" y2="527.4" stroke="#5e5e5e" stroke-width="0.8"/>
<line x1="267" y1="287.4" x2="267" y2="288.7" stroke="#5e5e5e" stroke-width="0.8"/>
<line x1="267" y1="368" x2="267" y2="366.7" stroke="#5e5e5e" stroke-width="0.8"/>
<line x1="267" y1="368" x2="267" y2="369.3" stroke="#5e5e5e" stroke-width="0.8"/>
<line x1="267" y1="449.25" x2="267" y2="447.95" stroke="#5e5e5e" stroke-width="0.8"/>
<line x1="267" y1="449.25" x2="267" y2="450.55" stroke="#5e5e5e" stroke-width="0.8"/>
<line x1="267" y1="530" x2="267" y2="528.7" stroke="#5e5e5e" stroke-width="0.8"/>
<line x1="274.67" y1="287.4" x2="274.67" y2="288.7" stroke="#5e5e5e" stroke-width="0.8"/>
<line x1="274.67" y1="368" x2="274.67" y2="366.7" stroke="#5e5e5e" stroke-width="0.8"/>
<line x1="274.67" y1="368" x2="274.67" y2="369.3" stroke="#5e5e5e" stroke-width="0.8"/>
<line x1="274.67" y1="449.25" x2="274.67" y2="447.95" stroke="#5e5e5e" stroke-width="0.8"/>
<line x1="274.67" y1="449.25" x2="274.67" y2="450.55" stroke="#5e5e5e" stroke-width="0.8"/>
<line x1="274.67" y1="530" x2="274.67" y2="528.7" stroke="#5e5e5e" stroke-width="0.8"/>
<line x1="282.35" y1="287.4" x2="282.35" y2="288.7" stroke="#5e5e5e" stroke-width="0.8"/>
<line x1="282.35" y1="368" x2="282.35" y2="366.7" stroke="#5e5e5e" stroke-width="0.8"/>
<line x1="282.35" y1="368" x2="282.35" y2="369.3" stroke="#5e5e5e" stroke-width="0.8"/>
<line x1="282.35" y1="449.25" x2="282.35" y2="447.95" stroke="#5e5e5e" stroke-width="0.8"/>
<line x1="282.35" y1="449.25" x2="282.35" y2="450.55" stroke="#5e5e5e" stroke-width="0.8"/>
<line x1="282.35" y1="530" x2="282.35" y2="528.7" stroke="#5e5e5e" stroke-width="0.8"/>
<line x1="290.02" y1="287.4" x2="290.02" y2="288.7" stroke="#5e5e5e" stroke-width="0.8"/>
<line x1="290.02" y1="368" x2="290.02" y2="366.7" stroke="#5e5e5e" stroke-width="0.8"/>
<line x1="290.02" y1="368" x2="290.02" y2="369.3" stroke="#5e5e5e" stroke-width="0.8"/>
<line x1="290.02" y1="449.25" x2="290.02" y2="447.95" stroke="#5e5e5e" stroke-width="0.8"/>
<line x1="290.02" y1="449.25" x2="290.02" y2="450.55" stroke="#5e5e5e" stroke-width="0.8"/>
<line x1="290.02" y1="530" x2="290.02" y2="528.7" stroke="#5e5e5e" stroke-width="0.8"/>
<line x1="297.69" y1="287.4" x2="297.69" y2="288.7" stroke="#5e5e5e" stroke-width="0.8"/>
<line x1="297.69" y1="368" x2="297.69" y2="366.7" stroke="#5e5e5e" stroke-width="0.8"/>
<line x1="297.69" y1="368" x2="297.69" y2="369.3" stroke="#5e5e5e" stroke-width="0.8"/>
<line x1="297.69" y1="449.25" x2="297.69" y2="447.95" stroke="#5e5e5e" stroke-width="0.8"/>
<line x1="297.69" y1="449.25" x2="297.69" y2="450.55" stroke="#5e5e5e" stroke-width="0.8"/>
<line x1="297.69" y1="530" x2="297.69" y2="528.7" stroke="#5e5e5e" stroke-width="0.8"/>
<line x1="305.36" y1="287.4" x2="305.36" y2="288.7" stroke="#5e5e5e" stroke-width="0.8"/>
<line x1="305.36" y1="368" x2="305.36" y2="366.7" stroke="#5e5e5e" stroke-width="0.8"/>
<line x1="305.36" y1="368" x2="305.36" y2="369.3" stroke="#5e5e5e" stroke-width="0.8"/>
<line x1="305.36" y1="449.25" x2="305.36" y2="447.95" stroke="#5e5e5e" stroke-width="0.8"/>
<line x1="305.36" y1="449.25" x2="305.36" y2="450.55" stroke="#5e5e5e" stroke-width="0.8"/>
<line x1="305.36" y1="530" x2="305.36" y2="528.7" stroke="#5e5e5e" stroke-width="0.8"/>
<line x1="313.04" y1="287.4" x2="313.04" y2="288.7" stroke="#5e5e5e" stroke-width="0.8"/>
<line x1="313.04" y1="368" x2="313.04" y2="366.7" stroke="#5e5e5e" stroke-width="0.8"/>
<line x1="313.04" y1="368" x2="313.04" y2="369.3" stroke="#5e5e5e" stroke-width="0.8"/>
<line x1="313.04" y1="449.25" x2="313.04" y2="447.95" stroke="#5e5e5e" stroke-width="0.8"/>
<line x1="313.04" y1="449.25" x2="313.04" y2="450.55" stroke="#5e5e5e" stroke-width="0.8"/>
<line x1="313.04" y1="530" x2="313.04" y2="528.7" stroke="#5e5e5e" stroke-width="0.8"/>
<line x1="320.71" y1="287.4" x2="320.71" y2="288.7" stroke="#5e5e5e" stroke-width="0.8"/>
<line x1="320.71" y1="368" x2="320.71" y2="366.7" stroke="#5e5e5e" stroke-width="0.8"/>
<line x1="320.71" y1="368" x2="320.71" y2="369.3" stroke="#5e5e5e" stroke-width="0.8"/>
<line x1="320.71" y1="449.25" x2="320.71" y2="447.95" stroke="#5e5e5e" stroke-width="0.8"/>
<line x1="320.71" y1="449.25" x2="320.71" y2="450.55" stroke="#5e5e5e" stroke-width="0.8"/>
<line x1="320.71" y1="530" x2="320.71" y2="528.7" stroke="#5e5e5e" stroke-width="0.8"/>
<line x1="328.38" y1="287.4" x2="328.38" y2="288.7" stroke="#5e5e5e" stroke-width="0.8"/>
<line x1="328.38" y1="368" x2="328.38" y2="366.7" stroke="#5e5e5e" stroke-width="0.8"/>
<line x1="328.38" y1="368" x2="328.38" y2="369.3" stroke="#5e5e5e" stroke-width="0.8"/>
<line x1="328.38" y1="449.25" x2="328.38" y2="447.95" stroke="#5e5e5e" stroke-width="0.8"/>
<line x1="328.38" y1="449.25" x2="328.38" y2="450.55" stroke="#5e5e5e" stroke-width="0.8"/>
<line x1="328.38" y1="530" x2="328.38" y2="528.7" stroke="#5e5e5e" stroke-width="0.8"/>
<line x1="336.06" y1="287.4" x2="336.06" y2="290" stroke="#5e5e5e" stroke-width="0.8"/>
<line x1="336.06" y1="368" x2="336.06" y2="365.4" stroke="#5e5e5e" stroke-width="0.8"/>
<line x1="336.06" y1="368" x2="336.06" y2="370.6" stroke="#5e5e5e" stroke-width="0.8"/>
<line x1="336.06" y1="449.25" x2="336.06" y2="446.65" stroke="#5e5e5e" stroke-width="0.8"/>
<line x1="336.06" y1="449.25" x2="336.06" y2="451.85" stroke="#5e5e5e" stroke-width="0.8"/>
<line x1="336.06" y1="530" x2="336.06" y2="527.4" stroke="#5e5e5e" stroke-width="0.8"/>
<line x1="343.73" y1="287.4" x2="343.73" y2="288.7" stroke="#5e5e5e" stroke-width="0.8"/>
<line x1="343.73" y1="368" x2="343.73" y2="366.7" stroke="#5e5e5e" stroke-width="0.8"/>
<line x1="343.73" y1="368" x2="343.73" y2="369.3" stroke="#5e5e5e" stroke-width="0.8"/>
<line x1="343.73" y1="449.25" x2="343.73" y2="447.95" stroke="#5e5e5e" stroke-width="0.8"/>
<line x1="343.73" y1="449.25" x2="343.73" y2="450.55" stroke="#5e5e5e" stroke-width="0.8"/>
<line x1="343.73" y1="530" x2="343.73" y2="528.7" stroke="#5e5e5e" stroke-width="0.8"/>
<line x1="351.4" y1="287.4" x2="351.4" y2="288.7" stroke="#5e5e5e" stroke-width="0.8"/>
<line x1="351.4" y1="368" x2="351.4" y2="366.7" stroke="#5e5e5e" stroke-width="0.8"/>
<line x1="351.4" y1="368" x2="351.4" y2="369.3" stroke="#5e5e5e" stroke-width="0.8"/>
<line x1="351.4" y1="449.25" x2="351.4" y2="447.95" stroke="#5e5e5e" stroke-width="0.8"/>
<line x1="351.4" y1="449.25" x2="351.4" y2="450.55" stroke="#5e5e5e" stroke-width="0.8"/>
<line x1="351.4" y1="530" x2="351.4" y2="528.7" stroke="#5e5e5e" stroke-width="0.8"/>
<line x1="44.5" y1="368" x2="47.1" y2="368" stroke="#5e5e5e" stroke-width="0.8"/>
<line x1="351.4" y1="368" x2="348.8" y2="368" stroke="#5e5e5e" stroke-width="0.8"/>
<line x1="44.5" y1="327.7" x2="47.1" y2="327.7" stroke="#5e5e5e" stroke-width="0.8"/>
<line x1="351.4" y1="327.7" x2="348.8" y2="327.7" stroke="#5e5e5e" stroke-width="0.8"/>
<line x1="44.5" y1="287.4" x2="47.1" y2="287.4" stroke="#5e5e5e" stroke-width="0.8"/>
<line x1="351.4" y1="287.4" x2="348.8" y2="287.4" stroke="#5e5e5e" stroke-width="0.8"/>
<line x1="44.5" y1="530" x2="47.1" y2="530" stroke="#5e5e5e" stroke-width="0.8"/>
<line x1="351.4" y1="530" x2="348.8" y2="530" stroke="#5e5e5e" stroke-width="0.8"/>
<line x1="44.5" y1="501.25" x2="47.1" y2="501.25" stroke="#5e5e5e" stroke-width="0.8"/>
<line x1="351.4" y1="501.25" x2="348.8" y2="501.25" stroke="#5e5e5e" stroke-width="0.8"/>
<line x1="44.5" y1="472.5" x2="47.1" y2="472.5" stroke="#5e5e5e" stroke-width="0.8"/>
<line x1="351.4" y1="472.5" x2="348.8" y2="472.5" stroke="#5e5e5e" stroke-width="0.8"/>
<line x1="44.5" y1="441" x2="45.9" y2="441" stroke="#5e5e5e" stroke-width="0.8"/>
<line x1="351.4" y1="441" x2="350" y2="441" stroke="#5e5e5e" stroke-width="0.8"/>
<line x1="44.5" y1="436.18" x2="45.9" y2="436.18" stroke="#5e5e5e" stroke-width="0.8"/>
<line x1="351.4" y1="436.18" x2="350" y2="436.18" stroke="#5e5e5e" stroke-width="0.8"/>
<line x1="44.5" y1="432.75" x2="45.9" y2="432.75" stroke="#5e5e5e" stroke-width="0.8"/>
<line x1="351.4" y1="432.75" x2="350" y2="432.75" stroke="#5e5e5e" stroke-width="0.8"/>
<line x1="44.5" y1="430.1" x2="45.9" y2="430.1" stroke="#5e5e5e" stroke-width="0.8"/>
<line x1="351.4" y1="430.1" x2="350" y2="430.1" stroke="#5e5e5e" stroke-width="0.8"/>
<line x1="44.5" y1="427.93" x2="45.9" y2="427.93" stroke="#5e5e5e" stroke-width="0.8"/>
<line x1="351.4" y1="427.93" x2="350" y2="427.93" stroke="#5e5e5e" stroke-width="0.8"/>
<line x1="44.5" y1="426.09" x2="45.9" y2="426.09" stroke="#5e5e5e" stroke-width="0.8"/>
<line x1="351.4" y1="426.09" x2="350" y2="426.09" stroke="#5e5e5e" stroke-width="0.8"/>
<line x1="44.5" y1="424.51" x2="45.9" y2="424.51" stroke="#5e5e5e" stroke-width="0.8"/>
<line x1="351.4" y1="424.51" x2="350" y2="424.51" stroke="#5e5e5e" stroke-width="0.8"/>
<line x1="44.5" y1="423.1" x2="45.9" y2="423.1" stroke="#5e5e5e" stroke-width="0.8"/>
<line x1="351.4" y1="423.1" x2="350" y2="423.1" stroke="#5e5e5e" stroke-width="0.8"/>
<line x1="44.5" y1="421.85" x2="47.1" y2="421.85" stroke="#5e5e5e" stroke-width="0.8"/>
<line x1="351.4" y1="421.85" x2="348.8" y2="421.85" stroke="#5e5e5e" stroke-width="0.8"/>
<line x1="44.5" y1="394.45" x2="47.1" y2="394.45" stroke="#5e5e5e" stroke-width="0.8"/>
<line x1="351.4" y1="394.45" x2="348.8" y2="394.45" stroke="#5e5e5e" stroke-width="0.8"/>
<rect x="44.5" y="287.4" width="306.9" height="80.6" fill="none" stroke="#a0a0a0" stroke-width="1"/>
<rect x="44.5" y="368" width="306.9" height="81.25" fill="none" stroke="#a0a0a0" stroke-width="1"/>
<rect x="44.5" y="449.25" width="306.9" height="80.75" fill="none" stroke="#a0a0a0" stroke-width="1"/>
<line x1="74.9" y1="368.2" x2="74.9" y2="287.9" stroke="#ee1111" stroke-width="2.1" stroke-dasharray="4.31 3.97"/>
<line x1="74.9" y1="449.45" x2="74.9" y2="368.5" stroke="#ee1111" stroke-width="2.1" stroke-dasharray="4.31 3.97"/>
<line x1="74.9" y1="530.2" x2="74.9" y2="449.75" stroke="#ee1111" stroke-width="2.1" stroke-dasharray="4.31 3.97"/>
<line x1="197.7" y1="368.2" x2="197.7" y2="287.9" stroke="#ee1111" stroke-width="2.1" stroke-dasharray="4.31 3.97"/>
<line x1="197.7" y1="449.45" x2="197.7" y2="368.5" stroke="#ee1111" stroke-width="2.1" stroke-dasharray="4.31 3.97"/>
<line x1="197.7" y1="530.2" x2="197.7" y2="449.75" stroke="#ee1111" stroke-width="2.1" stroke-dasharray="4.31 3.97"/>
<line x1="208.3" y1="368.2" x2="208.3" y2="287.9" stroke="#ee1111" stroke-width="2.1" stroke-dasharray="4.31 3.97"/>
<line x1="208.3" y1="449.45" x2="208.3" y2="368.5" stroke="#ee1111" stroke-width="2.1" stroke-dasharray="4.31 3.97"/>
<line x1="208.3" y1="530.2" x2="208.3" y2="449.75" stroke="#ee1111" stroke-width="2.1" stroke-dasharray="4.31 3.97"/>
<text x="39.3" y="373.31" font-size="12.4" text-anchor="end" fill="#111111">0</text>
<text x="39.3" y="333.01" font-size="12.4" text-anchor="end" fill="#111111">5</text>
<text x="39.3" y="292.71" font-size="12.4" text-anchor="end" fill="#111111">10</text>
<text x="39.3" y="535.31" font-size="12.4" text-anchor="end" fill="#111111">0</text>
<text x="39.3" y="506.56" font-size="12.4" text-anchor="end" fill="#111111">5</text>
<text x="39.3" y="477.81" font-size="12.4" text-anchor="end" fill="#111111">10</text>
<text x="35" y="454.56" font-size="12.4" text-anchor="end" fill="#111111">10</text>
<text x="35" y="447.65" font-size="8" fill="#111111">2</text>
<text x="35" y="427.16" font-size="12.4" text-anchor="end" fill="#111111">10</text>
<text x="35" y="420.25" font-size="8" fill="#111111">3</text>
<text x="35" y="399.76" font-size="12.4" text-anchor="end" fill="#111111">10</text>
<text x="35" y="392.85" font-size="8" fill="#111111">4</text>
<text x="105.88" y="544.3" font-size="12.4" text-anchor="middle" fill="#111111">222.4</text>
<text x="182.6" y="544.3" font-size="12.4" text-anchor="middle" fill="#111111">222.45</text>
<text x="259.33" y="544.3" font-size="12.4" text-anchor="middle" fill="#111111">222.5</text>
<text x="336.06" y="544.3" font-size="12.4" text-anchor="middle" fill="#111111">222.55</text>
<text x="197.95" y="561.6" font-size="12.4" text-anchor="middle" fill="#111111">DOY 2008</text>
<text transform="translate(9.6,327.7) rotate(-90)" font-size="12.4" text-anchor="middle" fill="#111111">PVI</text>
<text transform="translate(9.6,408.62) rotate(-90)" font-size="12.4" text-anchor="middle" fill="#111111">LEMS120</text>
<text transform="translate(9.6,489.62) rotate(-90)" font-size="12.4" text-anchor="middle" fill="#111111">B (nT)</text>
<defs>
<clipPath id="br0"><rect x="424.5" y="286.3" width="308.8" height="81"/></clipPath>
<clipPath id="br1"><rect x="424.5" y="367.3" width="308.8" height="81.2"/></clipPath>
<clipPath id="br2"><rect x="424.5" y="448.5" width="308.8" height="81.3"/></clipPath>
</defs>
<g clip-path="url(#br0)">
<polyline points="424.6,365.8 428.4,366.5 433.2,364.8 438.6,355.5 443.9,356.2 449.3,363.7 454.7,361.5 460,361.1 465.4,364.8 470.4,355.1 475.7,359 481.5,345.4 486.9,347.6 491.9,359.4 497.2,362.8 502.6,364.3 508,365.2 513.4,360.5 518.7,360.5 524.1,363.3 529.5,356.6 534.9,363 540.2,364.8 545.6,366.5 551,359.8 556.4,361.5 561.7,363.7 567.1,363.7 572.5,355.1 578,291.2 583.3,356 588.5,327.3 594,359.9 599.4,363.2 604.8,359.7 610.3,362.1 615.7,365.2 620.7,359.9 626.2,361.9 631.6,363.8 637,364.3 642,359.7 647.5,363.4 652.9,361.9 658.4,365.2 663.8,363.8 669,353 674.5,349.9 679.9,352.7 685.4,361.2 690.8,355.4 695.8,366.2 701.3,361.5 706.7,361.5 712.1,365.4 717.6,358.8 723,363.2 728,347.3 733.3,354.9" fill="none" stroke="#5a76d0" stroke-width="0.75"/>
<rect x="423.85" y="365.05" width="1.5" height="1.5" fill="#4560c4"/>
<rect x="427.65" y="365.75" width="1.5" height="1.5" fill="#4560c4"/>
<rect x="432.45" y="364.05" width="1.5" height="1.5" fill="#4560c4"/>
<rect x="437.85" y="354.75" width="1.5" height="1.5" fill="#4560c4"/>
<rect x="443.15" y="355.45" width="1.5" height="1.5" fill="#4560c4"/>
<rect x="448.55" y="362.95" width="1.5" height="1.5" fill="#4560c4"/>
<rect x="453.95" y="360.75" width="1.5" height="1.5" fill="#4560c4"/>
<rect x="459.25" y="360.35" width="1.5" height="1.5" fill="#4560c4"/>
<rect x="464.65" y="364.05" width="1.5" height="1.5" fill="#4560c4"/>
<rect x="469.65" y="354.35" width="1.5" height="1.5" fill="#4560c4"/>
<rect x="474.95" y="358.25" width="1.5" height="1.5" fill="#4560c4"/>
<rect x="480.75" y="344.65" width="1.5" height="1.5" fill="#4560c4"/>
<rect x="486.15" y="346.85" width="1.5" height="1.5" fill="#4560c4"/>
<rect x="491.15" y="358.65" width="1.5" height="1.5" fill="#4560c4"/>
<rect x="496.45" y="362.05" width="1.5" height="1.5" fill="#4560c4"/>
<rect x="501.85" y="363.55" width="1.5" height="1.5" fill="#4560c4"/>
<rect x="507.25" y="364.45" width="1.5" height="1.5" fill="#4560c4"/>
<rect x="512.65" y="359.75" width="1.5" height="1.5" fill="#4560c4"/>
<rect x="517.95" y="359.75" width="1.5" height="1.5" fill="#4560c4"/>
<rect x="523.35" y="362.55" width="1.5" height="1.5" fill="#4560c4"/>
<rect x="528.75" y="355.85" width="1.5" height="1.5" fill="#4560c4"/>
<rect x="534.15" y="362.25" width="1.5" height="1.5" fill="#4560c4"/>
<rect x="539.45" y="364.05" width="1.5" height="1.5" fill="#4560c4"/>
<rect x="544.85" y="365.75" width="1.5" height="1.5" fill="#4560c4"/>
<rect x="550.25" y="359.05" width="1.5" height="1.5" fill="#4560c4"/>
<rect x="555.65" y="360.75" width="1.5" height="1.5" fill="#4560c4"/>
<rect x="560.95" y="362.95" width="1.5" height="1.5" fill="#4560c4"/>
<rect x="566.35" y="362.95" width="1.5" height="1.5" fill="#4560c4"/>
<rect x="571.75" y="354.35" width="1.5" height="1.5" fill="#4560c4"/>
<rect x="577.25" y="290.45" width="1.5" height="1.5" fill="#4560c4"/>
<rect x="582.55" y="355.25" width="1.5" height="1.5" fill="#4560c4"/>
<rect x="587.75" y="326.55" width="1.5" height="1.5" fill="#4560c4"/>
<rect x="593.25" y="359.15" width="1.5" height="1.5" fill="#4560c4"/>
<rect x="598.65" y="362.45" width="1.5" height="1.5" fill="#4560c4"/>
<rect x="604.05" y="358.95" width="1.5" height="1.5" fill="#4560c4"/>
<rect x="609.55" y="361.35" width="1.5" height="1.5" fill="#4560c4"/>
<rect x="614.95" y="364.45" width="1.5" height="1.5" fill="#4560c4"/>
<rect x="619.95" y="359.15" width="1.5" height="1.5" fill="#4560c4"/>
<rect x="625.45" y="361.15" width="1.5" height="1.5" fill="#4560c4"/>
<rect x="630.85" y="363.05" width="1.5" height="1.5" fill="#4560c4"/>
<rect x="636.25" y="363.55" width="1.5" height="1.5" fill="#4560c4"/>
<rect x="641.25" y="358.95" width="1.5" height="1.5" fill="#4560c4"/>
<rect x="646.75" y="362.65" width="1.5" height="1.5" fill="#4560c4"/>
<rect x="652.15" y="361.15" width="1.5" height="1.5" fill="#4560c4"/>
<rect x="657.65" y="364.45" width="1.5" height="1.5" fill="#4560c4"/>
<rect x="663.05" y="363.05" width="1.5" height="1.5" fill="#4560c4"/>
<rect x="668.25" y="352.25" width="1.5" height="1.5" fill="#4560c4"/>
<rect x="673.75" y="349.15" width="1.5" height="1.5" fill="#4560c4"/>
<rect x="679.15" y="351.95" width="1.5" height="1.5" fill="#4560c4"/>
<rect x="684.65" y="360.45" width="1.5" height="1.5" fill="#4560c4"/>
<rect x="690.05" y="354.65" width="1.5" height="1.5" fill="#4560c4"/>
<rect x="695.05" y="365.45" width="1.5" height="1.5" fill="#4560c4"/>
<rect x="700.55" y="360.75" width="1.5" height="1.5" fill="#4560c4"/>
<rect x="705.95" y="360.75" width="1.5" height="1.5" fill="#4560c4"/>
<rect x="711.35" y="364.65" width="1.5" height="1.5" fill="#4560c4"/>
<rect x="716.85" y="358.05" width="1.5" height="1.5" fill="#4560c4"/>
<rect x="722.25" y="362.45" width="1.5" height="1.5" fill="#4560c4"/>
<rect x="727.25" y="346.55" width="1.5" height="1.5" fill="#4560c4"/>
<rect x="732.55" y="354.15" width="1.5" height="1.5" fill="#4560c4"/>
</g>
<g clip-path="url(#br1)">
<polyline points="424.6,433.9 428.4,433.2 433.2,432.8 438.6,430.2 443.9,430.6 449.3,431.1 454.7,430 460,430 465.4,432.4 470.4,429.1 475.7,429.1 481.5,429.1 486.9,428.9 491.9,427.4 497.2,429.8 502.6,429.8 508,430 513.4,429.6 518.7,429.6 524.1,430.6 529.5,430.2 534.9,429.1 540.2,427.4 545.6,428.1 551,426.8 556.4,426.3 561.7,425.9 567.1,425.3 572.5,427.4 578,425.2 583.3,409.3 588.5,428.9 594,434.3 599.4,434.7 604.8,434.1 610.3,433.7 615.7,433.7 620.7,434.7 626.2,432.6 631.6,435.8 637,438 642,439.1 647.5,437.6 652.9,437.6 658.4,437.6 663.8,439.1 669,435.4 674.5,435.8 679.9,436.9 685.4,439.1 690.8,440.6 695.8,436.9 701.3,437.6 706.7,438 712.1,439.1 717.6,439.1 723,439.1 728,440.2 733.3,439.1" fill="none" stroke="#f06060" stroke-width="0.9"/>
<circle cx="424.6" cy="433.9" r="2.3" fill="none" stroke="#f06060" stroke-width="0.8"/>
<circle cx="428.4" cy="433.2" r="2.3" fill="none" stroke="#f06060" stroke-width="0.8"/>
<circle cx="433.2" cy="432.8" r="2.3" fill="none" stroke="#f06060" stroke-width="0.8"/>
<circle cx="438.6" cy="430.2" r="2.3" fill="none" stroke="#f06060" stroke-width="0.8"/>
<circle cx="443.9" cy="430.6" r="2.3" fill="none" stroke="#f06060" stroke-width="0.8"/>
<circle cx="449.3" cy="431.1" r="2.3" fill="none" stroke="#f06060" stroke-width="0.8"/>
<circle cx="454.7" cy="430" r="2.3" fill="none" stroke="#f06060" stroke-width="0.8"/>
<circle cx="460" cy="430" r="2.3" fill="none" stroke="#f06060" stroke-width="0.8"/>
<circle cx="465.4" cy="432.4" r="2.3" fill="none" stroke="#f06060" stroke-width="0.8"/>
<circle cx="470.4" cy="429.1" r="2.3" fill="none" stroke="#f06060" stroke-width="0.8"/>
<circle cx="475.7" cy="429.1" r="2.3" fill="none" stroke="#f06060" stroke-width="0.8"/>
<circle cx="481.5" cy="429.1" r="2.3" fill="none" stroke="#f06060" stroke-width="0.8"/>
<circle cx="486.9" cy="428.9" r="2.3" fill="none" stroke="#f06060" stroke-width="0.8"/>
<circle cx="491.9" cy="427.4" r="2.3" fill="none" stroke="#f06060" stroke-width="0.8"/>
<circle cx="497.2" cy="429.8" r="2.3" fill="none" stroke="#f06060" stroke-width="0.8"/>
<circle cx="502.6" cy="429.8" r="2.3" fill="none" stroke="#f06060" stroke-width="0.8"/>
<circle cx="508" cy="430" r="2.3" fill="none" stroke="#f06060" stroke-width="0.8"/>
<circle cx="513.4" cy="429.6" r="2.3" fill="none" stroke="#f06060" stroke-width="0.8"/>
<circle cx="518.7" cy="429.6" r="2.3" fill="none" stroke="#f06060" stroke-width="0.8"/>
<circle cx="524.1" cy="430.6" r="2.3" fill="none" stroke="#f06060" stroke-width="0.8"/>
<circle cx="529.5" cy="430.2" r="2.3" fill="none" stroke="#f06060" stroke-width="0.8"/>
<circle cx="534.9" cy="429.1" r="2.3" fill="none" stroke="#f06060" stroke-width="0.8"/>
<circle cx="540.2" cy="427.4" r="2.3" fill="none" stroke="#f06060" stroke-width="0.8"/>
<circle cx="545.6" cy="428.1" r="2.3" fill="none" stroke="#f06060" stroke-width="0.8"/>
<circle cx="551" cy="426.8" r="2.3" fill="none" stroke="#f06060" stroke-width="0.8"/>
<circle cx="556.4" cy="426.3" r="2.3" fill="none" stroke="#f06060" stroke-width="0.8"/>
<circle cx="561.7" cy="425.9" r="2.3" fill="none" stroke="#f06060" stroke-width="0.8"/>
<circle cx="567.1" cy="425.3" r="2.3" fill="none" stroke="#f06060" stroke-width="0.8"/>
<circle cx="572.5" cy="427.4" r="2.3" fill="none" stroke="#f06060" stroke-width="0.8"/>
<circle cx="578" cy="425.2" r="2.3" fill="none" stroke="#f06060" stroke-width="0.8"/>
<circle cx="583.3" cy="409.3" r="2.3" fill="none" stroke="#f06060" stroke-width="0.8"/>
<circle cx="588.5" cy="428.9" r="2.3" fill="none" stroke="#f06060" stroke-width="0.8"/>
<circle cx="594" cy="434.3" r="2.3" fill="none" stroke="#f06060" stroke-width="0.8"/>
<circle cx="599.4" cy="434.7" r="2.3" fill="none" stroke="#f06060" stroke-width="0.8"/>
<circle cx="604.8" cy="434.1" r="2.3" fill="none" stroke="#f06060" stroke-width="0.8"/>
<circle cx="610.3" cy="433.7" r="2.3" fill="none" stroke="#f06060" stroke-width="0.8"/>
<circle cx="615.7" cy="433.7" r="2.3" fill="none" stroke="#f06060" stroke-width="0.8"/>
<circle cx="620.7" cy="434.7" r="2.3" fill="none" stroke="#f06060" stroke-width="0.8"/>
<circle cx="626.2" cy="432.6" r="2.3" fill="none" stroke="#f06060" stroke-width="0.8"/>
<circle cx="631.6" cy="435.8" r="2.3" fill="none" stroke="#f06060" stroke-width="0.8"/>
<circle cx="637" cy="438" r="2.3" fill="none" stroke="#f06060" stroke-width="0.8"/>
<circle cx="642" cy="439.1" r="2.3" fill="none" stroke="#f06060" stroke-width="0.8"/>
<circle cx="647.5" cy="437.6" r="2.3" fill="none" stroke="#f06060" stroke-width="0.8"/>
<circle cx="652.9" cy="437.6" r="2.3" fill="none" stroke="#f06060" stroke-width="0.8"/>
<circle cx="658.4" cy="437.6" r="2.3" fill="none" stroke="#f06060" stroke-width="0.8"/>
<circle cx="663.8" cy="439.1" r="2.3" fill="none" stroke="#f06060" stroke-width="0.8"/>
<circle cx="669" cy="435.4" r="2.3" fill="none" stroke="#f06060" stroke-width="0.8"/>
<circle cx="674.5" cy="435.8" r="2.3" fill="none" stroke="#f06060" stroke-width="0.8"/>
<circle cx="679.9" cy="436.9" r="2.3" fill="none" stroke="#f06060" stroke-width="0.8"/>
<circle cx="685.4" cy="439.1" r="2.3" fill="none" stroke="#f06060" stroke-width="0.8"/>
<circle cx="690.8" cy="440.6" r="2.3" fill="none" stroke="#f06060" stroke-width="0.8"/>
<circle cx="695.8" cy="436.9" r="2.3" fill="none" stroke="#f06060" stroke-width="0.8"/>
<circle cx="701.3" cy="437.6" r="2.3" fill="none" stroke="#f06060" stroke-width="0.8"/>
<circle cx="706.7" cy="438" r="2.3" fill="none" stroke="#f06060" stroke-width="0.8"/>
<circle cx="712.1" cy="439.1" r="2.3" fill="none" stroke="#f06060" stroke-width="0.8"/>
<circle cx="717.6" cy="439.1" r="2.3" fill="none" stroke="#f06060" stroke-width="0.8"/>
<circle cx="723" cy="439.1" r="2.3" fill="none" stroke="#f06060" stroke-width="0.8"/>
<circle cx="728" cy="440.2" r="2.3" fill="none" stroke="#f06060" stroke-width="0.8"/>
<circle cx="733.3" cy="439.1" r="2.3" fill="none" stroke="#f06060" stroke-width="0.8"/>
<polyline points="424.6,423.1 428.4,422 433.2,421 438.6,420.3 443.9,419.9 449.3,419 454.7,419.9 460,420.3 465.4,421.6 470.4,418.4 475.7,416.7 481.5,417.7 486.9,418.2 491.9,416 497.2,420.3 502.6,419.5 508,419.5 513.4,419.5 518.7,419.9 524.1,421 529.5,419.5 534.9,419 540.2,417.7 545.6,417.1 551,417.1 556.4,415.2 561.7,415 567.1,414.5 572.5,416.7 578,409.5 583.3,397.7 588.5,419.5 594,425 599.4,423.2 604.8,423.2 610.3,423.2 615.7,423.9 620.7,423.9 626.2,423.2 631.6,425.4 637,427.8 642,427.6 647.5,428.2 652.9,427.1 658.4,427.8 663.8,427.8 669,427.1 674.5,427.1 679.9,426.7 685.4,428.6 690.8,428.2 695.8,428.6 701.3,428.6 706.7,430.8 712.1,428.2 717.6,430 723,430.8 728,431.5 733.3,431" fill="none" stroke="#78c876" stroke-width="0.9"/>
<path d="M424.6,420.5 L426.95,424.7 L422.25,424.7 Z" fill="none" stroke="#78c876" stroke-width="0.8"/>
<path d="M428.4,419.4 L430.75,423.6 L426.05,423.6 Z" fill="none" stroke="#78c876" stroke-width="0.8"/>
<path d="M433.2,418.4 L435.55,422.6 L430.85,422.6 Z" fill="none" stroke="#78c876" stroke-width="0.8"/>
<path d="M438.6,417.7 L440.95,421.9 L436.25,421.9 Z" fill="none" stroke="#78c876" stroke-width="0.8"/>
<path d="M443.9,417.3 L446.25,421.5 L441.55,421.5 Z" fill="none" stroke="#78c876" stroke-width="0.8"/>
<path d="M449.3,416.4 L451.65,420.6 L446.95,420.6 Z" fill="none" stroke="#78c876" stroke-width="0.8"/>
<path d="M454.7,417.3 L457.05,421.5 L452.35,421.5 Z" fill="none" stroke="#78c876" stroke-width="0.8"/>
<path d="M460,417.7 L462.35,421.9 L457.65,421.9 Z" fill="none" stroke="#78c876" stroke-width="0.8"/>
<path d="M465.4,419 L467.75,423.2 L463.05,423.2 Z" fill="none" stroke="#78c876" stroke-width="0.8"/>
<path d="M470.4,415.8 L472.75,420 L468.05,420 Z" fill="none" stroke="#78c876" stroke-width="0.8"/>
<path d="M475.7,414.1 L478.05,418.3 L473.35,418.3 Z" fill="none" stroke="#78c876" stroke-width="0.8"/>
<path d="M481.5,415.1 L483.85,419.3 L479.15,419.3 Z" fill="none" stroke="#78c876" stroke-width="0.8"/>
<path d="M486.9,415.6 L489.25,419.8 L484.55,419.8 Z" fill="none" stroke="#78c876" stroke-width="0.8"/>
<path d="M491.9,413.4 L494.25,417.6 L489.55,417.6 Z" fill="none" stroke="#78c876" stroke-width="0.8"/>
<path d="M497.2,417.7 L499.55,421.9 L494.85,421.9 Z" fill="none" stroke="#78c876" stroke-width="0.8"/>
<path d="M502.6,416.9 L504.95,421.1 L500.25,421.1 Z" fill="none" stroke="#78c876" stroke-width="0.8"/>
<path d="M508,416.9 L510.35,421.1 L505.65,421.1 Z" fill="none" stroke="#78c876" stroke-width="0.8"/>
<path d="M513.4,416.9 L515.75,421.1 L511.05,421.1 Z" fill="none" stroke="#78c876" stroke-width="0.8"/>
<path d="M518.7,417.3 L521.05,421.5 L516.35,421.5 Z" fill="none" stroke="#78c876" stroke-width="0.8"/>
<path d="M524.1,418.4 L526.45,422.6 L521.75,422.6 Z" fill="none" stroke="#78c876" stroke-width="0.8"/>
<path d="M529.5,416.9 L531.85,421.1 L527.15,421.1 Z" fill="none" stroke="#78c876" stroke-width="0.8"/>
<path d="M534.9,416.4 L537.25,420.6 L532.55,420.6 Z" fill="none" stroke="#78c876" stroke-width="0.8"/>
<path d="M540.2,415.1 L542.55,419.3 L537.85,419.3 Z" fill="none" stroke="#78c876" stroke-width="0.8"/>
<path d="M545.6,414.5 L547.95,418.7 L543.25,418.7 Z" fill="none" stroke="#78c876" stroke-width="0.8"/>
<path d="M551,414.5 L553.35,418.7 L548.65,418.7 Z" fill="none" stroke="#78c876" stroke-width="0.8"/>
<path d="M556.4,412.6 L558.75,416.8 L554.05,416.8 Z" fill="none" stroke="#78c876" stroke-width="0.8"/>
<path d="M561.7,412.4 L564.05,416.6 L559.35,416.6 Z" fill="none" stroke="#78c876" stroke-width="0.8"/>
<path d="M567.1,411.9 L569.45,416.1 L564.75,416.1 Z" fill="none" stroke="#78c876" stroke-width="0.8"/>
<path d="M572.5,414.1 L574.85,418.3 L570.15,418.3 Z" fill="none" stroke="#78c876" stroke-width="0.8"/>
<path d="M578,406.9 L580.35,411.1 L575.65,411.1 Z" fill="none" stroke="#78c876" stroke-width="0.8"/>
<path d="M583.3,395.1 L585.65,399.3 L580.95,399.3 Z" fill="none" stroke="#78c876" stroke-width="0.8"/>
<path d="M588.5,416.9 L590.85,421.1 L586.15,421.1 Z" fill="none" stroke="#78c876" stroke-width="0.8"/>
<path d="M594,422.4 L596.35,426.6 L591.65,426.6 Z" fill="none" stroke="#78c876" stroke-width="0.8"/>
<path d="M599.4,420.6 L601.75,424.8 L597.05,424.8 Z" fill="none" stroke="#78c876" stroke-width="0.8"/>
<path d="M604.8,420.6 L607.15,424.8 L602.45,424.8 Z" fill="none" stroke="#78c876" stroke-width="0.8"/>
<path d="M610.3,420.6 L612.65,424.8 L607.95,424.8 Z" fill="none" stroke="#78c876" stroke-width="0.8"/>
<path d="M615.7,421.3 L618.05,425.5 L613.35,425.5 Z" fill="none" stroke="#78c876" stroke-width="0.8"/>
<path d="M620.7,421.3 L623.05,425.5 L618.35,425.5 Z" fill="none" stroke="#78c876" stroke-width="0.8"/>
<path d="M626.2,420.6 L628.55,424.8 L623.85,424.8 Z" fill="none" stroke="#78c876" stroke-width="0.8"/>
<path d="M631.6,422.8 L633.95,427 L629.25,427 Z" fill="none" stroke="#78c876" stroke-width="0.8"/>
<path d="M637,425.2 L639.35,429.4 L634.65,429.4 Z" fill="none" stroke="#78c876" stroke-width="0.8"/>
<path d="M642,425 L644.35,429.2 L639.65,429.2 Z" fill="none" stroke="#78c876" stroke-width="0.8"/>
<path d="M647.5,425.6 L649.85,429.8 L645.15,429.8 Z" fill="none" stroke="#78c876" stroke-width="0.8"/>
<path d="M652.9,424.5 L655.25,428.7 L650.55,428.7 Z" fill="none" stroke="#78c876" stroke-width="0.8"/>
<path d="M658.4,425.2 L660.75,429.4 L656.05,429.4 Z" fill="none" stroke="#78c876" stroke-width="0.8"/>
<path d="M663.8,425.2 L666.15,429.4 L661.45,429.4 Z" fill="none" stroke="#78c876" stroke-width="0.8"/>
<path d="M669,424.5 L671.35,428.7 L666.65,428.7 Z" fill="none" stroke="#78c876" stroke-width="0.8"/>
<path d="M674.5,424.5 L676.85,428.7 L672.15,428.7 Z" fill="none" stroke="#78c876" stroke-width="0.8"/>
<path d="M679.9,424.1 L682.25,428.3 L677.55,428.3 Z" fill="none" stroke="#78c876" stroke-width="0.8"/>
<path d="M685.4,426 L687.75,430.2 L683.05,430.2 Z" fill="none" stroke="#78c876" stroke-width="0.8"/>
<path d="M690.8,425.6 L693.15,429.8 L688.45,429.8 Z" fill="none" stroke="#78c876" stroke-width="0.8"/>
<path d="M695.8,426 L698.15,430.2 L693.45,430.2 Z" fill="none" stroke="#78c876" stroke-width="0.8"/>
<path d="M701.3,426 L703.65,430.2 L698.95,430.2 Z" fill="none" stroke="#78c876" stroke-width="0.8"/>
<path d="M706.7,428.2 L709.05,432.4 L704.35,432.4 Z" fill="none" stroke="#78c876" stroke-width="0.8"/>
<path d="M712.1,425.6 L714.45,429.8 L709.75,429.8 Z" fill="none" stroke="#78c876" stroke-width="0.8"/>
<path d="M717.6,427.4 L719.95,431.6 L715.25,431.6 Z" fill="none" stroke="#78c876" stroke-width="0.8"/>
<path d="M723,428.2 L725.35,432.4 L720.65,432.4 Z" fill="none" stroke="#78c876" stroke-width="0.8"/>
<path d="M728,428.9 L730.35,433.1 L725.65,433.1 Z" fill="none" stroke="#78c876" stroke-width="0.8"/>
<path d="M733.3,428.4 L735.65,432.6 L730.95,432.6 Z" fill="none" stroke="#78c876" stroke-width="0.8"/>
<polyline points="424.6,396.2 428.4,396.2 433.2,396.2 438.6,396.2 443.9,395.4 449.3,395.8 454.7,395 460,395.4 465.4,395.8 470.4,395.4 475.7,395.2 481.5,394.5 486.9,394.5 491.9,395.2 497.2,395.6 502.6,395.8 508,395.8 513.4,395.6 518.7,395.2 524.1,396.2 529.5,395.8 534.9,395.4 540.2,394.7 545.6,394.3 551,394.1 556.4,393.4 561.7,392.4 567.1,394.1 572.5,394.5 578,387.2 583.3,382.5 588.5,394.5 594,396.7 599.4,396.7 604.8,397.1 610.3,396.2 615.7,396.2 620.7,397.7 626.2,396.7 631.6,397.1 637,398.2 642,398.2 647.5,397.3 652.9,397.7 658.4,398.2 663.8,398.3 669,398.4 674.5,398.5 679.9,398.5 685.4,398.6 690.8,398.6 695.8,398.7 701.3,398.7 706.7,398.8 712.1,398.8 717.6,398.6 723,398.5 728,398.4 733.3,398.4" fill="none" stroke="#5a76d0" stroke-width="0.75"/>
<rect x="423.85" y="395.45" width="1.5" height="1.5" fill="#4560c4"/>
<rect x="427.65" y="395.45" width="1.5" height="1.5" fill="#4560c4"/>
<rect x="432.45" y="395.45" width="1.5" height="1.5" fill="#4560c4"/>
<rect x="437.85" y="395.45" width="1.5" height="1.5" fill="#4560c4"/>
<rect x="443.15" y="394.65" width="1.5" height="1.5" fill="#4560c4"/>
<rect x="448.55" y="395.05" width="1.5" height="1.5" fill="#4560c4"/>
<rect x="453.95" y="394.25" width="1.5" height="1.5" fill="#4560c4"/>
<rect x="459.25" y="394.65" width="1.5" height="1.5" fill="#4560c4"/>
<rect x="464.65" y="395.05" width="1.5" height="1.5" fill="#4560c4"/>
<rect x="469.65" y="394.65" width="1.5" height="1.5" fill="#4560c4"/>
<rect x="474.95" y="394.45" width="1.5" height="1.5" fill="#4560c4"/>
<rect x="480.75" y="393.75" width="1.5" height="1.5" fill="#4560c4"/>
<rect x="486.15" y="393.75" width="1.5" height="1.5" fill="#4560c4"/>
<rect x="491.15" y="394.45" width="1.5" height="1.5" fill="#4560c4"/>
<rect x="496.45" y="394.85" width="1.5" height="1.5" fill="#4560c4"/>
<rect x="501.85" y="395.05" width="1.5" height="1.5" fill="#4560c4"/>
<rect x="507.25" y="395.05" width="1.5" height="1.5" fill="#4560c4"/>
<rect x="512.65" y="394.85" width="1.5" height="1.5" fill="#4560c4"/>
<rect x="517.95" y="394.45" width="1.5" height="1.5" fill="#4560c4"/>
<rect x="523.35" y="395.45" width="1.5" height="1.5" fill="#4560c4"/>
<rect x="528.75" y="395.05" width="1.5" height="1.5" fill="#4560c4"/>
<rect x="534.15" y="394.65" width="1.5" height="1.5" fill="#4560c4"/>
<rect x="539.45" y="393.95" width="1.5" height="1.5" fill="#4560c4"/>
<rect x="544.85" y="393.55" width="1.5" height="1.5" fill="#4560c4"/>
<rect x="550.25" y="393.35" width="1.5" height="1.5" fill="#4560c4"/>
<rect x="555.65" y="392.65" width="1.5" height="1.5" fill="#4560c4"/>
<rect x="560.95" y="391.65" width="1.5" height="1.5" fill="#4560c4"/>
<rect x="566.35" y="393.35" width="1.5" height="1.5" fill="#4560c4"/>
<rect x="571.75" y="393.75" width="1.5" height="1.5" fill="#4560c4"/>
<rect x="577.25" y="386.45" width="1.5" height="1.5" fill="#4560c4"/>
<rect x="582.55" y="381.75" width="1.5" height="1.5" fill="#4560c4"/>
<rect x="587.75" y="393.75" width="1.5" height="1.5" fill="#4560c4"/>
<rect x="593.25" y="395.95" width="1.5" height="1.5" fill="#4560c4"/>
<rect x="598.65" y="395.95" width="1.5" height="1.5" fill="#4560c4"/>
<rect x="604.05" y="396.35" width="1.5" height="1.5" fill="#4560c4"/>
<rect x="609.55" y="395.45" width="1.5" height="1.5" fill="#4560c4"/>
<rect x="614.95" y="395.45" width="1.5" height="1.5" fill="#4560c4"/>
<rect x="619.95" y="396.95" width="1.5" height="1.5" fill="#4560c4"/>
<rect x="625.45" y="395.95" width="1.5" height="1.5" fill="#4560c4"/>
<rect x="630.85" y="396.35" width="1.5" height="1.5" fill="#4560c4"/>
<rect x="636.25" y="397.45" width="1.5" height="1.5" fill="#4560c4"/>
<rect x="641.25" y="397.45" width="1.5" height="1.5" fill="#4560c4"/>
<rect x="646.75" y="396.55" width="1.5" height="1.5" fill="#4560c4"/>
<rect x="652.15" y="396.95" width="1.5" height="1.5" fill="#4560c4"/>
<rect x="657.65" y="397.45" width="1.5" height="1.5" fill="#4560c4"/>
<rect x="663.05" y="397.55" width="1.5" height="1.5" fill="#4560c4"/>
<rect x="668.25" y="397.65" width="1.5" height="1.5" fill="#4560c4"/>
<rect x="673.75" y="397.75" width="1.5" height="1.5" fill="#4560c4"/>
<rect x="679.15" y="397.75" width="1.5" height="1.5" fill="#4560c4"/>
<rect x="684.65" y="397.85" width="1.5" height="1.5" fill="#4560c4"/>
<rect x="690.05" y="397.85" width="1.5" height="1.5" fill="#4560c4"/>
<rect x="695.05" y="397.95" width="1.5" height="1.5" fill="#4560c4"/>
<rect x="700.55" y="397.95" width="1.5" height="1.5" fill="#4560c4"/>
<rect x="705.95" y="398.05" width="1.5" height="1.5" fill="#4560c4"/>
<rect x="711.35" y="398.05" width="1.5" height="1.5" fill="#4560c4"/>
<rect x="716.85" y="397.85" width="1.5" height="1.5" fill="#4560c4"/>
<rect x="722.25" y="397.75" width="1.5" height="1.5" fill="#4560c4"/>
<rect x="727.25" y="397.65" width="1.5" height="1.5" fill="#4560c4"/>
<rect x="732.55" y="397.65" width="1.5" height="1.5" fill="#4560c4"/>
</g>
<g clip-path="url(#br2)">
<polyline points="424.6,468.77 425.17,467.62 425.73,467.35 426.3,466.53 426.91,466.36 427.53,467 428.14,466.75 428.76,466.67 429.37,466.72 429.99,467.33 430.6,466.59 431.16,466.82 431.71,466.21 432.27,467.85 432.83,467.45 433.39,468.68 433.94,468.3 434.5,469.09 435.09,468.23 435.68,467.64 436.26,467.43 436.85,467.31 437.44,467.07 438.02,465.93 438.61,465.66 439.2,465.08 439.81,462.04 440.43,465.85 441.04,464.97 441.66,465.93 442.27,465.51 442.89,465.21 443.5,465.57 444.14,465.41 444.78,466.39 445.42,466.59 446.06,466.74 446.7,467.02 447.43,468.52 448.17,471.5 448.9,471.65 449.54,472.55 450.18,470.84 450.82,470.67 451.46,469.92 452.1,470.26 452.74,470.27 453.38,471.7 454.02,471.45 454.66,472 455.3,473.16 456.03,472.6 456.77,474.32 457.5,474.9 458.06,474.37 458.62,473.96 459.18,473.11 459.74,472.68 460.3,472.57 460.9,473.56 461.5,474.88 462.1,474.87 462.7,475.58 463.3,477.27 463.9,477.95 464.46,476.35 465.02,476.11 465.58,474.87 466.14,473.92 466.7,475.44 467.45,476.88 468.2,480.12 468.93,480.27 469.67,478.93 470.4,477.58 471.04,478.2 471.68,478.45 472.32,479.56 472.96,479.17 473.6,479.44 474.16,479.16 474.71,479.32 475.27,479.4 475.83,480.41 476.39,479.58 476.94,479.23 477.5,478.88 478.12,480.89 478.75,480.9 479.38,481.5 480,482.09 480.73,482.67 481.47,483.01 482.2,484.66 482.77,483.63 483.33,481.2 483.9,480.36 484.52,479.47 485.13,479.8 485.75,479.77 486.37,478.48 486.98,478.91 487.6,479.32 488.24,479.3 488.88,478.93 489.52,477.09 490.16,477.92 490.8,477.75 491.41,478.81 492.03,477.82 492.64,478.93 493.26,478.71 493.87,479.15 494.49,478.97 495.1,478.69 495.71,479.43 496.33,479 496.94,482.2 497.56,480.06 498.17,479.62 498.79,480.14 499.4,480.52 500.01,480.95 500.63,481.14 501.24,479.59 501.86,481.47 502.47,480.73 503.09,481.26 503.7,481.21 504.31,481.7 504.93,482.1 505.54,481.46 506.16,481.29 506.77,482.49 507.39,482.58 508,483.25 508.64,482.32 509.28,482.86 509.92,483.4 510.56,484.3 511.2,483.17 511.81,483.7 512.43,483.04 513.04,482.8 513.66,482.84 514.27,483.05 514.89,482.89 515.5,482.91 516.11,483.05 516.73,485.24 517.34,483.45 517.96,484.4 518.57,484.37 519.19,484.68 519.8,484.91 520.41,484.69 521.03,486.45 521.64,486.85 522.26,487.35 522.87,487.27 523.49,487.34 524.1,488.34 524.74,487.94 525.38,487.97 526.02,486.86 526.66,487.48 527.3,486.56 527.85,486.85 528.4,486.8 528.95,487.3 529.5,485.94 530.05,486.09 530.6,486.65 531.3,487.72 532,488.15 532.7,489.41 533.34,488.59 533.98,488.27 534.62,488.68 535.26,490.61 535.9,487.54 536.45,487.84 537,487.76 537.55,488.98 538.1,489.11 538.65,490.31 539.2,490.08 539.81,490.16 540.43,490.95 541.04,490.9 541.66,491.21 542.27,492.28 542.89,492.37 543.5,492.56 544.11,492.5 544.73,492.22 545.34,492.32 545.96,491.71 546.57,493.11 547.19,492.8 547.8,492.91 548.47,493.3 549.15,494.12 549.83,493.78 550.5,493.75 551.3,491.1 552.1,488.3 552.74,490.48 553.38,488.65 554.02,487.79 554.66,488.55 555.3,489.31 555.91,489.54 556.53,488.91 557.14,488.59 557.76,489.25 558.37,488.69 558.99,489.31 559.6,489.06 560.24,488.2 560.88,486.61 561.52,486.03 562.16,485.75 562.8,484.22 563.44,483.75 564.08,485.1 564.72,484.33 565.36,483.47 566,485.69 566.64,483.09 567.28,483.9 567.92,482.93 568.56,483.46 569.2,483.24 570,487.15 570.8,491.08 571.37,488.99 571.93,487.74 572.5,485.75 573.2,487.83 573.9,487.35 574.6,487.58 575.17,490.21 575.73,492.42 576.3,494.21 577.2,501.87 578.3,489.97 579,491.12 579.7,490.99 580.4,493.07 580.95,493.47 581.5,493.56 582.05,494.63 582.6,495.65 583.15,494.8 583.7,495.34 584.26,494.46 584.81,494.89 585.37,495.15 585.93,494.5 586.49,495.01 587.04,494.74 587.6,494.8 588.35,490.46 589.1,486.64 589.83,486.54 590.57,485.48 591.3,485.06 591.85,485.89 592.4,486.91 592.95,488.13 593.5,488.96 594.16,488.78 594.82,489.28 595.48,489.45 596.14,490.85 596.8,490.02 597.44,489.62 598.08,490.24 598.72,490.78 599.36,490.86 600,490.16 600.66,491.21 601.32,490.9 601.98,491.14 602.64,491.58 603.3,492.58 603.85,492.5 604.4,493.05 604.95,491.74 605.5,491.86 606.05,491.69 606.6,491.89 607.15,492.71 607.7,492.25 608.34,492.88 608.98,491.62 609.62,492.08 610.26,493.26 610.9,492.32 611.45,491.09 612,492.47 612.55,491.52 613.1,492.9 613.65,490.79 614.2,491.26 614.81,491.65 615.43,492.44 616.04,491.41 616.66,492.5 617.27,493.17 617.89,494 618.5,493.27 619.15,495.21 619.8,495.12 620.45,496.86 621.1,497.19 621.68,496.62 622.26,496.51 622.84,496.35 623.42,495.73 624,495.23 624.64,495.1 625.28,495.38 625.92,494.75 626.56,495.23 627.2,495.12 627.88,495.66 628.55,494.74 629.23,495 629.9,494.7 630.46,495.43 631.01,496.2 631.57,496.31 632.13,495.34 632.69,496.44 633.24,498.69 633.8,497.98 634.41,496.94 635.03,497.28 635.64,497.32 636.26,497.5 636.87,497.09 637.49,497.71 638.1,497.91 638.65,498.14 639.2,497.41 639.75,497.7 640.3,498.08 640.85,498.47 641.4,498.27 641.95,498.35 642.5,498.25 643.05,498.57 643.6,498.41 644.24,498.45 644.88,499.05 645.52,499.82 646.16,500.64 646.8,501.06 647.35,501.07 647.9,499.81 648.45,500.03 649,499.85 649.55,499.02 650.1,499.19 650.65,499.79 651.2,499.57 651.8,500.11 652.4,500.58 653,500.02 653.6,500.29 654.2,500.28 654.8,499.6 655.4,500.67 656,500.61 656.6,500.77 657.15,500.17 657.7,500.2 658.25,497.96 658.8,500.31 659.35,500.79 659.9,500.3 660.45,500.39 661,500.17 661.55,500.85 662.1,500.33 662.74,500.99 663.38,500.83 664.02,498.06 664.66,501.3 665.3,501.54 665.85,501.8 666.4,502.21 666.95,502.48 667.5,502.55 668.05,502.61 668.6,503.24 669.15,504.24 669.7,505.54 670.3,504.64 670.9,505.28 671.5,505.4 672.1,505.38 672.7,504.92 673.3,506.49 673.9,506.07 674.5,506.18 675.1,508.3 675.65,505.75 676.2,506.5 676.75,506.76 677.3,506.26 677.85,506.09 678.4,506.36 678.95,505.35 679.5,506.19 680.05,505.96 680.6,506.03 681.15,505.23 681.7,504.2 682.31,505.38 682.93,504.75 683.54,506.34 684.16,506.56 684.77,507.7 685.39,507.63 686,507.95 686.63,507.33 687.26,508.18 687.89,508.02 688.51,507.55 689.14,508.24 689.77,507.73 690.4,508.42 691.01,507.43 691.63,508.47 692.24,508.64 692.86,508.3 693.47,507.95 694.09,508.78 694.7,509.05 695.3,509.16 695.9,507.89 696.5,507.33 697.1,507.23 697.7,507.46 698.3,506.98 698.9,506.15 699.5,506.5 700.06,506.83 700.61,506.83 701.17,507.25 701.73,507.94 702.29,508.02 702.84,508.84 703.4,509.58 703.95,508.85 704.5,508.57 705.05,509.24 705.6,509.41 706.15,508.96 706.7,510.53 707.25,510.55 707.8,509.38 708.35,509.29 708.9,510.19 709.45,510.13 710,509.85 710.6,510.11 711.2,510.79 711.8,511.01 712.4,511.16 713,511.56 713.6,507.58 714.2,510.8 714.8,511.09 715.4,511.31 715.95,511.8 716.5,511.81 717.05,512.32 717.6,513.18 718.15,513.72 718.7,514.59 719.31,514.58 719.93,514.66 720.54,514.27 721.16,515.16 721.77,514.33 722.39,514.49 723,515.01 723.63,513.94 724.26,515.74 724.89,514.84 725.51,516.1 726.14,516.2 726.77,516.7 727.4,517.04 728.04,519.43 728.68,518.72 729.32,518.74 729.96,519.65 730.6,520.16 731.25,521.93 731.9,521.77 732.55,523.04 733.2,523.8" fill="none" stroke="#3f58b8" stroke-width="0.75" stroke-linejoin="round"/>
</g>
<rect x="659.4" y="370.4" width="70.5" height="28" fill="#fff" stroke="#a0a0a0" stroke-width="0.9"/>
<line x1="663.77" y1="376.3" x2="684.07" y2="376.3" stroke="#5a76d0" stroke-width="0.9"/>
<rect x="673.09" y="375.4" width="1.8" height="1.8" fill="#4560c4"/>
<text x="686.61" y="378.7" font-size="6.9" fill="#000">47–68 keV</text>
<line x1="663.77" y1="384.7" x2="684.07" y2="384.7" stroke="#78c876" stroke-width="0.9"/>
<path d="M673.99,382.3 L676.19,386.2 L671.79,386.2 Z" fill="#fff" stroke="#78c876" stroke-width="0.8"/>
<text x="686.61" y="387.1" font-size="6.9" fill="#000">68–115 keV</text>
<line x1="663.77" y1="393.1" x2="684.07" y2="393.1" stroke="#f06060" stroke-width="0.9"/>
<circle cx="673.99" cy="393.1" r="2.1" fill="#fff" stroke="#f06060" stroke-width="0.8"/>
<text x="686.61" y="395.5" font-size="6.9" fill="#000">115–195 keV</text>
<line x1="424.5" y1="286.3" x2="424.5" y2="287.6" stroke="#5e5e5e" stroke-width="0.8"/>
<line x1="424.5" y1="367.3" x2="424.5" y2="366" stroke="#5e5e5e" stroke-width="0.8"/>
<line x1="424.5" y1="367.3" x2="424.5" y2="368.6" stroke="#5e5e5e" stroke-width="0.8"/>
<line x1="424.5" y1="448.5" x2="424.5" y2="447.2" stroke="#5e5e5e" stroke-width="0.8"/>
<line x1="424.5" y1="448.5" x2="424.5" y2="449.8" stroke="#5e5e5e" stroke-width="0.8"/>
<line x1="424.5" y1="529.8" x2="424.5" y2="528.5" stroke="#5e5e5e" stroke-width="0.8"/>
<line x1="432.22" y1="286.3" x2="432.22" y2="287.6" stroke="#5e5e5e" stroke-width="0.8"/>
<line x1="432.22" y1="367.3" x2="432.22" y2="366" stroke="#5e5e5e" stroke-width="0.8"/>
<line x1="432.22" y1="367.3" x2="432.22" y2="368.6" stroke="#5e5e5e" stroke-width="0.8"/>
<line x1="432.22" y1="448.5" x2="432.22" y2="447.2" stroke="#5e5e5e" stroke-width="0.8"/>
<line x1="432.22" y1="448.5" x2="432.22" y2="449.8" stroke="#5e5e5e" stroke-width="0.8"/>
<line x1="432.22" y1="529.8" x2="432.22" y2="528.5" stroke="#5e5e5e" stroke-width="0.8"/>
<line x1="439.94" y1="286.3" x2="439.94" y2="287.6" stroke="#5e5e5e" stroke-width="0.8"/>
<line x1="439.94" y1="367.3" x2="439.94" y2="366" stroke="#5e5e5e" stroke-width="0.8"/>
<line x1="439.94" y1="367.3" x2="439.94" y2="368.6" stroke="#5e5e5e" stroke-width="0.8"/>
<line x1="439.94" y1="448.5" x2="439.94" y2="447.2" stroke="#5e5e5e" stroke-width="0.8"/>
<line x1="439.94" y1="448.5" x2="439.94" y2="449.8" stroke="#5e5e5e" stroke-width="0.8"/>
<line x1="439.94" y1="529.8" x2="439.94" y2="528.5" stroke="#5e5e5e" stroke-width="0.8"/>
<line x1="447.66" y1="286.3" x2="447.66" y2="287.6" stroke="#5e5e5e" stroke-width="0.8"/>
<line x1="447.66" y1="367.3" x2="447.66" y2="366" stroke="#5e5e5e" stroke-width="0.8"/>
<line x1="447.66" y1="367.3" x2="447.66" y2="368.6" stroke="#5e5e5e" stroke-width="0.8"/>
<line x1="447.66" y1="448.5" x2="447.66" y2="447.2" stroke="#5e5e5e" stroke-width="0.8"/>
<line x1="447.66" y1="448.5" x2="447.66" y2="449.8" stroke="#5e5e5e" stroke-width="0.8"/>
<line x1="447.66" y1="529.8" x2="447.66" y2="528.5" stroke="#5e5e5e" stroke-width="0.8"/>
<line x1="455.38" y1="286.3" x2="455.38" y2="288.9" stroke="#5e5e5e" stroke-width="0.8"/>
<line x1="455.38" y1="367.3" x2="455.38" y2="364.7" stroke="#5e5e5e" stroke-width="0.8"/>
<line x1="455.38" y1="367.3" x2="455.38" y2="369.9" stroke="#5e5e5e" stroke-width="0.8"/>
<line x1="455.38" y1="448.5" x2="455.38" y2="445.9" stroke="#5e5e5e" stroke-width="0.8"/>
<line x1="455.38" y1="448.5" x2="455.38" y2="451.1" stroke="#5e5e5e" stroke-width="0.8"/>
<line x1="455.38" y1="529.8" x2="455.38" y2="527.2" stroke="#5e5e5e" stroke-width="0.8"/>
<line x1="463.1" y1="286.3" x2="463.1" y2="287.6" stroke="#5e5e5e" stroke-width="0.8"/>
<line x1="463.1" y1="367.3" x2="463.1" y2="366" stroke="#5e5e5e" stroke-width="0.8"/>
<line x1="463.1" y1="367.3" x2="463.1" y2="368.6" stroke="#5e5e5e" stroke-width="0.8"/>
<line x1="463.1" y1="448.5" x2="463.1" y2="447.2" stroke="#5e5e5e" stroke-width="0.8"/>
<line x1="463.1" y1="448.5" x2="463.1" y2="449.8" stroke="#5e5e5e" stroke-width="0.8"/>
<line x1="463.1" y1="529.8" x2="463.1" y2="528.5" stroke="#5e5e5e" stroke-width="0.8"/>
<line x1="470.82" y1="286.3" x2="470.82" y2="287.6" stroke="#5e5e5e" stroke-width="0.8"/>
<line x1="470.82" y1="367.3" x2="470.82" y2="366" stroke="#5e5e5e" stroke-width="0.8"/>
<line x1="470.82" y1="367.3" x2="470.82" y2="368.6" stroke="#5e5e5e" stroke-width="0.8"/>
<line x1="470.82" y1="448.5" x2="470.82" y2="447.2" stroke="#5e5e5e" stroke-width="0.8"/>
<line x1="470.82" y1="448.5" x2="470.82" y2="449.8" stroke="#5e5e5e" stroke-width="0.8"/>
<line x1="470.82" y1="529.8" x2="470.82" y2="528.5" stroke="#5e5e5e" stroke-width="0.8"/>
<line x1="478.54" y1="286.3" x2="478.54" y2="287.6" stroke="#5e5e5e" stroke-width="0.8"/>
<line x1="478.54" y1="367.3" x2="478.54" y2="366" stroke="#5e5e5e" stroke-width="0.8"/>
<line x1="478.54" y1="367.3" x2="478.54" y2="368.6" stroke="#5e5e5e" stroke-width="0.8"/>
<line x1="478.54" y1="448.5" x2="478.54" y2="447.2" stroke="#5e5e5e" stroke-width="0.8"/>
<line x1="478.54" y1="448.5" x2="478.54" y2="449.8" stroke="#5e5e5e" stroke-width="0.8"/>
<line x1="478.54" y1="529.8" x2="478.54" y2="528.5" stroke="#5e5e5e" stroke-width="0.8"/>
<line x1="486.26" y1="286.3" x2="486.26" y2="287.6" stroke="#5e5e5e" stroke-width="0.8"/>
<line x1="486.26" y1="367.3" x2="486.26" y2="366" stroke="#5e5e5e" stroke-width="0.8"/>
<line x1="486.26" y1="367.3" x2="486.26" y2="368.6" stroke="#5e5e5e" stroke-width="0.8"/>
<line x1="486.26" y1="448.5" x2="486.26" y2="447.2" stroke="#5e5e5e" stroke-width="0.8"/>
<line x1="486.26" y1="448.5" x2="486.26" y2="449.8" stroke="#5e5e5e" stroke-width="0.8"/>
<line x1="486.26" y1="529.8" x2="486.26" y2="528.5" stroke="#5e5e5e" stroke-width="0.8"/>
<line x1="493.98" y1="286.3" x2="493.98" y2="287.6" stroke="#5e5e5e" stroke-width="0.8"/>
<line x1="493.98" y1="367.3" x2="493.98" y2="366" stroke="#5e5e5e" stroke-width="0.8"/>
<line x1="493.98" y1="367.3" x2="493.98" y2="368.6" stroke="#5e5e5e" stroke-width="0.8"/>
<line x1="493.98" y1="448.5" x2="493.98" y2="447.2" stroke="#5e5e5e" stroke-width="0.8"/>
<line x1="493.98" y1="448.5" x2="493.98" y2="449.8" stroke="#5e5e5e" stroke-width="0.8"/>
<line x1="493.98" y1="529.8" x2="493.98" y2="528.5" stroke="#5e5e5e" stroke-width="0.8"/>
<line x1="501.7" y1="286.3" x2="501.7" y2="287.6" stroke="#5e5e5e" stroke-width="0.8"/>
<line x1="501.7" y1="367.3" x2="501.7" y2="366" stroke="#5e5e5e" stroke-width="0.8"/>
<line x1="501.7" y1="367.3" x2="501.7" y2="368.6" stroke="#5e5e5e" stroke-width="0.8"/>
<line x1="501.7" y1="448.5" x2="501.7" y2="447.2" stroke="#5e5e5e" stroke-width="0.8"/>
<line x1="501.7" y1="448.5" x2="501.7" y2="449.8" stroke="#5e5e5e" stroke-width="0.8"/>
<line x1="501.7" y1="529.8" x2="501.7" y2="528.5" stroke="#5e5e5e" stroke-width="0.8"/>
<line x1="509.42" y1="286.3" x2="509.42" y2="287.6" stroke="#5e5e5e" stroke-width="0.8"/>
<line x1="509.42" y1="367.3" x2="509.42" y2="366" stroke="#5e5e5e" stroke-width="0.8"/>
<line x1="509.42" y1="367.3" x2="509.42" y2="368.6" stroke="#5e5e5e" stroke-width="0.8"/>
<line x1="509.42" y1="448.5" x2="509.42" y2="447.2" stroke="#5e5e5e" stroke-width="0.8"/>
<line x1="509.42" y1="448.5" x2="509.42" y2="449.8" stroke="#5e5e5e" stroke-width="0.8"/>
<line x1="509.42" y1="529.8" x2="509.42" y2="528.5" stroke="#5e5e5e" stroke-width="0.8"/>
<line x1="517.14" y1="286.3" x2="517.14" y2="287.6" stroke="#5e5e5e" stroke-width="0.8"/>
<line x1="517.14" y1="367.3" x2="517.14" y2="366" stroke="#5e5e5e" stroke-width="0.8"/>
<line x1="517.14" y1="367.3" x2="517.14" y2="368.6" stroke="#5e5e5e" stroke-width="0.8"/>
<line x1="517.14" y1="448.5" x2="517.14" y2="447.2" stroke="#5e5e5e" stroke-width="0.8"/>
<line x1="517.14" y1="448.5" x2="517.14" y2="449.8" stroke="#5e5e5e" stroke-width="0.8"/>
<line x1="517.14" y1="529.8" x2="517.14" y2="528.5" stroke="#5e5e5e" stroke-width="0.8"/>
<line x1="524.86" y1="286.3" x2="524.86" y2="287.6" stroke="#5e5e5e" stroke-width="0.8"/>
<line x1="524.86" y1="367.3" x2="524.86" y2="366" stroke="#5e5e5e" stroke-width="0.8"/>
<line x1="524.86" y1="367.3" x2="524.86" y2="368.6" stroke="#5e5e5e" stroke-width="0.8"/>
<line x1="524.86" y1="448.5" x2="524.86" y2="447.2" stroke="#5e5e5e" stroke-width="0.8"/>
<line x1="524.86" y1="448.5" x2="524.86" y2="449.8" stroke="#5e5e5e" stroke-width="0.8"/>
<line x1="524.86" y1="529.8" x2="524.86" y2="528.5" stroke="#5e5e5e" stroke-width="0.8"/>
<line x1="532.58" y1="286.3" x2="532.58" y2="288.9" stroke="#5e5e5e" stroke-width="0.8"/>
<line x1="532.58" y1="367.3" x2="532.58" y2="364.7" stroke="#5e5e5e" stroke-width="0.8"/>
<line x1="532.58" y1="367.3" x2="532.58" y2="369.9" stroke="#5e5e5e" stroke-width="0.8"/>
<line x1="532.58" y1="448.5" x2="532.58" y2="445.9" stroke="#5e5e5e" stroke-width="0.8"/>
<line x1="532.58" y1="448.5" x2="532.58" y2="451.1" stroke="#5e5e5e" stroke-width="0.8"/>
<line x1="532.58" y1="529.8" x2="532.58" y2="527.2" stroke="#5e5e5e" stroke-width="0.8"/>
<line x1="540.3" y1="286.3" x2="540.3" y2="287.6" stroke="#5e5e5e" stroke-width="0.8"/>
<line x1="540.3" y1="367.3" x2="540.3" y2="366" stroke="#5e5e5e" stroke-width="0.8"/>
<line x1="540.3" y1="367.3" x2="540.3" y2="368.6" stroke="#5e5e5e" stroke-width="0.8"/>
<line x1="540.3" y1="448.5" x2="540.3" y2="447.2" stroke="#5e5e5e" stroke-width="0.8"/>
<line x1="540.3" y1="448.5" x2="540.3" y2="449.8" stroke="#5e5e5e" stroke-width="0.8"/>
<line x1="540.3" y1="529.8" x2="540.3" y2="528.5" stroke="#5e5e5e" stroke-width="0.8"/>
<line x1="548.02" y1="286.3" x2="548.02" y2="287.6" stroke="#5e5e5e" stroke-width="0.8"/>
<line x1="548.02" y1="367.3" x2="548.02" y2="366" stroke="#5e5e5e" stroke-width="0.8"/>
<line x1="548.02" y1="367.3" x2="548.02" y2="368.6" stroke="#5e5e5e" stroke-width="0.8"/>
<line x1="548.02" y1="448.5" x2="548.02" y2="447.2" stroke="#5e5e5e" stroke-width="0.8"/>
<line x1="548.02" y1="448.5" x2="548.02" y2="449.8" stroke="#5e5e5e" stroke-width="0.8"/>
<line x1="548.02" y1="529.8" x2="548.02" y2="528.5" stroke="#5e5e5e" stroke-width="0.8"/>
<line x1="555.74" y1="286.3" x2="555.74" y2="287.6" stroke="#5e5e5e" stroke-width="0.8"/>
<line x1="555.74" y1="367.3" x2="555.74" y2="366" stroke="#5e5e5e" stroke-width="0.8"/>
<line x1="555.74" y1="367.3" x2="555.74" y2="368.6" stroke="#5e5e5e" stroke-width="0.8"/>
<line x1="555.74" y1="448.5" x2="555.74" y2="447.2" stroke="#5e5e5e" stroke-width="0.8"/>
<line x1="555.74" y1="448.5" x2="555.74" y2="449.8" stroke="#5e5e5e" stroke-width="0.8"/>
<line x1="555.74" y1="529.8" x2="555.74" y2="528.5" stroke="#5e5e5e" stroke-width="0.8"/>
<line x1="563.46" y1="286.3" x2="563.46" y2="287.6" stroke="#5e5e5e" stroke-width="0.8"/>
<line x1="563.46" y1="367.3" x2="563.46" y2="366" stroke="#5e5e5e" stroke-width="0.8"/>
<line x1="563.46" y1="367.3" x2="563.46" y2="368.6" stroke="#5e5e5e" stroke-width="0.8"/>
<line x1="563.46" y1="448.5" x2="563.46" y2="447.2" stroke="#5e5e5e" stroke-width="0.8"/>
<line x1="563.46" y1="448.5" x2="563.46" y2="449.8" stroke="#5e5e5e" stroke-width="0.8"/>
<line x1="563.46" y1="529.8" x2="563.46" y2="528.5" stroke="#5e5e5e" stroke-width="0.8"/>
<line x1="571.18" y1="286.3" x2="571.18" y2="287.6" stroke="#5e5e5e" stroke-width="0.8"/>
<line x1="571.18" y1="367.3" x2="571.18" y2="366" stroke="#5e5e5e" stroke-width="0.8"/>
<line x1="571.18" y1="367.3" x2="571.18" y2="368.6" stroke="#5e5e5e" stroke-width="0.8"/>
<line x1="571.18" y1="448.5" x2="571.18" y2="447.2" stroke="#5e5e5e" stroke-width="0.8"/>
<line x1="571.18" y1="448.5" x2="571.18" y2="449.8" stroke="#5e5e5e" stroke-width="0.8"/>
<line x1="571.18" y1="529.8" x2="571.18" y2="528.5" stroke="#5e5e5e" stroke-width="0.8"/>
<line x1="578.9" y1="286.3" x2="578.9" y2="287.6" stroke="#5e5e5e" stroke-width="0.8"/>
<line x1="578.9" y1="367.3" x2="578.9" y2="366" stroke="#5e5e5e" stroke-width="0.8"/>
<line x1="578.9" y1="367.3" x2="578.9" y2="368.6" stroke="#5e5e5e" stroke-width="0.8"/>
<line x1="578.9" y1="448.5" x2="578.9" y2="447.2" stroke="#5e5e5e" stroke-width="0.8"/>
<line x1="578.9" y1="448.5" x2="578.9" y2="449.8" stroke="#5e5e5e" stroke-width="0.8"/>
<line x1="578.9" y1="529.8" x2="578.9" y2="528.5" stroke="#5e5e5e" stroke-width="0.8"/>
<line x1="586.62" y1="286.3" x2="586.62" y2="287.6" stroke="#5e5e5e" stroke-width="0.8"/>
<line x1="586.62" y1="367.3" x2="586.62" y2="366" stroke="#5e5e5e" stroke-width="0.8"/>
<line x1="586.62" y1="367.3" x2="586.62" y2="368.6" stroke="#5e5e5e" stroke-width="0.8"/>
<line x1="586.62" y1="448.5" x2="586.62" y2="447.2" stroke="#5e5e5e" stroke-width="0.8"/>
<line x1="586.62" y1="448.5" x2="586.62" y2="449.8" stroke="#5e5e5e" stroke-width="0.8"/>
<line x1="586.62" y1="529.8" x2="586.62" y2="528.5" stroke="#5e5e5e" stroke-width="0.8"/>
<line x1="594.34" y1="286.3" x2="594.34" y2="287.6" stroke="#5e5e5e" stroke-width="0.8"/>
<line x1="594.34" y1="367.3" x2="594.34" y2="366" stroke="#5e5e5e" stroke-width="0.8"/>
<line x1="594.34" y1="367.3" x2="594.34" y2="368.6" stroke="#5e5e5e" stroke-width="0.8"/>
<line x1="594.34" y1="448.5" x2="594.34" y2="447.2" stroke="#5e5e5e" stroke-width="0.8"/>
<line x1="594.34" y1="448.5" x2="594.34" y2="449.8" stroke="#5e5e5e" stroke-width="0.8"/>
<line x1="594.34" y1="529.8" x2="594.34" y2="528.5" stroke="#5e5e5e" stroke-width="0.8"/>
<line x1="602.06" y1="286.3" x2="602.06" y2="287.6" stroke="#5e5e5e" stroke-width="0.8"/>
<line x1="602.06" y1="367.3" x2="602.06" y2="366" stroke="#5e5e5e" stroke-width="0.8"/>
<line x1="602.06" y1="367.3" x2="602.06" y2="368.6" stroke="#5e5e5e" stroke-width="0.8"/>
<line x1="602.06" y1="448.5" x2="602.06" y2="447.2" stroke="#5e5e5e" stroke-width="0.8"/>
<line x1="602.06" y1="448.5" x2="602.06" y2="449.8" stroke="#5e5e5e" stroke-width="0.8"/>
<line x1="602.06" y1="529.8" x2="602.06" y2="528.5" stroke="#5e5e5e" stroke-width="0.8"/>
<line x1="609.78" y1="286.3" x2="609.78" y2="288.9" stroke="#5e5e5e" stroke-width="0.8"/>
<line x1="609.78" y1="367.3" x2="609.78" y2="364.7" stroke="#5e5e5e" stroke-width="0.8"/>
<line x1="609.78" y1="367.3" x2="609.78" y2="369.9" stroke="#5e5e5e" stroke-width="0.8"/>
<line x1="609.78" y1="448.5" x2="609.78" y2="445.9" stroke="#5e5e5e" stroke-width="0.8"/>
<line x1="609.78" y1="448.5" x2="609.78" y2="451.1" stroke="#5e5e5e" stroke-width="0.8"/>
<line x1="609.78" y1="529.8" x2="609.78" y2="527.2" stroke="#5e5e5e" stroke-width="0.8"/>
<line x1="617.5" y1="286.3" x2="617.5" y2="287.6" stroke="#5e5e5e" stroke-width="0.8"/>
<line x1="617.5" y1="367.3" x2="617.5" y2="366" stroke="#5e5e5e" stroke-width="0.8"/>
<line x1="617.5" y1="367.3" x2="617.5" y2="368.6" stroke="#5e5e5e" stroke-width="0.8"/>
<line x1="617.5" y1="448.5" x2="617.5" y2="447.2" stroke="#5e5e5e" stroke-width="0.8"/>
<line x1="617.5" y1="448.5" x2="617.5" y2="449.8" stroke="#5e5e5e" stroke-width="0.8"/>
<line x1="617.5" y1="529.8" x2="617.5" y2="528.5" stroke="#5e5e5e" stroke-width="0.8"/>
<line x1="625.22" y1="286.3" x2="625.22" y2="287.6" stroke="#5e5e5e" stroke-width="0.8"/>
<line x1="625.22" y1="367.3" x2="625.22" y2="366" stroke="#5e5e5e" stroke-width="0.8"/>
<line x1="625.22" y1="367.3" x2="625.22" y2="368.6" stroke="#5e5e5e" stroke-width="0.8"/>
<line x1="625.22" y1="448.5" x2="625.22" y2="447.2" stroke="#5e5e5e" stroke-width="0.8"/>
<line x1="625.22" y1="448.5" x2="625.22" y2="449.8" stroke="#5e5e5e" stroke-width="0.8"/>
<line x1="625.22" y1="529.8" x2="625.22" y2="528.5" stroke="#5e5e5e" stroke-width="0.8"/>
<line x1="632.94" y1="286.3" x2="632.94" y2="287.6" stroke="#5e5e5e" stroke-width="0.8"/>
<line x1="632.94" y1="367.3" x2="632.94" y2="366" stroke="#5e5e5e" stroke-width="0.8"/>
<line x1="632.94" y1="367.3" x2="632.94" y2="368.6" stroke="#5e5e5e" stroke-width="0.8"/>
<line x1="632.94" y1="448.5" x2="632.94" y2="447.2" stroke="#5e5e5e" stroke-width="0.8"/>
<line x1="632.94" y1="448.5" x2="632.94" y2="449.8" stroke="#5e5e5e" stroke-width="0.8"/>
<line x1="632.94" y1="529.8" x2="632.94" y2="528.5" stroke="#5e5e5e" stroke-width="0.8"/>
<line x1="640.66" y1="286.3" x2="640.66" y2="287.6" stroke="#5e5e5e" stroke-width="0.8"/>
<line x1="640.66" y1="367.3" x2="640.66" y2="366" stroke="#5e5e5e" stroke-width="0.8"/>
<line x1="640.66" y1="367.3" x2="640.66" y2="368.6" stroke="#5e5e5e" stroke-width="0.8"/>
<line x1="640.66" y1="448.5" x2="640.66" y2="447.2" stroke="#5e5e5e" stroke-width="0.8"/>
<line x1="640.66" y1="448.5" x2="640.66" y2="449.8" stroke="#5e5e5e" stroke-width="0.8"/>
<line x1="640.66" y1="529.8" x2="640.66" y2="528.5" stroke="#5e5e5e" stroke-width="0.8"/>
<line x1="648.38" y1="286.3" x2="648.38" y2="287.6" stroke="#5e5e5e" stroke-width="0.8"/>
<line x1="648.38" y1="367.3" x2="648.38" y2="366" stroke="#5e5e5e" stroke-width="0.8"/>
<line x1="648.38" y1="367.3" x2="648.38" y2="368.6" stroke="#5e5e5e" stroke-width="0.8"/>
<line x1="648.38" y1="448.5" x2="648.38" y2="447.2" stroke="#5e5e5e" stroke-width="0.8"/>
<line x1="648.38" y1="448.5" x2="648.38" y2="449.8" stroke="#5e5e5e" stroke-width="0.8"/>
<line x1="648.38" y1="529.8" x2="648.38" y2="528.5" stroke="#5e5e5e" stroke-width="0.8"/>
<line x1="656.1" y1="286.3" x2="656.1" y2="287.6" stroke="#5e5e5e" stroke-width="0.8"/>
<line x1="656.1" y1="367.3" x2="656.1" y2="366" stroke="#5e5e5e" stroke-width="0.8"/>
<line x1="656.1" y1="367.3" x2="656.1" y2="368.6" stroke="#5e5e5e" stroke-width="0.8"/>
<line x1="656.1" y1="448.5" x2="656.1" y2="447.2" stroke="#5e5e5e" stroke-width="0.8"/>
<line x1="656.1" y1="448.5" x2="656.1" y2="449.8" stroke="#5e5e5e" stroke-width="0.8"/>
<line x1="656.1" y1="529.8" x2="656.1" y2="528.5" stroke="#5e5e5e" stroke-width="0.8"/>
<line x1="663.82" y1="286.3" x2="663.82" y2="287.6" stroke="#5e5e5e" stroke-width="0.8"/>
<line x1="663.82" y1="367.3" x2="663.82" y2="366" stroke="#5e5e5e" stroke-width="0.8"/>
<line x1="663.82" y1="367.3" x2="663.82" y2="368.6" stroke="#5e5e5e" stroke-width="0.8"/>
<line x1="663.82" y1="448.5" x2="663.82" y2="447.2" stroke="#5e5e5e" stroke-width="0.8"/>
<line x1="663.82" y1="448.5" x2="663.82" y2="449.8" stroke="#5e5e5e" stroke-width="0.8"/>
<line x1="663.82" y1="529.8" x2="663.82" y2="528.5" stroke="#5e5e5e" stroke-width="0.8"/>
<line x1="671.54" y1="286.3" x2="671.54" y2="287.6" stroke="#5e5e5e" stroke-width="0.8"/>
<line x1="671.54" y1="367.3" x2="671.54" y2="366" stroke="#5e5e5e" stroke-width="0.8"/>
<line x1="671.54" y1="367.3" x2="671.54" y2="368.6" stroke="#5e5e5e" stroke-width="0.8"/>
<line x1="671.54" y1="448.5" x2="671.54" y2="447.2" stroke="#5e5e5e" stroke-width="0.8"/>
<line x1="671.54" y1="448.5" x2="671.54" y2="449.8" stroke="#5e5e5e" stroke-width="0.8"/>
<line x1="671.54" y1="529.8" x2="671.54" y2="528.5" stroke="#5e5e5e" stroke-width="0.8"/>
<line x1="679.26" y1="286.3" x2="679.26" y2="287.6" stroke="#5e5e5e" stroke-width="0.8"/>
<line x1="679.26" y1="367.3" x2="679.26" y2="366" stroke="#5e5e5e" stroke-width="0.8"/>
<line x1="679.26" y1="367.3" x2="679.26" y2="368.6" stroke="#5e5e5e" stroke-width="0.8"/>
<line x1="679.26" y1="448.5" x2="679.26" y2="447.2" stroke="#5e5e5e" stroke-width="0.8"/>
<line x1="679.26" y1="448.5" x2="679.26" y2="449.8" stroke="#5e5e5e" stroke-width="0.8"/>
<line x1="679.26" y1="529.8" x2="679.26" y2="528.5" stroke="#5e5e5e" stroke-width="0.8"/>
<line x1="686.98" y1="286.3" x2="686.98" y2="288.9" stroke="#5e5e5e" stroke-width="0.8"/>
<line x1="686.98" y1="367.3" x2="686.98" y2="364.7" stroke="#5e5e5e" stroke-width="0.8"/>
<line x1="686.98" y1="367.3" x2="686.98" y2="369.9" stroke="#5e5e5e" stroke-width="0.8"/>
<line x1="686.98" y1="448.5" x2="686.98" y2="445.9" stroke="#5e5e5e" stroke-width="0.8"/>
<line x1="686.98" y1="448.5" x2="686.98" y2="451.1" stroke="#5e5e5e" stroke-width="0.8"/>
<line x1="686.98" y1="529.8" x2="686.98" y2="527.2" stroke="#5e5e5e" stroke-width="0.8"/>
<line x1="694.7" y1="286.3" x2="694.7" y2="287.6" stroke="#5e5e5e" stroke-width="0.8"/>
<line x1="694.7" y1="367.3" x2="694.7" y2="366" stroke="#5e5e5e" stroke-width="0.8"/>
<line x1="694.7" y1="367.3" x2="694.7" y2="368.6" stroke="#5e5e5e" stroke-width="0.8"/>
<line x1="694.7" y1="448.5" x2="694.7" y2="447.2" stroke="#5e5e5e" stroke-width="0.8"/>
<line x1="694.7" y1="448.5" x2="694.7" y2="449.8" stroke="#5e5e5e" stroke-width="0.8"/>
<line x1="694.7" y1="529.8" x2="694.7" y2="528.5" stroke="#5e5e5e" stroke-width="0.8"/>
<line x1="702.42" y1="286.3" x2="702.42" y2="287.6" stroke="#5e5e5e" stroke-width="0.8"/>
<line x1="702.42" y1="367.3" x2="702.42" y2="366" stroke="#5e5e5e" stroke-width="0.8"/>
<line x1="702.42" y1="367.3" x2="702.42" y2="368.6" stroke="#5e5e5e" stroke-width="0.8"/>
<line x1="702.42" y1="448.5" x2="702.42" y2="447.2" stroke="#5e5e5e" stroke-width="0.8"/>
<line x1="702.42" y1="448.5" x2="702.42" y2="449.8" stroke="#5e5e5e" stroke-width="0.8"/>
<line x1="702.42" y1="529.8" x2="702.42" y2="528.5" stroke="#5e5e5e" stroke-width="0.8"/>
<line x1="710.14" y1="286.3" x2="710.14" y2="287.6" stroke="#5e5e5e" stroke-width="0.8"/>
<line x1="710.14" y1="367.3" x2="710.14" y2="366" stroke="#5e5e5e" stroke-width="0.8"/>
<line x1="710.14" y1="367.3" x2="710.14" y2="368.6" stroke="#5e5e5e" stroke-width="0.8"/>
<line x1="710.14" y1="448.5" x2="710.14" y2="447.2" stroke="#5e5e5e" stroke-width="0.8"/>
<line x1="710.14" y1="448.5" x2="710.14" y2="449.8" stroke="#5e5e5e" stroke-width="0.8"/>
<line x1="710.14" y1="529.8" x2="710.14" y2="528.5" stroke="#5e5e5e" stroke-width="0.8"/>
<line x1="717.86" y1="286.3" x2="717.86" y2="287.6" stroke="#5e5e5e" stroke-width="0.8"/>
<line x1="717.86" y1="367.3" x2="717.86" y2="366" stroke="#5e5e5e" stroke-width="0.8"/>
<line x1="717.86" y1="367.3" x2="717.86" y2="368.6" stroke="#5e5e5e" stroke-width="0.8"/>
<line x1="717.86" y1="448.5" x2="717.86" y2="447.2" stroke="#5e5e5e" stroke-width="0.8"/>
<line x1="717.86" y1="448.5" x2="717.86" y2="449.8" stroke="#5e5e5e" stroke-width="0.8"/>
<line x1="717.86" y1="529.8" x2="717.86" y2="528.5" stroke="#5e5e5e" stroke-width="0.8"/>
<line x1="725.58" y1="286.3" x2="725.58" y2="287.6" stroke="#5e5e5e" stroke-width="0.8"/>
<line x1="725.58" y1="367.3" x2="725.58" y2="366" stroke="#5e5e5e" stroke-width="0.8"/>
<line x1="725.58" y1="367.3" x2="725.58" y2="368.6" stroke="#5e5e5e" stroke-width="0.8"/>
<line x1="725.58" y1="448.5" x2="725.58" y2="447.2" stroke="#5e5e5e" stroke-width="0.8"/>
<line x1="725.58" y1="448.5" x2="725.58" y2="449.8" stroke="#5e5e5e" stroke-width="0.8"/>
<line x1="725.58" y1="529.8" x2="725.58" y2="528.5" stroke="#5e5e5e" stroke-width="0.8"/>
<line x1="733.3" y1="286.3" x2="733.3" y2="287.6" stroke="#5e5e5e" stroke-width="0.8"/>
<line x1="733.3" y1="367.3" x2="733.3" y2="366" stroke="#5e5e5e" stroke-width="0.8"/>
<line x1="733.3" y1="367.3" x2="733.3" y2="368.6" stroke="#5e5e5e" stroke-width="0.8"/>
<line x1="733.3" y1="448.5" x2="733.3" y2="447.2" stroke="#5e5e5e" stroke-width="0.8"/>
<line x1="733.3" y1="448.5" x2="733.3" y2="449.8" stroke="#5e5e5e" stroke-width="0.8"/>
<line x1="733.3" y1="529.8" x2="733.3" y2="528.5" stroke="#5e5e5e" stroke-width="0.8"/>
<line x1="424.5" y1="367.3" x2="427.1" y2="367.3" stroke="#5e5e5e" stroke-width="0.8"/>
<line x1="733.3" y1="367.3" x2="730.7" y2="367.3" stroke="#5e5e5e" stroke-width="0.8"/>
<line x1="424.5" y1="347.05" x2="427.1" y2="347.05" stroke="#5e5e5e" stroke-width="0.8"/>
<line x1="733.3" y1="347.05" x2="730.7" y2="347.05" stroke="#5e5e5e" stroke-width="0.8"/>
<line x1="424.5" y1="326.8" x2="427.1" y2="326.8" stroke="#5e5e5e" stroke-width="0.8"/>
<line x1="733.3" y1="326.8" x2="730.7" y2="326.8" stroke="#5e5e5e" stroke-width="0.8"/>
<line x1="424.5" y1="306.55" x2="427.1" y2="306.55" stroke="#5e5e5e" stroke-width="0.8"/>
<line x1="733.3" y1="306.55" x2="730.7" y2="306.55" stroke="#5e5e5e" stroke-width="0.8"/>
<line x1="424.5" y1="286.3" x2="427.1" y2="286.3" stroke="#5e5e5e" stroke-width="0.8"/>
<line x1="733.3" y1="286.3" x2="730.7" y2="286.3" stroke="#5e5e5e" stroke-width="0.8"/>
<line x1="424.5" y1="529.8" x2="427.1" y2="529.8" stroke="#5e5e5e" stroke-width="0.8"/>
<line x1="733.3" y1="529.8" x2="730.7" y2="529.8" stroke="#5e5e5e" stroke-width="0.8"/>
<line x1="424.5" y1="511.7" x2="427.1" y2="511.7" stroke="#5e5e5e" stroke-width="0.8"/>
<line x1="733.3" y1="511.7" x2="730.7" y2="511.7" stroke="#5e5e5e" stroke-width="0.8"/>
<line x1="424.5" y1="493.6" x2="427.1" y2="493.6" stroke="#5e5e5e" stroke-width="0.8"/>
<line x1="733.3" y1="493.6" x2="730.7" y2="493.6" stroke="#5e5e5e" stroke-width="0.8"/>
<line x1="424.5" y1="475.5" x2="427.1" y2="475.5" stroke="#5e5e5e" stroke-width="0.8"/>
<line x1="733.3" y1="475.5" x2="730.7" y2="475.5" stroke="#5e5e5e" stroke-width="0.8"/>
<line x1="424.5" y1="457.4" x2="427.1" y2="457.4" stroke="#5e5e5e" stroke-width="0.8"/>
<line x1="733.3" y1="457.4" x2="730.7" y2="457.4" stroke="#5e5e5e" stroke-width="0.8"/>
<line x1="424.5" y1="440.31" x2="425.9" y2="440.31" stroke="#5e5e5e" stroke-width="0.8"/>
<line x1="733.3" y1="440.31" x2="731.9" y2="440.31" stroke="#5e5e5e" stroke-width="0.8"/>
<line x1="424.5" y1="435.52" x2="425.9" y2="435.52" stroke="#5e5e5e" stroke-width="0.8"/>
<line x1="733.3" y1="435.52" x2="731.9" y2="435.52" stroke="#5e5e5e" stroke-width="0.8"/>
<line x1="424.5" y1="432.12" x2="425.9" y2="432.12" stroke="#5e5e5e" stroke-width="0.8"/>
<line x1="733.3" y1="432.12" x2="731.9" y2="432.12" stroke="#5e5e5e" stroke-width="0.8"/>
<line x1="424.5" y1="429.49" x2="425.9" y2="429.49" stroke="#5e5e5e" stroke-width="0.8"/>
<line x1="733.3" y1="429.49" x2="731.9" y2="429.49" stroke="#5e5e5e" stroke-width="0.8"/>
<line x1="424.5" y1="427.33" x2="425.9" y2="427.33" stroke="#5e5e5e" stroke-width="0.8"/>
<line x1="733.3" y1="427.33" x2="731.9" y2="427.33" stroke="#5e5e5e" stroke-width="0.8"/>
<line x1="424.5" y1="425.51" x2="425.9" y2="425.51" stroke="#5e5e5e" stroke-width="0.8"/>
<line x1="733.3" y1="425.51" x2="731.9" y2="425.51" stroke="#5e5e5e" stroke-width="0.8"/>
<line x1="424.5" y1="423.94" x2="425.9" y2="423.94" stroke="#5e5e5e" stroke-width="0.8"/>
<line x1="733.3" y1="423.94" x2="731.9" y2="423.94" stroke="#5e5e5e" stroke-width="0.8"/>
<line x1="424.5" y1="422.54" x2="425.9" y2="422.54" stroke="#5e5e5e" stroke-width="0.8"/>
<line x1="733.3" y1="422.54" x2="731.9" y2="422.54" stroke="#5e5e5e" stroke-width="0.8"/>
<line x1="424.5" y1="421.3" x2="427.1" y2="421.3" stroke="#5e5e5e" stroke-width="0.8"/>
<line x1="733.3" y1="421.3" x2="730.7" y2="421.3" stroke="#5e5e5e" stroke-width="0.8"/>
<line x1="424.5" y1="413.11" x2="425.9" y2="413.11" stroke="#5e5e5e" stroke-width="0.8"/>
<line x1="733.3" y1="413.11" x2="731.9" y2="413.11" stroke="#5e5e5e" stroke-width="0.8"/>
<line x1="424.5" y1="408.32" x2="425.9" y2="408.32" stroke="#5e5e5e" stroke-width="0.8"/>
<line x1="733.3" y1="408.32" x2="731.9" y2="408.32" stroke="#5e5e5e" stroke-width="0.8"/>
<line x1="424.5" y1="404.92" x2="425.9" y2="404.92" stroke="#5e5e5e" stroke-width="0.8"/>
<line x1="733.3" y1="404.92" x2="731.9" y2="404.92" stroke="#5e5e5e" stroke-width="0.8"/>
<line x1="424.5" y1="402.29" x2="425.9" y2="402.29" stroke="#5e5e5e" stroke-width="0.8"/>
<line x1="733.3" y1="402.29" x2="731.9" y2="402.29" stroke="#5e5e5e" stroke-width="0.8"/>
<line x1="424.5" y1="400.13" x2="425.9" y2="400.13" stroke="#5e5e5e" stroke-width="0.8"/>
<line x1="733.3" y1="400.13" x2="731.9" y2="400.13" stroke="#5e5e5e" stroke-width="0.8"/>
<line x1="424.5" y1="398.31" x2="425.9" y2="398.31" stroke="#5e5e5e" stroke-width="0.8"/>
<line x1="733.3" y1="398.31" x2="731.9" y2="398.31" stroke="#5e5e5e" stroke-width="0.8"/>
<line x1="424.5" y1="396.74" x2="425.9" y2="396.74" stroke="#5e5e5e" stroke-width="0.8"/>
<line x1="733.3" y1="396.74" x2="731.9" y2="396.74" stroke="#5e5e5e" stroke-width="0.8"/>
<line x1="424.5" y1="395.34" x2="425.9" y2="395.34" stroke="#5e5e5e" stroke-width="0.8"/>
<line x1="733.3" y1="395.34" x2="731.9" y2="395.34" stroke="#5e5e5e" stroke-width="0.8"/>
<line x1="424.5" y1="394.1" x2="427.1" y2="394.1" stroke="#5e5e5e" stroke-width="0.8"/>
<line x1="733.3" y1="394.1" x2="730.7" y2="394.1" stroke="#5e5e5e" stroke-width="0.8"/>
<rect x="424.5" y="286.3" width="308.8" height="81" fill="none" stroke="#a0a0a0" stroke-width="1"/>
<rect x="424.5" y="367.3" width="308.8" height="81.2" fill="none" stroke="#a0a0a0" stroke-width="1"/>
<rect x="424.5" y="448.5" width="308.8" height="81.3" fill="none" stroke="#a0a0a0" stroke-width="1"/>
<line x1="578" y1="367.5" x2="578" y2="286.8" stroke="#ee1111" stroke-width="2.1" stroke-dasharray="4.31 3.97"/>
<line x1="578" y1="448.7" x2="578" y2="367.8" stroke="#ee1111" stroke-width="2.1" stroke-dasharray="4.31 3.97"/>
<line x1="578" y1="530" x2="578" y2="449" stroke="#ee1111" stroke-width="2.1" stroke-dasharray="4.31 3.97"/>
<text x="419.3" y="372.63" font-size="12.45" text-anchor="end" fill="#111111">0</text>
<text x="419.3" y="352.38" font-size="12.45" text-anchor="end" fill="#111111">2</text>
<text x="419.3" y="332.13" font-size="12.45" text-anchor="end" fill="#111111">4</text>
<text x="419.3" y="311.88" font-size="12.45" text-anchor="end" fill="#111111">6</text>
<text x="419.3" y="291.63" font-size="12.45" text-anchor="end" fill="#111111">8</text>
<text x="419.3" y="535.13" font-size="12.45" text-anchor="end" fill="#111111">10</text>
<text x="419.3" y="517.03" font-size="12.45" text-anchor="end" fill="#111111">12</text>
<text x="419.3" y="498.93" font-size="12.45" text-anchor="end" fill="#111111">14</text>
<text x="419.3" y="480.83" font-size="12.45" text-anchor="end" fill="#111111">16</text>
<text x="419.3" y="462.73" font-size="12.45" text-anchor="end" fill="#111111">18</text>
<text x="415" y="453.83" font-size="12.45" text-anchor="end" fill="#111111">10</text>
<text x="415" y="446.9" font-size="8" fill="#111111">1</text>
<text x="415" y="426.63" font-size="12.45" text-anchor="end" fill="#111111">10</text>
<text x="415" y="419.7" font-size="8" fill="#111111">2</text>
<text x="415" y="399.43" font-size="12.45" text-anchor="end" fill="#111111">10</text>
<text x="415" y="392.5" font-size="8" fill="#111111">3</text>
<text x="455.38" y="544.2" font-size="12.45" text-anchor="middle" fill="#111111">150.7</text>
<text x="532.58" y="544.2" font-size="12.45" text-anchor="middle" fill="#111111">150.75</text>
<text x="609.78" y="544.2" font-size="12.45" text-anchor="middle" fill="#111111">150.8</text>
<text x="686.98" y="544.2" font-size="12.45" text-anchor="middle" fill="#111111">150.85</text>
<text x="578.9" y="561.6" font-size="12.45" text-anchor="middle" fill="#111111">DOY 2005</text>
<text transform="translate(388.6,326.8) rotate(-90)" font-size="12.45" text-anchor="middle" fill="#111111">PVI</text>
<text transform="translate(388.6,407.9) rotate(-90)" font-size="12.45" text-anchor="middle" fill="#111111">LEMS120</text>
<text transform="translate(388.6,489.15) rotate(-90)" font-size="12.45" text-anchor="middle" fill="#111111">B (nT)</text>
</svg>
</body></html>
